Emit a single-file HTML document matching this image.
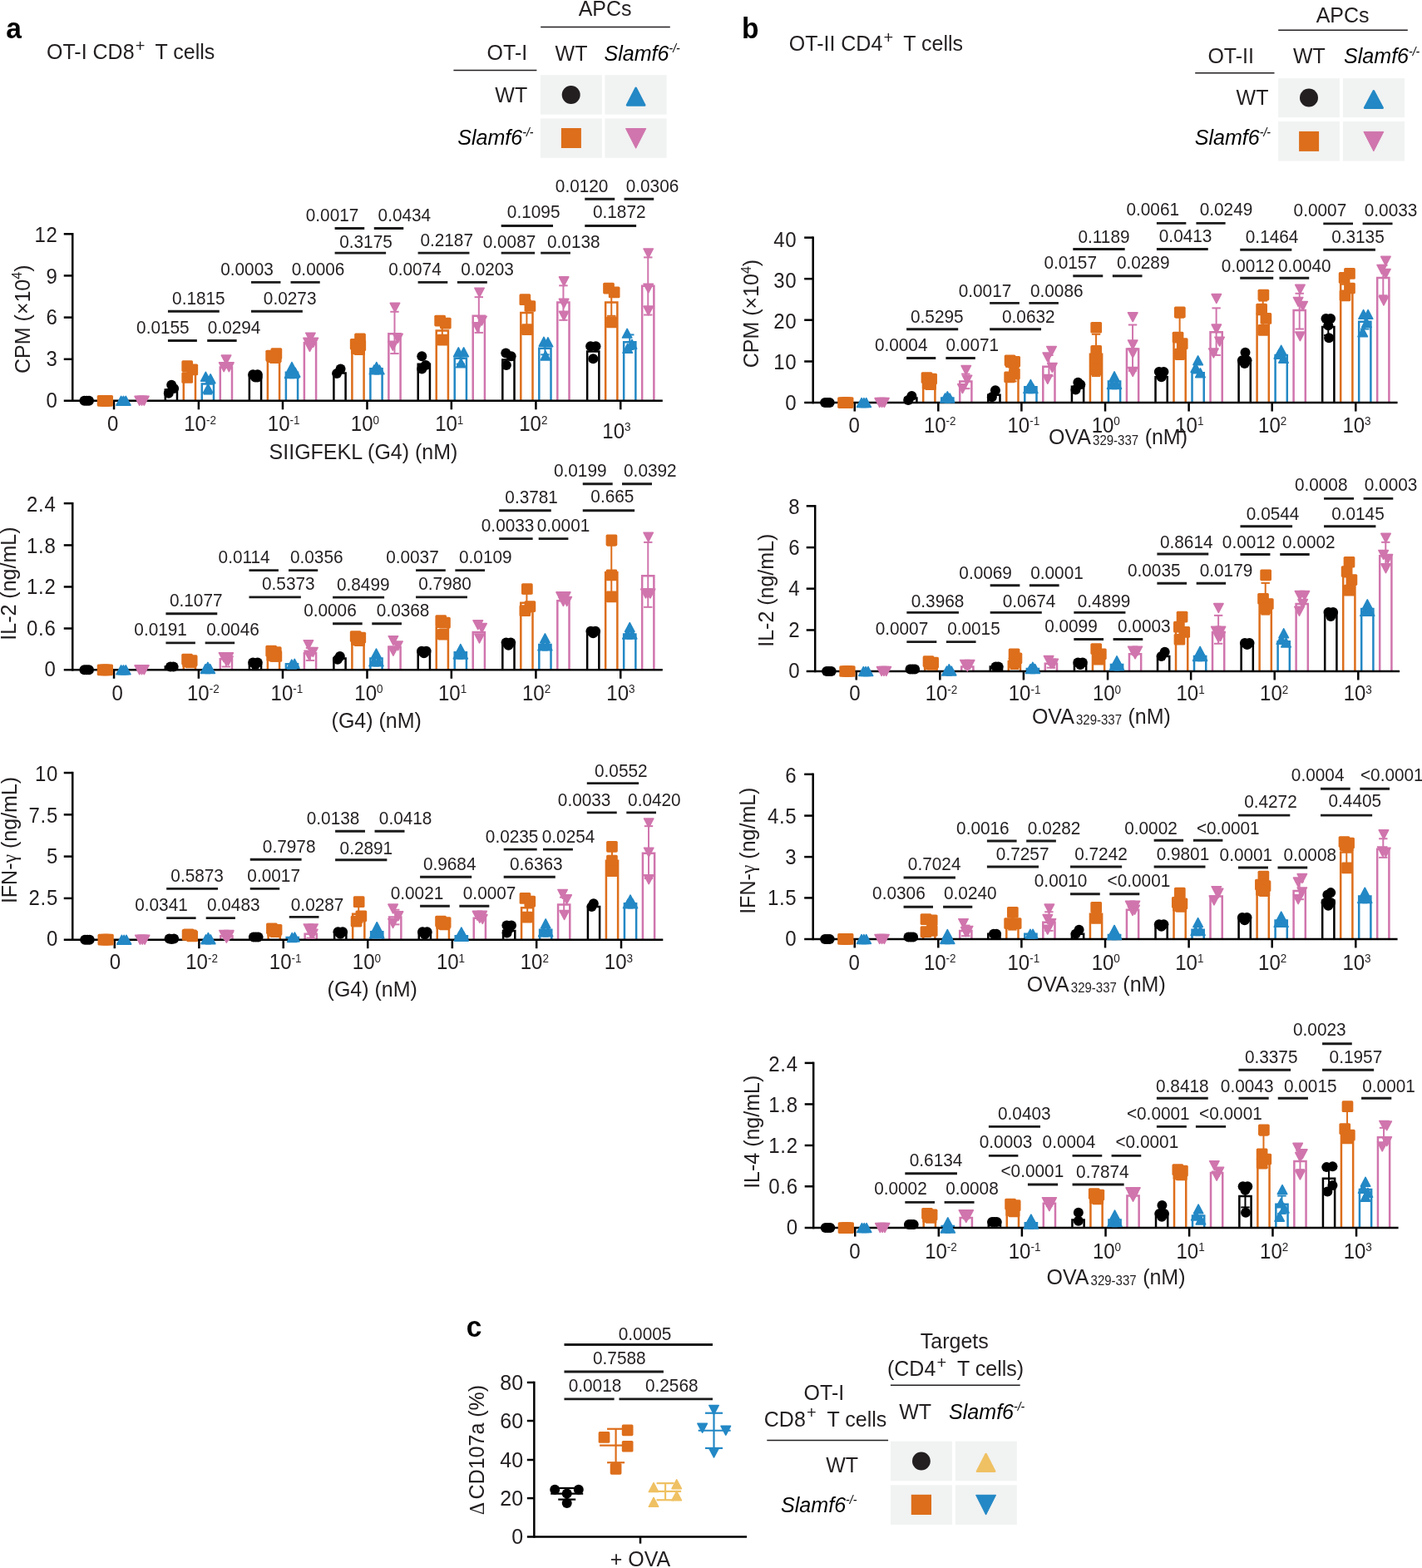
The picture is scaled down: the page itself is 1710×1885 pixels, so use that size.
<!DOCTYPE html>
<html lang="en"><head><meta charset="utf-8"><title>Figure</title>
<style>
html,body{margin:0;padding:0;background:#fff}
svg{display:block;filter:blur(0.5px)}
svg text{font-family:"Liberation Sans",sans-serif}
</style></head><body>
<svg width="1710" height="1885" viewBox="0 0 1710 1885">
<rect width="1710" height="1885" fill="#fff"/>
<g>
<text transform="translate(7.2,46.3) scale(1,1.05)" font-size="33.5" text-anchor="start" fill="#000" font-weight="bold">a</text>
<text transform="translate(892,46.3) scale(1,1.05)" font-size="33.5" text-anchor="start" fill="#000" font-weight="bold">b</text>
<text transform="translate(560.8,1607) scale(1,1.05)" font-size="33.5" text-anchor="start" fill="#000" font-weight="bold">c</text>
<text transform="translate(56,71) scale(1,1.05)" font-size="25" text-anchor="start" fill="#231f20">OT-I CD8<tspan font-size="20" dy="-8.7" dx="1.2">+</tspan><tspan dy="8.7" dx="5.6"> T cells</tspan></text>
<text transform="translate(948.8,61) scale(1,1.05)" font-size="25" text-anchor="start" fill="#231f20">OT-II CD4<tspan font-size="20" dy="-8.7" dx="1.2">+</tspan><tspan dy="8.7" dx="5.6"> T cells</tspan></text>
<text transform="translate(727.6,18.9) scale(1,1.05)" font-size="25" text-anchor="middle" fill="#231f20">APCs</text>
<line x1="650.2" y1="32.6" x2="805.8" y2="32.6" stroke="#231f20" stroke-width="1.5"/>
<text transform="translate(634.2,71.9) scale(1,1.05)" font-size="25" text-anchor="end" fill="#231f20">OT-I</text>
<line x1="545.4" y1="84.6" x2="645.4" y2="84.6" stroke="#231f20" stroke-width="1.5"/>
<text transform="translate(687,72.8) scale(1,1.05)" font-size="25" text-anchor="middle" fill="#231f20">WT</text>
<text transform="translate(726.4,72.8) scale(1,1.05)" font-size="25.1" text-anchor="start" fill="#000" font-style="italic">Slamf6<tspan font-size="14" dy="-9">-/-</tspan></text>
<rect x="649.8" y="90.2" width="74.1" height="47.5" fill="#f1f2f2"/>
<rect x="649.8" y="142.5" width="74.1" height="47.3" fill="#f1f2f2"/>
<rect x="727.4" y="90.2" width="74.2" height="47.5" fill="#f1f2f2"/>
<rect x="727.4" y="142.5" width="74.2" height="47.3" fill="#f1f2f2"/>
<circle cx="686.7" cy="114" r="11" fill="#231f20"/>
<polygon points="754.1,126.4 775.2,126.4 764.65,105.8" fill="#2388c5" stroke="#2388c5" stroke-width="2.6" stroke-linejoin="round"/>
<rect x="674.9" y="154" width="24" height="24" fill="#dd6e1b"/>
<polygon points="752.5,154.5 776.8,154.5 764.65,178.3" fill="#d075ad" stroke="#d075ad" stroke-width="1" stroke-linejoin="round"/>
<text transform="translate(634.2,122.8) scale(1,1.05)" font-size="25" text-anchor="end" fill="#231f20">WT</text>
<text transform="translate(641.5,173.7) scale(1,1.05)" font-size="25.1" text-anchor="end" fill="#000" font-style="italic">Slamf6<tspan font-size="14" dy="-9">-/-</tspan></text>
<text transform="translate(1614.6,27.2) scale(1,1.05)" font-size="25" text-anchor="middle" fill="#231f20">APCs</text>
<line x1="1537.2" y1="36.3" x2="1692.8" y2="36.3" stroke="#231f20" stroke-width="1.5"/>
<text transform="translate(1480.2,75.8) scale(1,1.05)" font-size="25" text-anchor="middle" fill="#231f20">OT-II</text>
<line x1="1437.2" y1="87.7" x2="1532.5" y2="87.7" stroke="#231f20" stroke-width="1.5"/>
<text transform="translate(1574.4,75.8) scale(1,1.05)" font-size="25" text-anchor="middle" fill="#231f20">WT</text>
<text transform="translate(1616,76.3) scale(1,1.05)" font-size="25.1" text-anchor="start" fill="#000" font-style="italic">Slamf6<tspan font-size="14" dy="-9">-/-</tspan></text>
<rect x="1537.2" y="94.2" width="73.7" height="47" fill="#f1f2f2"/>
<rect x="1537.2" y="146" width="73.7" height="47.5" fill="#f1f2f2"/>
<rect x="1614.9" y="94.2" width="74.1" height="47" fill="#f1f2f2"/>
<rect x="1614.9" y="146" width="74.1" height="47.5" fill="#f1f2f2"/>
<circle cx="1574" cy="117.5" r="11" fill="#231f20"/>
<polygon points="1641.1,129.7 1662.6,129.7 1651.85,109.3" fill="#2388c5" stroke="#2388c5" stroke-width="2.6" stroke-linejoin="round"/>
<rect x="1562.1" y="157.9" width="24" height="24" fill="#dd6e1b"/>
<polygon points="1639.9,158.4 1663.8,158.4 1651.85,181.8" fill="#d075ad" stroke="#d075ad" stroke-width="1" stroke-linejoin="round"/>
<text transform="translate(1525.4,126) scale(1,1.05)" font-size="25" text-anchor="end" fill="#231f20">WT</text>
<text transform="translate(1528,173.7) scale(1,1.05)" font-size="25.1" text-anchor="end" fill="#000" font-style="italic">Slamf6<tspan font-size="14" dy="-9">-/-</tspan></text>
<text transform="translate(1147.8,1620.8) scale(1,1.05)" font-size="25" text-anchor="middle" fill="#231f20">Targets</text>
<text transform="translate(1067,1654) scale(1,1.05)" font-size="25" text-anchor="start" fill="#231f20">(CD4<tspan font-size="20" dy="-8.7" dx="1.2">+</tspan><tspan dy="8.7" dx="6.3"> T cells)</tspan></text>
<line x1="1070.9" y1="1665.2" x2="1226.7" y2="1665.2" stroke="#231f20" stroke-width="1.5"/>
<text transform="translate(990.9,1683) scale(1,1.05)" font-size="25" text-anchor="middle" fill="#231f20">OT-I</text>
<text transform="translate(918.8,1714.5) scale(1,1.05)" font-size="25" text-anchor="start" fill="#231f20">CD8<tspan font-size="20" dy="-8.7" dx="1.2">+</tspan><tspan dy="8.7" dx="6.3"> T cells</tspan></text>
<line x1="922.3" y1="1731.6" x2="1068.1" y2="1731.6" stroke="#231f20" stroke-width="1.5"/>
<text transform="translate(1100.7,1705.9) scale(1,1.05)" font-size="25" text-anchor="middle" fill="#231f20">WT</text>
<text transform="translate(1141,1705.9) scale(1,1.05)" font-size="25.1" text-anchor="start" fill="#000" font-style="italic">Slamf6<tspan font-size="14" dy="-9">-/-</tspan></text>
<rect x="1070.9" y="1732.7" width="74" height="47.6" fill="#f1f2f2"/>
<rect x="1070.9" y="1785.3" width="74" height="47.6" fill="#f1f2f2"/>
<rect x="1148.8" y="1732.7" width="74" height="47.6" fill="#f1f2f2"/>
<rect x="1148.8" y="1785.3" width="74" height="47.6" fill="#f1f2f2"/>
<circle cx="1107.9" cy="1756.5" r="10.9" fill="#231f20"/>
<polygon points="1175,1768.8 1196.2,1768.8 1185.6,1748.2" fill="#efc163" stroke="#efc163" stroke-width="2.6" stroke-linejoin="round"/>
<rect x="1095.8" y="1796.8" width="24.2" height="24.2" fill="#dd6e1b"/>
<polygon points="1173.6,1797.3 1197.6,1797.3 1185.6,1821.1" fill="#2388c5" stroke="#2388c5" stroke-width="1" stroke-linejoin="round"/>
<text transform="translate(1032,1769.5) scale(1,1.05)" font-size="25" text-anchor="end" fill="#231f20">WT</text>
<text transform="translate(1030.3,1817.7) scale(1,1.05)" font-size="25.1" text-anchor="end" fill="#000" font-style="italic">Slamf6<tspan font-size="14" dy="-9">-/-</tspan></text>
</g>
<g>
<line x1="87.26" y1="280.05" x2="87.26" y2="483.06" stroke="#000" stroke-width="2.5"/>
<line x1="76.76" y1="281.3" x2="87.26" y2="281.3" stroke="#000" stroke-width="2.5"/>
<text transform="translate(69.5,291.2) scale(1,1.07)" font-size="24" text-anchor="end" fill="#231f20" letter-spacing="0.7">12</text>
<line x1="76.76" y1="331.39" x2="87.26" y2="331.39" stroke="#000" stroke-width="2.5"/>
<text transform="translate(69.5,340.74) scale(1,1.07)" font-size="24" text-anchor="end" fill="#231f20" letter-spacing="0.7">9</text>
<line x1="76.76" y1="381.61" x2="87.26" y2="381.61" stroke="#000" stroke-width="2.5"/>
<text transform="translate(69.5,390.41) scale(1,1.07)" font-size="24" text-anchor="end" fill="#231f20" letter-spacing="0.7">6</text>
<line x1="76.76" y1="431.8" x2="87.26" y2="431.8" stroke="#000" stroke-width="2.5"/>
<text transform="translate(69.5,440.05) scale(1,1.07)" font-size="24" text-anchor="end" fill="#231f20" letter-spacing="0.7">3</text>
<text transform="translate(69.5,489.51) scale(1,1.07)" font-size="24" text-anchor="end" fill="#231f20" letter-spacing="0.7">0</text>
<line x1="137.05" y1="481.81" x2="137.05" y2="492.31" stroke="#000" stroke-width="2.5"/>
<text transform="translate(135.79,518.25) scale(1,1.07)" font-size="24" text-anchor="middle" fill="#231f20">0</text>
<line x1="238.89" y1="481.81" x2="238.89" y2="492.31" stroke="#000" stroke-width="2.5"/>
<text transform="translate(221.24,518.25) scale(1,1.07)" font-size="24" text-anchor="start" fill="#231f20">10<tspan font-size="13.5" dy="-8.1">-2</tspan></text>
<line x1="339.98" y1="481.81" x2="339.98" y2="492.31" stroke="#000" stroke-width="2.5"/>
<text transform="translate(321.83,518.25) scale(1,1.07)" font-size="24" text-anchor="start" fill="#231f20">10<tspan font-size="13.5" dy="-8.1">-1</tspan></text>
<line x1="441.49" y1="481.81" x2="441.49" y2="492.31" stroke="#000" stroke-width="2.5"/>
<text transform="translate(421.83,518.25) scale(1,1.07)" font-size="24" text-anchor="start" fill="#231f20">10<tspan font-size="13.5" dy="-8.1">0</tspan></text>
<line x1="542.83" y1="481.81" x2="542.83" y2="492.31" stroke="#000" stroke-width="2.5"/>
<text transform="translate(523.17,518.25) scale(1,1.07)" font-size="24" text-anchor="start" fill="#231f20">10<tspan font-size="13.5" dy="-8.1">1</tspan></text>
<line x1="644.42" y1="481.81" x2="644.42" y2="492.31" stroke="#000" stroke-width="2.5"/>
<text transform="translate(624.26,518.25) scale(1,1.07)" font-size="24" text-anchor="start" fill="#231f20">10<tspan font-size="13.5" dy="-8.1">2</tspan></text>
<line x1="746.26" y1="481.81" x2="746.26" y2="492.31" stroke="#000" stroke-width="2.5"/>
<text transform="translate(724.34,527.05) scale(1,1.07)" font-size="24" text-anchor="start" fill="#231f20">10<tspan font-size="13.5" dy="-8.1">3</tspan></text>
<text transform="translate(35.9,383.7) rotate(-90) scale(1,1.05)" font-size="25" text-anchor="middle" fill="#231f20">CPM (×10<tspan font-size="16" dy="-9.3">4</tspan><tspan dy="9.3">)</tspan></text>
<text transform="translate(437,552) scale(1,1.05)" font-size="25" text-anchor="middle" fill="#231f20">SIIGFEKL (G4) (nM)</text>
<path d="M198.79 481.81 V468.56 H212.99 V481.81" fill="#fff" stroke="#000000" stroke-width="2.5"/>
<path d="M220.79 481.81 V448.95 H234.99 V481.81" fill="#fff" stroke="#dd6e1b" stroke-width="2.5"/>
<path d="M242.79 481.81 V461.52 H256.99 V481.81" fill="#fff" stroke="#2388c5" stroke-width="2.5"/>
<path d="M264.79 481.81 V441.5 H278.99 V481.81" fill="#fff" stroke="#d075ad" stroke-width="2.5"/>
<path d="M299.88 481.81 V451.84 H314.08 V481.81" fill="#fff" stroke="#000000" stroke-width="2.5"/>
<path d="M321.88 481.81 V428.83 H336.08 V481.81" fill="#fff" stroke="#dd6e1b" stroke-width="2.5"/>
<path d="M343.88 481.81 V447.69 H358.08 V481.81" fill="#fff" stroke="#2388c5" stroke-width="2.5"/>
<path d="M365.88 481.81 V412 H380.08 V481.81" fill="#fff" stroke="#d075ad" stroke-width="2.5"/>
<path d="M401.39 481.81 V448.44 H415.59 V481.81" fill="#fff" stroke="#000000" stroke-width="2.5"/>
<path d="M423.39 481.81 V416.26 H437.59 V481.81" fill="#fff" stroke="#dd6e1b" stroke-width="2.5"/>
<path d="M445.39 481.81 V443.25 H459.59 V481.81" fill="#fff" stroke="#2388c5" stroke-width="2.5"/>
<path d="M467.39 481.81 V401.17 H481.59 V481.81" fill="#fff" stroke="#d075ad" stroke-width="2.5"/>
<path d="M502.73 481.81 V437.63 H516.93 V481.81" fill="#fff" stroke="#000000" stroke-width="2.5"/>
<path d="M524.73 481.81 V397.4 H538.93 V481.81" fill="#fff" stroke="#dd6e1b" stroke-width="2.5"/>
<path d="M546.73 481.81 V430.84 H560.93 V481.81" fill="#fff" stroke="#2388c5" stroke-width="2.5"/>
<path d="M568.73 481.81 V379.8 H582.93 V481.81" fill="#fff" stroke="#d075ad" stroke-width="2.5"/>
<path d="M604.32 481.81 V432.6 H618.52 V481.81" fill="#fff" stroke="#000000" stroke-width="2.5"/>
<path d="M626.32 481.81 V376.02 H640.52 V481.81" fill="#fff" stroke="#dd6e1b" stroke-width="2.5"/>
<path d="M648.32 481.81 V418.77 H662.52 V481.81" fill="#fff" stroke="#2388c5" stroke-width="2.5"/>
<path d="M670.32 481.81 V363.45 H684.52 V481.81" fill="#fff" stroke="#d075ad" stroke-width="2.5"/>
<path d="M706.16 481.81 V422.54 H720.36 V481.81" fill="#fff" stroke="#000000" stroke-width="2.5"/>
<path d="M728.16 481.81 V363.45 H742.36 V481.81" fill="#fff" stroke="#dd6e1b" stroke-width="2.5"/>
<path d="M750.16 481.81 V411.23 H764.36 V481.81" fill="#fff" stroke="#2388c5" stroke-width="2.5"/>
<path d="M772.16 481.81 V343.84 H786.36 V481.81" fill="#fff" stroke="#d075ad" stroke-width="2.5"/>
<line x1="76.76" y1="481.81" x2="796.81" y2="481.81" stroke="#000" stroke-width="2.5"/>
<line x1="249.89" y1="456.49" x2="249.89" y2="473.59" stroke="#2388c5" stroke-width="2"/>
<line x1="244.69" y1="456.49" x2="255.09" y2="456.49" stroke="#2388c5" stroke-width="2"/>
<line x1="244.69" y1="473.59" x2="255.09" y2="473.59" stroke="#2388c5" stroke-width="2"/>
<line x1="474.49" y1="374.77" x2="474.49" y2="425.06" stroke="#d075ad" stroke-width="2"/>
<line x1="469.29" y1="374.77" x2="479.69" y2="374.77" stroke="#d075ad" stroke-width="2"/>
<line x1="469.29" y1="425.06" x2="479.69" y2="425.06" stroke="#d075ad" stroke-width="2"/>
<line x1="531.83" y1="389.85" x2="531.83" y2="406.2" stroke="#dd6e1b" stroke-width="2"/>
<line x1="526.63" y1="389.85" x2="537.03" y2="389.85" stroke="#dd6e1b" stroke-width="2"/>
<line x1="526.63" y1="406.2" x2="537.03" y2="406.2" stroke="#dd6e1b" stroke-width="2"/>
<line x1="553.83" y1="425.06" x2="553.83" y2="437.63" stroke="#2388c5" stroke-width="2"/>
<line x1="548.63" y1="425.06" x2="559.03" y2="425.06" stroke="#2388c5" stroke-width="2"/>
<line x1="548.63" y1="437.63" x2="559.03" y2="437.63" stroke="#2388c5" stroke-width="2"/>
<line x1="575.83" y1="357.16" x2="575.83" y2="399.91" stroke="#d075ad" stroke-width="2"/>
<line x1="570.63" y1="357.16" x2="581.03" y2="357.16" stroke="#d075ad" stroke-width="2"/>
<line x1="570.63" y1="399.91" x2="581.03" y2="399.91" stroke="#d075ad" stroke-width="2"/>
<line x1="633.42" y1="360.94" x2="633.42" y2="392.37" stroke="#dd6e1b" stroke-width="2"/>
<line x1="628.22" y1="360.94" x2="638.62" y2="360.94" stroke="#dd6e1b" stroke-width="2"/>
<line x1="628.22" y1="392.37" x2="638.62" y2="392.37" stroke="#dd6e1b" stroke-width="2"/>
<line x1="655.42" y1="412.49" x2="655.42" y2="426.32" stroke="#2388c5" stroke-width="2"/>
<line x1="650.22" y1="412.49" x2="660.62" y2="412.49" stroke="#2388c5" stroke-width="2"/>
<line x1="650.22" y1="426.32" x2="660.62" y2="426.32" stroke="#2388c5" stroke-width="2"/>
<line x1="677.42" y1="343.33" x2="677.42" y2="384.82" stroke="#d075ad" stroke-width="2"/>
<line x1="672.22" y1="343.33" x2="682.62" y2="343.33" stroke="#d075ad" stroke-width="2"/>
<line x1="672.22" y1="384.82" x2="682.62" y2="384.82" stroke="#d075ad" stroke-width="2"/>
<line x1="735.26" y1="348.36" x2="735.26" y2="379.8" stroke="#dd6e1b" stroke-width="2"/>
<line x1="730.06" y1="348.36" x2="740.46" y2="348.36" stroke="#dd6e1b" stroke-width="2"/>
<line x1="730.06" y1="379.8" x2="740.46" y2="379.8" stroke="#dd6e1b" stroke-width="2"/>
<line x1="757.26" y1="402.43" x2="757.26" y2="420.03" stroke="#2388c5" stroke-width="2"/>
<line x1="752.06" y1="402.43" x2="762.46" y2="402.43" stroke="#2388c5" stroke-width="2"/>
<line x1="752.06" y1="420.03" x2="762.46" y2="420.03" stroke="#2388c5" stroke-width="2"/>
<line x1="779.26" y1="309.39" x2="779.26" y2="378.54" stroke="#d075ad" stroke-width="2"/>
<line x1="774.06" y1="309.39" x2="784.46" y2="309.39" stroke="#d075ad" stroke-width="2"/>
<line x1="774.06" y1="378.54" x2="784.46" y2="378.54" stroke="#d075ad" stroke-width="2"/>
<circle cx="101.4" cy="481.81" r="6" fill="#000000"/>
<circle cx="107" cy="481.81" r="6" fill="#000000"/>
<circle cx="104.2" cy="481.81" r="6" fill="#000000"/>
<rect x="116.74" y="474.96" width="13.7" height="13.7" fill="#dd6e1b" rx="1.6"/>
<rect x="122.34" y="474.96" width="13.7" height="13.7" fill="#dd6e1b" rx="1.6"/>
<rect x="119.54" y="474.96" width="13.7" height="13.7" fill="#dd6e1b" rx="1.6"/>
<polygon points="139.96,487.21 151.36,487.21 145.66,476.41" fill="#2388c5" stroke="#2388c5" stroke-width="1.6" stroke-linejoin="round"/>
<polygon points="145.56,487.21 156.96,487.21 151.26,476.41" fill="#2388c5" stroke="#2388c5" stroke-width="1.6" stroke-linejoin="round"/>
<polygon points="142.76,487.21 154.16,487.21 148.46,476.41" fill="#2388c5" stroke="#2388c5" stroke-width="1.6" stroke-linejoin="round"/>
<polygon points="162.02,476.41 173.42,476.41 167.72,487.21" fill="#d075ad" stroke="#d075ad" stroke-width="1.6" stroke-linejoin="round"/>
<polygon points="167.62,476.41 179.02,476.41 173.32,487.21" fill="#d075ad" stroke="#d075ad" stroke-width="1.6" stroke-linejoin="round"/>
<polygon points="164.82,476.41 176.22,476.41 170.52,487.21" fill="#d075ad" stroke="#d075ad" stroke-width="1.6" stroke-linejoin="round"/>
<circle cx="206.2" cy="462.78" r="6" fill="#000000"/>
<circle cx="209.14" cy="467.05" r="6" fill="#000000"/>
<circle cx="202.78" cy="472.84" r="6" fill="#000000"/>
<rect x="218.36" y="433.3" width="13.7" height="13.7" fill="#dd6e1b" rx="1.6"/>
<rect x="224.44" y="437.57" width="13.7" height="13.7" fill="#dd6e1b" rx="1.6"/>
<rect x="218.36" y="447.13" width="13.7" height="13.7" fill="#dd6e1b" rx="1.6"/>
<polygon points="241.66,458.12 253.06,458.12 247.36,447.32" fill="#2388c5" stroke="#2388c5" stroke-width="1.6" stroke-linejoin="round"/>
<polygon points="247.44,460.63 258.84,460.63 253.14,449.83" fill="#2388c5" stroke="#2388c5" stroke-width="1.6" stroke-linejoin="round"/>
<polygon points="244.5,472.45 255.9,472.45 250.2,461.65" fill="#2388c5" stroke="#2388c5" stroke-width="1.6" stroke-linejoin="round"/>
<polygon points="266.3,427.1 277.7,427.1 272,437.9" fill="#d075ad" stroke="#d075ad" stroke-width="1.6" stroke-linejoin="round"/>
<polygon points="263.5,435.9 274.9,435.9 269.2,446.7" fill="#d075ad" stroke="#d075ad" stroke-width="1.6" stroke-linejoin="round"/>
<polygon points="269.7,435.9 281.1,435.9 275.4,446.7" fill="#d075ad" stroke="#d075ad" stroke-width="1.6" stroke-linejoin="round"/>
<circle cx="304.18" cy="450.2" r="6" fill="#000000"/>
<circle cx="306.98" cy="453.47" r="6" fill="#000000"/>
<circle cx="309.65" cy="453.47" r="6" fill="#000000"/>
<circle cx="309.78" cy="450.2" r="6" fill="#000000"/>
<rect x="325.52" y="418.21" width="13.7" height="13.7" fill="#dd6e1b" rx="1.6"/>
<rect x="323.81" y="423.24" width="13.7" height="13.7" fill="#dd6e1b" rx="1.6"/>
<rect x="319.33" y="420.72" width="13.7" height="13.7" fill="#dd6e1b" rx="1.6"/>
<rect x="324.93" y="422.22" width="13.7" height="13.7" fill="#dd6e1b" rx="1.6"/>
<rect x="320.45" y="422.24" width="13.7" height="13.7" fill="#dd6e1b" rx="1.6"/>
<polygon points="345.28,446.31 356.68,446.31 350.98,435.51" fill="#2388c5" stroke="#2388c5" stroke-width="1.6" stroke-linejoin="round"/>
<polygon points="342.48,454.39 353.88,454.39 348.18,443.59" fill="#2388c5" stroke="#2388c5" stroke-width="1.6" stroke-linejoin="round"/>
<polygon points="349.4,453.09 360.8,453.09 355.1,442.29" fill="#2388c5" stroke="#2388c5" stroke-width="1.6" stroke-linejoin="round"/>
<polygon points="348.08,454.39 359.48,454.39 353.78,443.59" fill="#2388c5" stroke="#2388c5" stroke-width="1.6" stroke-linejoin="round"/>
<polygon points="367.7,400.2 379.1,400.2 373.4,411" fill="#d075ad" stroke="#d075ad" stroke-width="1.6" stroke-linejoin="round"/>
<polygon points="364.9,406.4 376.3,406.4 370.6,417.2" fill="#d075ad" stroke="#d075ad" stroke-width="1.6" stroke-linejoin="round"/>
<polygon points="371.1,406.4 382.5,406.4 376.8,417.2" fill="#d075ad" stroke="#d075ad" stroke-width="1.6" stroke-linejoin="round"/>
<polygon points="366.8,411.6 378.2,411.6 372.5,422.4" fill="#d075ad" stroke="#d075ad" stroke-width="1.6" stroke-linejoin="round"/>
<circle cx="409.56" cy="443.42" r="6" fill="#000000"/>
<circle cx="405.09" cy="448.95" r="6" fill="#000000"/>
<rect x="426.17" y="400.61" width="13.7" height="13.7" fill="#dd6e1b" rx="1.6"/>
<rect x="420.84" y="406.89" width="13.7" height="13.7" fill="#dd6e1b" rx="1.6"/>
<rect x="425.32" y="413.18" width="13.7" height="13.7" fill="#dd6e1b" rx="1.6"/>
<rect x="426.44" y="408.39" width="13.7" height="13.7" fill="#dd6e1b" rx="1.6"/>
<rect x="421.96" y="412.18" width="13.7" height="13.7" fill="#dd6e1b" rx="1.6"/>
<polygon points="447.11,446.3 458.51,446.3 452.81,435.5" fill="#2388c5" stroke="#2388c5" stroke-width="1.6" stroke-linejoin="round"/>
<polygon points="444.26,449.82 455.66,449.82 449.96,439.02" fill="#2388c5" stroke="#2388c5" stroke-width="1.6" stroke-linejoin="round"/>
<polygon points="450.62,449.82 462.02,449.82 456.32,439.02" fill="#2388c5" stroke="#2388c5" stroke-width="1.6" stroke-linejoin="round"/>
<polygon points="469.24,364.34 480.64,364.34 474.94,375.14" fill="#d075ad" stroke="#d075ad" stroke-width="1.6" stroke-linejoin="round"/>
<polygon points="472.77,401.3 484.17,401.3 478.47,412.1" fill="#d075ad" stroke="#d075ad" stroke-width="1.6" stroke-linejoin="round"/>
<polygon points="466.72,410.35 478.12,410.35 472.42,421.15" fill="#d075ad" stroke="#d075ad" stroke-width="1.6" stroke-linejoin="round"/>
<circle cx="507.3" cy="428.33" r="6" fill="#000000"/>
<circle cx="511.9" cy="438.89" r="6" fill="#000000"/>
<circle cx="507.3" cy="443.42" r="6" fill="#000000"/>
<rect x="522.3" y="378.73" width="13.7" height="13.7" fill="#dd6e1b" rx="1.6"/>
<rect x="528.95" y="381.75" width="13.7" height="13.7" fill="#dd6e1b" rx="1.6"/>
<rect x="525.42" y="401.86" width="13.7" height="13.7" fill="#dd6e1b" rx="1.6"/>
<polygon points="545.6,428.7 557,428.7 551.3,417.9" fill="#2388c5" stroke="#2388c5" stroke-width="1.6" stroke-linejoin="round"/>
<polygon points="551.96,428.7 563.36,428.7 557.66,417.9" fill="#2388c5" stroke="#2388c5" stroke-width="1.6" stroke-linejoin="round"/>
<polygon points="548.7,441.77 560.1,441.77 554.4,430.97" fill="#2388c5" stroke="#2388c5" stroke-width="1.6" stroke-linejoin="round"/>
<polygon points="570.83,346.23 582.23,346.23 576.53,357.03" fill="#d075ad" stroke="#d075ad" stroke-width="1.6" stroke-linejoin="round"/>
<polygon points="573.82,380.18 585.22,380.18 579.52,390.98" fill="#d075ad" stroke="#d075ad" stroke-width="1.6" stroke-linejoin="round"/>
<polygon points="568.31,387.72 579.71,387.72 574.01,398.52" fill="#d075ad" stroke="#d075ad" stroke-width="1.6" stroke-linejoin="round"/>
<circle cx="608.31" cy="424.56" r="6" fill="#000000"/>
<circle cx="614.67" cy="428.33" r="6" fill="#000000"/>
<circle cx="608.89" cy="438.89" r="6" fill="#000000"/>
<rect x="624.5" y="353.33" width="13.7" height="13.7" fill="#dd6e1b" rx="1.6"/>
<rect x="630.55" y="361.13" width="13.7" height="13.7" fill="#dd6e1b" rx="1.6"/>
<rect x="627.01" y="389.29" width="13.7" height="13.7" fill="#dd6e1b" rx="1.6"/>
<polygon points="648.28,416.13 659.68,416.13 653.98,405.33" fill="#2388c5" stroke="#2388c5" stroke-width="1.6" stroke-linejoin="round"/>
<polygon points="653.27,416.63 664.67,416.63 658.97,405.83" fill="#2388c5" stroke="#2388c5" stroke-width="1.6" stroke-linejoin="round"/>
<polygon points="650.29,432.97 661.69,432.97 655.99,422.17" fill="#2388c5" stroke="#2388c5" stroke-width="1.6" stroke-linejoin="round"/>
<polygon points="672.42,332.9 683.82,332.9 678.12,343.7" fill="#d075ad" stroke="#d075ad" stroke-width="1.6" stroke-linejoin="round"/>
<polygon points="672.42,359.31 683.82,359.31 678.12,370.11" fill="#d075ad" stroke="#d075ad" stroke-width="1.6" stroke-linejoin="round"/>
<polygon points="672.42,374.4 683.82,374.4 678.12,385.2" fill="#d075ad" stroke="#d075ad" stroke-width="1.6" stroke-linejoin="round"/>
<circle cx="710.15" cy="416.26" r="6" fill="#000000"/>
<circle cx="716.51" cy="416.26" r="6" fill="#000000"/>
<circle cx="713.32" cy="431.35" r="6" fill="#000000"/>
<rect x="725.16" y="339.75" width="13.7" height="13.7" fill="#dd6e1b" rx="1.6"/>
<rect x="731.81" y="344.53" width="13.7" height="13.7" fill="#dd6e1b" rx="1.6"/>
<rect x="728.6" y="380.49" width="13.7" height="13.7" fill="#dd6e1b" rx="1.6"/>
<polygon points="748.46,406.07 759.86,406.07 754.16,395.27" fill="#2388c5" stroke="#2388c5" stroke-width="1.6" stroke-linejoin="round"/>
<polygon points="754.24,419.14 765.64,419.14 759.94,408.34" fill="#2388c5" stroke="#2388c5" stroke-width="1.6" stroke-linejoin="round"/>
<polygon points="749.03,424.17 760.43,424.17 754.73,413.37" fill="#2388c5" stroke="#2388c5" stroke-width="1.6" stroke-linejoin="round"/>
<polygon points="774.01,298.96 785.41,298.96 779.71,309.76" fill="#d075ad" stroke="#d075ad" stroke-width="1.6" stroke-linejoin="round"/>
<polygon points="774.01,341.2 785.41,341.2 779.71,352" fill="#d075ad" stroke="#d075ad" stroke-width="1.6" stroke-linejoin="round"/>
<polygon points="774.01,368.11 785.41,368.11 779.71,378.91" fill="#d075ad" stroke="#d075ad" stroke-width="1.6" stroke-linejoin="round"/>
<line x1="201.93" y1="409.52" x2="236.87" y2="409.52" stroke="#1a1a1a" stroke-width="2.9"/>
<text transform="translate(195.89,401.17) scale(1,1.05)" font-size="20.8" text-anchor="middle" fill="#231f20">0.0155</text>
<line x1="249.2" y1="409.52" x2="284.65" y2="409.52" stroke="#1a1a1a" stroke-width="2.9"/>
<text transform="translate(281.64,401.17) scale(1,1.05)" font-size="20.8" text-anchor="middle" fill="#231f20">0.0294</text>
<line x1="201.93" y1="374.31" x2="263.78" y2="374.31" stroke="#1a1a1a" stroke-width="2.9"/>
<text transform="translate(238.89,365.96) scale(1,1.05)" font-size="20.8" text-anchor="middle" fill="#231f20">0.1815</text>
<line x1="302.01" y1="339.36" x2="337.46" y2="339.36" stroke="#1a1a1a" stroke-width="2.9"/>
<text transform="translate(296.98,330.76) scale(1,1.05)" font-size="20.8" text-anchor="middle" fill="#231f20">0.0003</text>
<line x1="349.54" y1="339.36" x2="384.73" y2="339.36" stroke="#1a1a1a" stroke-width="2.9"/>
<text transform="translate(382.6,330.76) scale(1,1.05)" font-size="20.8" text-anchor="middle" fill="#231f20">0.0006</text>
<line x1="302.01" y1="374.31" x2="363.86" y2="374.31" stroke="#1a1a1a" stroke-width="2.9"/>
<text transform="translate(348.65,365.96) scale(1,1.05)" font-size="20.8" text-anchor="middle" fill="#231f20">0.0273</text>
<line x1="402.59" y1="274.48" x2="438.22" y2="274.48" stroke="#1a1a1a" stroke-width="2.9"/>
<text transform="translate(399.54,265.88) scale(1,1.05)" font-size="20.8" text-anchor="middle" fill="#231f20">0.0017</text>
<line x1="449.79" y1="274.48" x2="485.24" y2="274.48" stroke="#1a1a1a" stroke-width="2.9"/>
<text transform="translate(486.38,265.88) scale(1,1.05)" font-size="20.8" text-anchor="middle" fill="#231f20">0.0434</text>
<line x1="402.59" y1="304.15" x2="464.12" y2="304.15" stroke="#1a1a1a" stroke-width="2.9"/>
<text transform="translate(439.98,297.57) scale(1,1.05)" font-size="20.8" text-anchor="middle" fill="#231f20">0.3175</text>
<line x1="502.6" y1="304.15" x2="564.45" y2="304.15" stroke="#1a1a1a" stroke-width="2.9"/>
<text transform="translate(537.17,295.56) scale(1,1.05)" font-size="20.8" text-anchor="middle" fill="#231f20">0.2187</text>
<line x1="502.6" y1="339.36" x2="538.3" y2="339.36" stroke="#1a1a1a" stroke-width="2.9"/>
<text transform="translate(498.95,330.76) scale(1,1.05)" font-size="20.8" text-anchor="middle" fill="#231f20">0.0074</text>
<line x1="549.87" y1="339.36" x2="585.83" y2="339.36" stroke="#1a1a1a" stroke-width="2.9"/>
<text transform="translate(586.08,330.76) scale(1,1.05)" font-size="20.8" text-anchor="middle" fill="#231f20">0.0203</text>
<line x1="602.68" y1="271.46" x2="665.04" y2="271.46" stroke="#1a1a1a" stroke-width="2.9"/>
<text transform="translate(641.65,262.36) scale(1,1.05)" font-size="20.8" text-anchor="middle" fill="#231f20">0.1095</text>
<line x1="602.68" y1="304.15" x2="643.16" y2="304.15" stroke="#1a1a1a" stroke-width="2.9"/>
<text transform="translate(612.49,297.57) scale(1,1.05)" font-size="20.8" text-anchor="middle" fill="#231f20">0.0087</text>
<line x1="650.21" y1="304.15" x2="685.91" y2="304.15" stroke="#1a1a1a" stroke-width="2.9"/>
<text transform="translate(689.81,297.57) scale(1,1.05)" font-size="20.8" text-anchor="middle" fill="#231f20">0.0138</text>
<line x1="703.27" y1="239.28" x2="739.22" y2="239.28" stroke="#1a1a1a" stroke-width="2.9"/>
<text transform="translate(699.62,230.68) scale(1,1.05)" font-size="20.8" text-anchor="middle" fill="#231f20">0.0120</text>
<line x1="750.54" y1="239.28" x2="786.24" y2="239.28" stroke="#1a1a1a" stroke-width="2.9"/>
<text transform="translate(784.49,230.68) scale(1,1.05)" font-size="20.8" text-anchor="middle" fill="#231f20">0.0306</text>
<line x1="703.27" y1="271.46" x2="765.12" y2="271.46" stroke="#1a1a1a" stroke-width="2.9"/>
<text transform="translate(744.75,262.36) scale(1,1.05)" font-size="20.8" text-anchor="middle" fill="#231f20">0.1872</text>
</g>
<g>
<line x1="87.26" y1="603.88" x2="87.26" y2="806.54" stroke="#000" stroke-width="2.5"/>
<line x1="76.76" y1="605.13" x2="87.26" y2="605.13" stroke="#000" stroke-width="2.5"/>
<text transform="translate(67.5,615.03) scale(1,1.07)" font-size="24" text-anchor="end" fill="#231f20" letter-spacing="0.7">2.4</text>
<line x1="76.76" y1="655.42" x2="87.26" y2="655.42" stroke="#000" stroke-width="2.5"/>
<text transform="translate(67.5,664.77) scale(1,1.07)" font-size="24" text-anchor="end" fill="#231f20" letter-spacing="0.7">1.8</text>
<line x1="76.76" y1="705.46" x2="87.26" y2="705.46" stroke="#000" stroke-width="2.5"/>
<text transform="translate(67.5,714.26) scale(1,1.07)" font-size="24" text-anchor="end" fill="#231f20" letter-spacing="0.7">1.2</text>
<line x1="76.76" y1="755.5" x2="87.26" y2="755.5" stroke="#000" stroke-width="2.5"/>
<text transform="translate(67.5,763.75) scale(1,1.07)" font-size="24" text-anchor="end" fill="#231f20" letter-spacing="0.7">0.6</text>
<text transform="translate(67.5,812.99) scale(1,1.07)" font-size="24" text-anchor="end" fill="#231f20" letter-spacing="0.7">0</text>
<line x1="137.05" y1="805.29" x2="137.05" y2="815.79" stroke="#000" stroke-width="2.5"/>
<text transform="translate(141.07,841.65) scale(1,1.07)" font-size="24" text-anchor="middle" fill="#231f20">0</text>
<line x1="238.89" y1="805.29" x2="238.89" y2="815.79" stroke="#000" stroke-width="2.5"/>
<text transform="translate(225.02,841.65) scale(1,1.07)" font-size="24" text-anchor="start" fill="#231f20">10<tspan font-size="13.5" dy="-8.1">-2</tspan></text>
<line x1="339.98" y1="805.29" x2="339.98" y2="815.79" stroke="#000" stroke-width="2.5"/>
<text transform="translate(325.6,841.65) scale(1,1.07)" font-size="24" text-anchor="start" fill="#231f20">10<tspan font-size="13.5" dy="-8.1">-1</tspan></text>
<line x1="441.49" y1="805.29" x2="441.49" y2="815.79" stroke="#000" stroke-width="2.5"/>
<text transform="translate(426.36,841.65) scale(1,1.07)" font-size="24" text-anchor="start" fill="#231f20">10<tspan font-size="13.5" dy="-8.1">0</tspan></text>
<line x1="542.83" y1="805.29" x2="542.83" y2="815.79" stroke="#000" stroke-width="2.5"/>
<text transform="translate(526.95,841.65) scale(1,1.07)" font-size="24" text-anchor="start" fill="#231f20">10<tspan font-size="13.5" dy="-8.1">1</tspan></text>
<line x1="644.42" y1="805.29" x2="644.42" y2="815.79" stroke="#000" stroke-width="2.5"/>
<text transform="translate(628.03,841.65) scale(1,1.07)" font-size="24" text-anchor="start" fill="#231f20">10<tspan font-size="13.5" dy="-8.1">2</tspan></text>
<line x1="746.26" y1="805.29" x2="746.26" y2="815.79" stroke="#000" stroke-width="2.5"/>
<text transform="translate(729.37,841.65) scale(1,1.07)" font-size="24" text-anchor="start" fill="#231f20">10<tspan font-size="13.5" dy="-8.1">3</tspan></text>
<text transform="translate(19,701.6) rotate(-90) scale(1,1.05)" font-size="25" text-anchor="middle" fill="#231f20">IL-2 (ng/mL)</text>
<text transform="translate(452.7,874.6) scale(1,1.05)" font-size="25" text-anchor="middle" fill="#231f20">(G4) (nM)</text>
<path d="M198.79 805.29 V801.52 H212.99 V805.29" fill="#fff" stroke="#000000" stroke-width="2.5"/>
<path d="M220.79 805.29 V794.73 H234.99 V805.29" fill="#fff" stroke="#dd6e1b" stroke-width="2.5"/>
<path d="M264.79 805.29 V792.22 H278.99 V805.29" fill="#fff" stroke="#d075ad" stroke-width="2.5"/>
<path d="M299.88 805.29 V799.01 H314.08 V805.29" fill="#fff" stroke="#000000" stroke-width="2.5"/>
<path d="M321.88 805.29 V787.69 H336.08 V805.29" fill="#fff" stroke="#dd6e1b" stroke-width="2.5"/>
<path d="M343.88 805.29 V798.13 H358.08 V805.29" fill="#fff" stroke="#2388c5" stroke-width="2.5"/>
<path d="M365.88 805.29 V785.18 H380.08 V805.29" fill="#fff" stroke="#d075ad" stroke-width="2.5"/>
<path d="M401.39 805.29 V791.46 H415.59 V805.29" fill="#fff" stroke="#000000" stroke-width="2.5"/>
<path d="M423.39 805.29 V768.83 H437.59 V805.29" fill="#fff" stroke="#dd6e1b" stroke-width="2.5"/>
<path d="M445.39 805.29 V791.46 H459.59 V805.29" fill="#fff" stroke="#2388c5" stroke-width="2.5"/>
<path d="M467.39 805.29 V777.63 H481.59 V805.29" fill="#fff" stroke="#d075ad" stroke-width="2.5"/>
<path d="M502.73 805.29 V785.18 H516.93 V805.29" fill="#fff" stroke="#000000" stroke-width="2.5"/>
<path d="M524.73 805.29 V753.74 H538.93 V805.29" fill="#fff" stroke="#dd6e1b" stroke-width="2.5"/>
<path d="M546.73 805.29 V784.28 H560.93 V805.29" fill="#fff" stroke="#2388c5" stroke-width="2.5"/>
<path d="M568.73 805.29 V760.03 H582.93 V805.29" fill="#fff" stroke="#d075ad" stroke-width="2.5"/>
<path d="M604.32 805.29 V773.69 H618.52 V805.29" fill="#fff" stroke="#000000" stroke-width="2.5"/>
<path d="M626.32 805.29 V724.82 H640.52 V805.29" fill="#fff" stroke="#dd6e1b" stroke-width="2.5"/>
<path d="M648.32 805.29 V775.12 H662.52 V805.29" fill="#fff" stroke="#2388c5" stroke-width="2.5"/>
<path d="M670.32 805.29 V722.31 H684.52 V805.29" fill="#fff" stroke="#d075ad" stroke-width="2.5"/>
<path d="M706.16 805.29 V759.61 H720.36 V805.29" fill="#fff" stroke="#000000" stroke-width="2.5"/>
<path d="M728.16 805.29 V688.36 H742.36 V805.29" fill="#fff" stroke="#dd6e1b" stroke-width="2.5"/>
<path d="M750.16 805.29 V762.54 H764.36 V805.29" fill="#fff" stroke="#2388c5" stroke-width="2.5"/>
<path d="M772.16 805.29 V692.13 H786.36 V805.29" fill="#fff" stroke="#d075ad" stroke-width="2.5"/>
<line x1="76.76" y1="805.29" x2="796.81" y2="805.29" stroke="#000" stroke-width="2.5"/>
<line x1="271.89" y1="791.46" x2="271.89" y2="801.52" stroke="#d075ad" stroke-width="2"/>
<line x1="266.69" y1="791.46" x2="277.09" y2="791.46" stroke="#d075ad" stroke-width="2"/>
<line x1="266.69" y1="801.52" x2="277.09" y2="801.52" stroke="#d075ad" stroke-width="2"/>
<line x1="372.98" y1="778.89" x2="372.98" y2="793.98" stroke="#d075ad" stroke-width="2"/>
<line x1="367.78" y1="778.89" x2="378.18" y2="778.89" stroke="#d075ad" stroke-width="2"/>
<line x1="367.78" y1="793.98" x2="378.18" y2="793.98" stroke="#d075ad" stroke-width="2"/>
<line x1="633.42" y1="713.51" x2="633.42" y2="736.14" stroke="#dd6e1b" stroke-width="2"/>
<line x1="628.22" y1="713.51" x2="638.62" y2="713.51" stroke="#dd6e1b" stroke-width="2"/>
<line x1="628.22" y1="736.14" x2="638.62" y2="736.14" stroke="#dd6e1b" stroke-width="2"/>
<line x1="735.26" y1="655.67" x2="735.26" y2="721.05" stroke="#dd6e1b" stroke-width="2"/>
<line x1="730.06" y1="655.67" x2="740.46" y2="655.67" stroke="#dd6e1b" stroke-width="2"/>
<line x1="730.06" y1="721.05" x2="740.46" y2="721.05" stroke="#dd6e1b" stroke-width="2"/>
<line x1="779.26" y1="651.9" x2="779.26" y2="729.85" stroke="#d075ad" stroke-width="2"/>
<line x1="774.06" y1="651.9" x2="784.46" y2="651.9" stroke="#d075ad" stroke-width="2"/>
<line x1="774.06" y1="729.85" x2="784.46" y2="729.85" stroke="#d075ad" stroke-width="2"/>
<circle cx="101.4" cy="805.29" r="6" fill="#000000"/>
<circle cx="107" cy="805.29" r="6" fill="#000000"/>
<circle cx="104.2" cy="805.29" r="6" fill="#000000"/>
<rect x="116.74" y="798.44" width="13.7" height="13.7" fill="#dd6e1b" rx="1.6"/>
<rect x="122.34" y="798.44" width="13.7" height="13.7" fill="#dd6e1b" rx="1.6"/>
<rect x="119.54" y="798.44" width="13.7" height="13.7" fill="#dd6e1b" rx="1.6"/>
<polygon points="139.96,810.69 151.36,810.69 145.66,799.89" fill="#2388c5" stroke="#2388c5" stroke-width="1.6" stroke-linejoin="round"/>
<polygon points="145.56,810.69 156.96,810.69 151.26,799.89" fill="#2388c5" stroke="#2388c5" stroke-width="1.6" stroke-linejoin="round"/>
<polygon points="142.76,810.69 154.16,810.69 148.46,799.89" fill="#2388c5" stroke="#2388c5" stroke-width="1.6" stroke-linejoin="round"/>
<polygon points="162.02,799.89 173.42,799.89 167.72,810.69" fill="#d075ad" stroke="#d075ad" stroke-width="1.6" stroke-linejoin="round"/>
<polygon points="167.62,799.89 179.02,799.89 173.32,810.69" fill="#d075ad" stroke="#d075ad" stroke-width="1.6" stroke-linejoin="round"/>
<polygon points="164.82,799.89 176.22,799.89 170.52,810.69" fill="#d075ad" stroke="#d075ad" stroke-width="1.6" stroke-linejoin="round"/>
<circle cx="204.94" cy="801.52" r="6" fill="#000000"/>
<circle cx="208.56" cy="801.52" r="6" fill="#000000"/>
<rect x="218.24" y="785.87" width="13.7" height="13.7" fill="#dd6e1b" rx="1.6"/>
<rect x="222.72" y="789.64" width="13.7" height="13.7" fill="#dd6e1b" rx="1.6"/>
<rect x="223.84" y="787.37" width="13.7" height="13.7" fill="#dd6e1b" rx="1.6"/>
<rect x="219.36" y="788.64" width="13.7" height="13.7" fill="#dd6e1b" rx="1.6"/>
<polygon points="244.19,807.18 255.59,807.18 249.89,796.38" fill="#2388c5" stroke="#2388c5" stroke-width="1.6" stroke-linejoin="round"/>
<polygon points="241.39,809.48 252.79,809.48 247.09,798.68" fill="#2388c5" stroke="#2388c5" stroke-width="1.6" stroke-linejoin="round"/>
<polygon points="246.99,809.48 258.39,809.48 252.69,798.68" fill="#2388c5" stroke="#2388c5" stroke-width="1.6" stroke-linejoin="round"/>
<polygon points="263.39,784.8 274.79,784.8 269.09,795.6" fill="#d075ad" stroke="#d075ad" stroke-width="1.6" stroke-linejoin="round"/>
<polygon points="266.19,788.58 277.59,788.58 271.89,799.38" fill="#d075ad" stroke="#d075ad" stroke-width="1.6" stroke-linejoin="round"/>
<polygon points="268.72,789.08 280.12,789.08 274.42,799.88" fill="#d075ad" stroke="#d075ad" stroke-width="1.6" stroke-linejoin="round"/>
<polygon points="268.99,784.8 280.39,784.8 274.69,795.6" fill="#d075ad" stroke="#d075ad" stroke-width="1.6" stroke-linejoin="round"/>
<circle cx="304.18" cy="796.49" r="6" fill="#000000"/>
<circle cx="306.98" cy="799.01" r="6" fill="#000000"/>
<circle cx="309.78" cy="796.49" r="6" fill="#000000"/>
<rect x="319.33" y="775.81" width="13.7" height="13.7" fill="#dd6e1b" rx="1.6"/>
<rect x="323.81" y="782.1" width="13.7" height="13.7" fill="#dd6e1b" rx="1.6"/>
<rect x="325.52" y="782.1" width="13.7" height="13.7" fill="#dd6e1b" rx="1.6"/>
<rect x="324.93" y="777.31" width="13.7" height="13.7" fill="#dd6e1b" rx="1.6"/>
<rect x="320.45" y="781.1" width="13.7" height="13.7" fill="#dd6e1b" rx="1.6"/>
<polygon points="345.09,803.9 356.49,803.9 350.79,793.1" fill="#2388c5" stroke="#2388c5" stroke-width="1.6" stroke-linejoin="round"/>
<polygon points="348.53,803.15 359.93,803.15 354.23,792.35" fill="#2388c5" stroke="#2388c5" stroke-width="1.6" stroke-linejoin="round"/>
<polygon points="365.21,769.72 376.61,769.72 370.91,780.52" fill="#d075ad" stroke="#d075ad" stroke-width="1.6" stroke-linejoin="round"/>
<polygon points="370.68,778.52 382.08,778.52 376.38,789.32" fill="#d075ad" stroke="#d075ad" stroke-width="1.6" stroke-linejoin="round"/>
<polygon points="365.96,782.29 377.36,782.29 371.66,793.09" fill="#d075ad" stroke="#d075ad" stroke-width="1.6" stroke-linejoin="round"/>
<circle cx="408.8" cy="788.95" r="6" fill="#000000"/>
<circle cx="405.96" cy="792.72" r="6" fill="#000000"/>
<rect x="420.84" y="758.21" width="13.7" height="13.7" fill="#dd6e1b" rx="1.6"/>
<rect x="425.32" y="763.24" width="13.7" height="13.7" fill="#dd6e1b" rx="1.6"/>
<rect x="426.44" y="759.71" width="13.7" height="13.7" fill="#dd6e1b" rx="1.6"/>
<rect x="421.96" y="762.24" width="13.7" height="13.7" fill="#dd6e1b" rx="1.6"/>
<polygon points="446.79,790.83 458.19,790.83 452.49,780.03" fill="#2388c5" stroke="#2388c5" stroke-width="1.6" stroke-linejoin="round"/>
<polygon points="443.99,800.68 455.39,800.68 449.69,789.88" fill="#2388c5" stroke="#2388c5" stroke-width="1.6" stroke-linejoin="round"/>
<polygon points="449.59,800.68 460.99,800.68 455.29,789.88" fill="#2388c5" stroke="#2388c5" stroke-width="1.6" stroke-linejoin="round"/>
<polygon points="467.22,764.69 478.62,764.69 472.92,775.49" fill="#d075ad" stroke="#d075ad" stroke-width="1.6" stroke-linejoin="round"/>
<polygon points="472.77,770.97 484.17,770.97 478.47,781.77" fill="#d075ad" stroke="#d075ad" stroke-width="1.6" stroke-linejoin="round"/>
<polygon points="467.22,777.26 478.62,777.26 472.92,788.06" fill="#d075ad" stroke="#d075ad" stroke-width="1.6" stroke-linejoin="round"/>
<circle cx="507.03" cy="782.66" r="6" fill="#000000"/>
<circle cx="509.83" cy="785.18" r="6" fill="#000000"/>
<circle cx="512.63" cy="782.66" r="6" fill="#000000"/>
<rect x="523.41" y="739.35" width="13.7" height="13.7" fill="#dd6e1b" rx="1.6"/>
<rect x="528.09" y="741.86" width="13.7" height="13.7" fill="#dd6e1b" rx="1.6"/>
<rect x="525.92" y="755.69" width="13.7" height="13.7" fill="#dd6e1b" rx="1.6"/>
<polygon points="548.13,785.3 559.53,785.3 553.83,774.5" fill="#2388c5" stroke="#2388c5" stroke-width="1.6" stroke-linejoin="round"/>
<polygon points="545.33,791.88 556.73,791.88 551.03,781.08" fill="#2388c5" stroke="#2388c5" stroke-width="1.6" stroke-linejoin="round"/>
<polygon points="550.93,791.88 562.33,791.88 556.63,781.08" fill="#2388c5" stroke="#2388c5" stroke-width="1.6" stroke-linejoin="round"/>
<polygon points="569.07,745.83 580.47,745.83 574.77,756.63" fill="#d075ad" stroke="#d075ad" stroke-width="1.6" stroke-linejoin="round"/>
<polygon points="573.82,749.6 585.22,749.6 579.52,760.4" fill="#d075ad" stroke="#d075ad" stroke-width="1.6" stroke-linejoin="round"/>
<polygon points="570.83,762.17 582.23,762.17 576.53,772.97" fill="#d075ad" stroke="#d075ad" stroke-width="1.6" stroke-linejoin="round"/>
<circle cx="608.62" cy="772.6" r="6" fill="#000000"/>
<circle cx="611.42" cy="775.87" r="6" fill="#000000"/>
<circle cx="614.22" cy="772.6" r="6" fill="#000000"/>
<rect x="627.01" y="701.13" width="13.7" height="13.7" fill="#dd6e1b" rx="1.6"/>
<rect x="630.55" y="722.25" width="13.7" height="13.7" fill="#dd6e1b" rx="1.6"/>
<rect x="624.5" y="727.28" width="13.7" height="13.7" fill="#dd6e1b" rx="1.6"/>
<polygon points="649.72,772.73 661.12,772.73 655.42,761.93" fill="#2388c5" stroke="#2388c5" stroke-width="1.6" stroke-linejoin="round"/>
<polygon points="646.92,781.82 658.32,781.82 652.62,771.02" fill="#2388c5" stroke="#2388c5" stroke-width="1.6" stroke-linejoin="round"/>
<polygon points="652.52,781.82 663.92,781.82 658.22,771.02" fill="#2388c5" stroke="#2388c5" stroke-width="1.6" stroke-linejoin="round"/>
<polygon points="668.92,711.88 680.32,711.88 674.62,722.68" fill="#d075ad" stroke="#d075ad" stroke-width="1.6" stroke-linejoin="round"/>
<polygon points="671.72,717.66 683.12,717.66 677.42,728.46" fill="#d075ad" stroke="#d075ad" stroke-width="1.6" stroke-linejoin="round"/>
<polygon points="675.99,717.66 687.39,717.66 681.69,728.46" fill="#d075ad" stroke="#d075ad" stroke-width="1.6" stroke-linejoin="round"/>
<polygon points="674.52,711.88 685.92,711.88 680.22,722.68" fill="#d075ad" stroke="#d075ad" stroke-width="1.6" stroke-linejoin="round"/>
<circle cx="710.46" cy="758.77" r="6" fill="#000000"/>
<circle cx="713.26" cy="761.29" r="6" fill="#000000"/>
<circle cx="716.06" cy="758.77" r="6" fill="#000000"/>
<rect x="728.6" y="642.54" width="13.7" height="13.7" fill="#dd6e1b" rx="1.6"/>
<rect x="728.6" y="684.53" width="13.7" height="13.7" fill="#dd6e1b" rx="1.6"/>
<rect x="728.6" y="710.43" width="13.7" height="13.7" fill="#dd6e1b" rx="1.6"/>
<polygon points="751.56,759.4 762.96,759.4 757.26,748.6" fill="#2388c5" stroke="#2388c5" stroke-width="1.6" stroke-linejoin="round"/>
<polygon points="748.76,767.99 760.16,767.99 754.46,757.19" fill="#2388c5" stroke="#2388c5" stroke-width="1.6" stroke-linejoin="round"/>
<polygon points="754.36,767.99 765.76,767.99 760.06,757.19" fill="#2388c5" stroke="#2388c5" stroke-width="1.6" stroke-linejoin="round"/>
<polygon points="774.01,640.21 785.41,640.21 779.71,651.01" fill="#d075ad" stroke="#d075ad" stroke-width="1.6" stroke-linejoin="round"/>
<polygon points="770.76,708.11 782.16,708.11 776.46,718.91" fill="#d075ad" stroke="#d075ad" stroke-width="1.6" stroke-linejoin="round"/>
<polygon points="773.56,708.11 784.96,708.11 779.26,718.91" fill="#d075ad" stroke="#d075ad" stroke-width="1.6" stroke-linejoin="round"/>
<polygon points="776.36,708.11 787.76,708.11 782.06,718.91" fill="#d075ad" stroke="#d075ad" stroke-width="1.6" stroke-linejoin="round"/>
<line x1="199.41" y1="772.9" x2="234.86" y2="772.9" stroke="#1a1a1a" stroke-width="2.9"/>
<text transform="translate(193.12,764.3) scale(1,1.05)" font-size="20.8" text-anchor="middle" fill="#231f20">0.0191</text>
<line x1="246.69" y1="772.9" x2="282.14" y2="772.9" stroke="#1a1a1a" stroke-width="2.9"/>
<text transform="translate(280,764.3) scale(1,1.05)" font-size="20.8" text-anchor="middle" fill="#231f20">0.0046</text>
<line x1="199.41" y1="737.7" x2="261.27" y2="737.7" stroke="#1a1a1a" stroke-width="2.9"/>
<text transform="translate(235.75,729.1) scale(1,1.05)" font-size="20.8" text-anchor="middle" fill="#231f20">0.1077</text>
<line x1="299.49" y1="685.65" x2="334.94" y2="685.65" stroke="#1a1a1a" stroke-width="2.9"/>
<text transform="translate(293.58,677.05) scale(1,1.05)" font-size="20.8" text-anchor="middle" fill="#231f20">0.0114</text>
<line x1="347.02" y1="685.65" x2="382.22" y2="685.65" stroke="#1a1a1a" stroke-width="2.9"/>
<text transform="translate(380.71,677.05) scale(1,1.05)" font-size="20.8" text-anchor="middle" fill="#231f20">0.0356</text>
<line x1="299.49" y1="717.83" x2="361.85" y2="717.83" stroke="#1a1a1a" stroke-width="2.9"/>
<text transform="translate(346.77,708.98) scale(1,1.05)" font-size="20.8" text-anchor="middle" fill="#231f20">0.5373</text>
<line x1="400.08" y1="718.08" x2="462.11" y2="718.08" stroke="#1a1a1a" stroke-width="2.9"/>
<text transform="translate(436.71,709.74) scale(1,1.05)" font-size="20.8" text-anchor="middle" fill="#231f20">0.8499</text>
<line x1="400.08" y1="749.77" x2="435.7" y2="749.77" stroke="#1a1a1a" stroke-width="2.9"/>
<text transform="translate(396.93,741.17) scale(1,1.05)" font-size="20.8" text-anchor="middle" fill="#231f20">0.0006</text>
<line x1="447.28" y1="749.77" x2="482.98" y2="749.77" stroke="#1a1a1a" stroke-width="2.9"/>
<text transform="translate(484.62,741.17) scale(1,1.05)" font-size="20.8" text-anchor="middle" fill="#231f20">0.0368</text>
<line x1="500.08" y1="685.65" x2="535.79" y2="685.65" stroke="#1a1a1a" stroke-width="2.9"/>
<text transform="translate(495.93,677.05) scale(1,1.05)" font-size="20.8" text-anchor="middle" fill="#231f20">0.0037</text>
<line x1="547.36" y1="685.65" x2="583.06" y2="685.65" stroke="#1a1a1a" stroke-width="2.9"/>
<text transform="translate(583.82,677.05) scale(1,1.05)" font-size="20.8" text-anchor="middle" fill="#231f20">0.0109</text>
<line x1="500.08" y1="717.83" x2="561.94" y2="717.83" stroke="#1a1a1a" stroke-width="2.9"/>
<text transform="translate(535.04,708.98) scale(1,1.05)" font-size="20.8" text-anchor="middle" fill="#231f20">0.7980</text>
<line x1="600.17" y1="613.73" x2="662.77" y2="613.73" stroke="#1a1a1a" stroke-width="2.9"/>
<text transform="translate(639.14,605.38) scale(1,1.05)" font-size="20.8" text-anchor="middle" fill="#231f20">0.3781</text>
<line x1="600.17" y1="647.67" x2="640.65" y2="647.67" stroke="#1a1a1a" stroke-width="2.9"/>
<text transform="translate(610.6,639.33) scale(1,1.05)" font-size="20.8" text-anchor="middle" fill="#231f20">0.0033</text>
<line x1="647.69" y1="647.67" x2="683.39" y2="647.67" stroke="#1a1a1a" stroke-width="2.9"/>
<text transform="translate(677.49,639.33) scale(1,1.05)" font-size="20.8" text-anchor="middle" fill="#231f20">0.0001</text>
<line x1="700.75" y1="581.79" x2="736.7" y2="581.79" stroke="#1a1a1a" stroke-width="2.9"/>
<text transform="translate(697.73,573.19) scale(1,1.05)" font-size="20.8" text-anchor="middle" fill="#231f20">0.0199</text>
<line x1="748.03" y1="581.79" x2="783.98" y2="581.79" stroke="#1a1a1a" stroke-width="2.9"/>
<text transform="translate(781.85,573.19) scale(1,1.05)" font-size="20.8" text-anchor="middle" fill="#231f20">0.0392</text>
<line x1="700.75" y1="613.73" x2="763.11" y2="613.73" stroke="#1a1a1a" stroke-width="2.9"/>
<text transform="translate(736.33,604.12) scale(1,1.05)" font-size="20.8" text-anchor="middle" fill="#231f20">0.665</text>
</g>
<g>
<line x1="87.26" y1="927.79" x2="87.26" y2="1130.95" stroke="#000" stroke-width="2.5"/>
<line x1="76.76" y1="929.04" x2="87.26" y2="929.04" stroke="#000" stroke-width="2.5"/>
<text transform="translate(70,938.94) scale(1,1.07)" font-size="24" text-anchor="end" fill="#231f20" letter-spacing="0.7">10</text>
<line x1="76.76" y1="979.33" x2="87.26" y2="979.33" stroke="#000" stroke-width="2.5"/>
<text transform="translate(70,988.68) scale(1,1.07)" font-size="24" text-anchor="end" fill="#231f20" letter-spacing="0.7">7.5</text>
<line x1="76.76" y1="1029.62" x2="87.26" y2="1029.62" stroke="#000" stroke-width="2.5"/>
<text transform="translate(70,1038.42) scale(1,1.07)" font-size="24" text-anchor="end" fill="#231f20" letter-spacing="0.7">5</text>
<line x1="76.76" y1="1079.91" x2="87.26" y2="1079.91" stroke="#000" stroke-width="2.5"/>
<text transform="translate(70,1088.16) scale(1,1.07)" font-size="24" text-anchor="end" fill="#231f20" letter-spacing="0.7">2.5</text>
<text transform="translate(70,1137.4) scale(1,1.07)" font-size="24" text-anchor="end" fill="#231f20" letter-spacing="0.7">0</text>
<line x1="137.8" y1="1129.7" x2="137.8" y2="1140.2" stroke="#000" stroke-width="2.5"/>
<text transform="translate(138.3,1165.3) scale(1,1.07)" font-size="24" text-anchor="middle" fill="#231f20">0</text>
<line x1="239.39" y1="1129.7" x2="239.39" y2="1140.2" stroke="#000" stroke-width="2.5"/>
<text transform="translate(223.26,1165.3) scale(1,1.07)" font-size="24" text-anchor="start" fill="#231f20">10<tspan font-size="13.5" dy="-8.1">-2</tspan></text>
<line x1="340.73" y1="1129.7" x2="340.73" y2="1140.2" stroke="#000" stroke-width="2.5"/>
<text transform="translate(323.84,1165.3) scale(1,1.07)" font-size="24" text-anchor="start" fill="#231f20">10<tspan font-size="13.5" dy="-8.1">-1</tspan></text>
<line x1="442.25" y1="1129.7" x2="442.25" y2="1140.2" stroke="#000" stroke-width="2.5"/>
<text transform="translate(423.85,1165.3) scale(1,1.07)" font-size="24" text-anchor="start" fill="#231f20">10<tspan font-size="13.5" dy="-8.1">0</tspan></text>
<line x1="543.84" y1="1129.7" x2="543.84" y2="1140.2" stroke="#000" stroke-width="2.5"/>
<text transform="translate(524.93,1165.3) scale(1,1.07)" font-size="24" text-anchor="start" fill="#231f20">10<tspan font-size="13.5" dy="-8.1">1</tspan></text>
<line x1="645.18" y1="1129.7" x2="645.18" y2="1140.2" stroke="#000" stroke-width="2.5"/>
<text transform="translate(625.77,1165.3) scale(1,1.07)" font-size="24" text-anchor="start" fill="#231f20">10<tspan font-size="13.5" dy="-8.1">2</tspan></text>
<line x1="747.02" y1="1129.7" x2="747.02" y2="1140.2" stroke="#000" stroke-width="2.5"/>
<text transform="translate(726.86,1165.3) scale(1,1.07)" font-size="24" text-anchor="start" fill="#231f20">10<tspan font-size="13.5" dy="-8.1">3</tspan></text>
<text transform="translate(20.3,1010) rotate(-90) scale(1,1.05)" font-size="25" text-anchor="middle" fill="#231f20">IFN-<tspan font-family="Liberation Serif, serif" font-size="24">γ</tspan> (ng/mL)</text>
<text transform="translate(447.7,1197.8) scale(1,1.05)" font-size="25" text-anchor="middle" fill="#231f20">(G4) (nM)</text>
<path d="M221.29 1129.7 V1125.18 H235.49 V1129.7" fill="#fff" stroke="#dd6e1b" stroke-width="2.5"/>
<path d="M265.29 1129.7 V1125.18 H279.49 V1129.7" fill="#fff" stroke="#d075ad" stroke-width="2.5"/>
<path d="M300.63 1129.7 V1126.43 H314.83 V1129.7" fill="#fff" stroke="#000000" stroke-width="2.5"/>
<path d="M322.63 1129.7 V1118.39 H336.83 V1129.7" fill="#fff" stroke="#dd6e1b" stroke-width="2.5"/>
<path d="M344.63 1129.7 V1126.94 H358.83 V1129.7" fill="#fff" stroke="#2388c5" stroke-width="2.5"/>
<path d="M366.63 1129.7 V1122.66 H380.83 V1129.7" fill="#fff" stroke="#d075ad" stroke-width="2.5"/>
<path d="M402.15 1129.7 V1120.98 H416.35 V1129.7" fill="#fff" stroke="#000000" stroke-width="2.5"/>
<path d="M424.15 1129.7 V1098.77 H438.35 V1129.7" fill="#fff" stroke="#dd6e1b" stroke-width="2.5"/>
<path d="M446.15 1129.7 V1120.15 H460.35 V1129.7" fill="#fff" stroke="#2388c5" stroke-width="2.5"/>
<path d="M468.15 1129.7 V1102.54 H482.35 V1129.7" fill="#fff" stroke="#d075ad" stroke-width="2.5"/>
<path d="M503.74 1129.7 V1121.24 H517.94 V1129.7" fill="#fff" stroke="#000000" stroke-width="2.5"/>
<path d="M525.74 1129.7 V1111.35 H539.94 V1129.7" fill="#fff" stroke="#dd6e1b" stroke-width="2.5"/>
<path d="M547.74 1129.7 V1125.18 H561.94 V1129.7" fill="#fff" stroke="#2388c5" stroke-width="2.5"/>
<path d="M569.74 1129.7 V1103.8 H583.94 V1129.7" fill="#fff" stroke="#d075ad" stroke-width="2.5"/>
<path d="M605.08 1129.7 V1118.89 H619.28 V1129.7" fill="#fff" stroke="#000000" stroke-width="2.5"/>
<path d="M627.08 1129.7 V1091.23 H641.28 V1129.7" fill="#fff" stroke="#dd6e1b" stroke-width="2.5"/>
<path d="M649.08 1129.7 V1117.63 H663.28 V1129.7" fill="#fff" stroke="#2388c5" stroke-width="2.5"/>
<path d="M671.08 1129.7 V1087.46 H685.28 V1129.7" fill="#fff" stroke="#d075ad" stroke-width="2.5"/>
<path d="M706.92 1129.7 V1089.97 H721.12 V1129.7" fill="#fff" stroke="#000000" stroke-width="2.5"/>
<path d="M728.92 1129.7 V1034.65 H743.12 V1129.7" fill="#fff" stroke="#dd6e1b" stroke-width="2.5"/>
<path d="M750.92 1129.7 V1086.2 H765.12 V1129.7" fill="#fff" stroke="#2388c5" stroke-width="2.5"/>
<path d="M772.92 1129.7 V1025.85 H787.12 V1129.7" fill="#fff" stroke="#d075ad" stroke-width="2.5"/>
<line x1="76.76" y1="1129.7" x2="797.31" y2="1129.7" stroke="#000" stroke-width="2.5"/>
<line x1="373.73" y1="1117.63" x2="373.73" y2="1127.69" stroke="#d075ad" stroke-width="2"/>
<line x1="368.53" y1="1117.63" x2="378.93" y2="1117.63" stroke="#d075ad" stroke-width="2"/>
<line x1="368.53" y1="1127.69" x2="378.93" y2="1127.69" stroke="#d075ad" stroke-width="2"/>
<line x1="431.25" y1="1088.71" x2="431.25" y2="1108.83" stroke="#dd6e1b" stroke-width="2"/>
<line x1="426.05" y1="1088.71" x2="436.45" y2="1088.71" stroke="#dd6e1b" stroke-width="2"/>
<line x1="426.05" y1="1108.83" x2="436.45" y2="1108.83" stroke="#dd6e1b" stroke-width="2"/>
<line x1="475.25" y1="1093.74" x2="475.25" y2="1111.35" stroke="#d075ad" stroke-width="2"/>
<line x1="470.05" y1="1093.74" x2="480.45" y2="1093.74" stroke="#d075ad" stroke-width="2"/>
<line x1="470.05" y1="1111.35" x2="480.45" y2="1111.35" stroke="#d075ad" stroke-width="2"/>
<line x1="634.18" y1="1082.43" x2="634.18" y2="1097.51" stroke="#dd6e1b" stroke-width="2"/>
<line x1="628.98" y1="1082.43" x2="639.38" y2="1082.43" stroke="#dd6e1b" stroke-width="2"/>
<line x1="628.98" y1="1097.51" x2="639.38" y2="1097.51" stroke="#dd6e1b" stroke-width="2"/>
<line x1="678.18" y1="1078.65" x2="678.18" y2="1096.26" stroke="#d075ad" stroke-width="2"/>
<line x1="672.98" y1="1078.65" x2="683.38" y2="1078.65" stroke="#d075ad" stroke-width="2"/>
<line x1="672.98" y1="1096.26" x2="683.38" y2="1096.26" stroke="#d075ad" stroke-width="2"/>
<line x1="736.02" y1="1020.82" x2="736.02" y2="1048.48" stroke="#dd6e1b" stroke-width="2"/>
<line x1="730.82" y1="1020.82" x2="741.22" y2="1020.82" stroke="#dd6e1b" stroke-width="2"/>
<line x1="730.82" y1="1048.48" x2="741.22" y2="1048.48" stroke="#dd6e1b" stroke-width="2"/>
<line x1="780.02" y1="993.16" x2="780.02" y2="1056.02" stroke="#d075ad" stroke-width="2"/>
<line x1="774.82" y1="993.16" x2="785.22" y2="993.16" stroke="#d075ad" stroke-width="2"/>
<line x1="774.82" y1="1056.02" x2="785.22" y2="1056.02" stroke="#d075ad" stroke-width="2"/>
<circle cx="102.16" cy="1129.7" r="6" fill="#000000"/>
<circle cx="107.76" cy="1129.7" r="6" fill="#000000"/>
<circle cx="104.96" cy="1129.7" r="6" fill="#000000"/>
<rect x="117.5" y="1122.85" width="13.7" height="13.7" fill="#dd6e1b" rx="1.6"/>
<rect x="123.1" y="1122.85" width="13.7" height="13.7" fill="#dd6e1b" rx="1.6"/>
<rect x="120.3" y="1122.85" width="13.7" height="13.7" fill="#dd6e1b" rx="1.6"/>
<polygon points="140.71,1135.1 152.11,1135.1 146.41,1124.3" fill="#2388c5" stroke="#2388c5" stroke-width="1.6" stroke-linejoin="round"/>
<polygon points="146.31,1135.1 157.71,1135.1 152.01,1124.3" fill="#2388c5" stroke="#2388c5" stroke-width="1.6" stroke-linejoin="round"/>
<polygon points="143.51,1135.1 154.91,1135.1 149.21,1124.3" fill="#2388c5" stroke="#2388c5" stroke-width="1.6" stroke-linejoin="round"/>
<polygon points="162.77,1124.3 174.17,1124.3 168.47,1135.1" fill="#d075ad" stroke="#d075ad" stroke-width="1.6" stroke-linejoin="round"/>
<polygon points="168.37,1124.3 179.77,1124.3 174.07,1135.1" fill="#d075ad" stroke="#d075ad" stroke-width="1.6" stroke-linejoin="round"/>
<polygon points="165.57,1124.3 176.97,1124.3 171.27,1135.1" fill="#d075ad" stroke="#d075ad" stroke-width="1.6" stroke-linejoin="round"/>
<circle cx="206.39" cy="1128.95" r="6" fill="#000000"/>
<circle cx="203.59" cy="1128.44" r="6" fill="#000000"/>
<circle cx="209.19" cy="1128.44" r="6" fill="#000000"/>
<rect x="218.74" y="1117.07" width="13.7" height="13.7" fill="#dd6e1b" rx="1.6"/>
<rect x="223.22" y="1117.57" width="13.7" height="13.7" fill="#dd6e1b" rx="1.6"/>
<rect x="224.34" y="1118.57" width="13.7" height="13.7" fill="#dd6e1b" rx="1.6"/>
<rect x="219.86" y="1116.57" width="13.7" height="13.7" fill="#dd6e1b" rx="1.6"/>
<polygon points="244.69,1132.34 256.09,1132.34 250.39,1121.54" fill="#2388c5" stroke="#2388c5" stroke-width="1.6" stroke-linejoin="round"/>
<polygon points="241.89,1134.64 253.29,1134.64 247.59,1123.84" fill="#2388c5" stroke="#2388c5" stroke-width="1.6" stroke-linejoin="round"/>
<polygon points="247.49,1134.64 258.89,1134.64 253.19,1123.84" fill="#2388c5" stroke="#2388c5" stroke-width="1.6" stroke-linejoin="round"/>
<polygon points="263.89,1118.52 275.29,1118.52 269.59,1129.32" fill="#d075ad" stroke="#d075ad" stroke-width="1.6" stroke-linejoin="round"/>
<polygon points="266.69,1122.29 278.09,1122.29 272.39,1133.09" fill="#d075ad" stroke="#d075ad" stroke-width="1.6" stroke-linejoin="round"/>
<polygon points="269.23,1119.78 280.63,1119.78 274.93,1130.58" fill="#d075ad" stroke="#d075ad" stroke-width="1.6" stroke-linejoin="round"/>
<polygon points="269.49,1118.52 280.89,1118.52 275.19,1129.32" fill="#d075ad" stroke="#d075ad" stroke-width="1.6" stroke-linejoin="round"/>
<circle cx="304.93" cy="1126.43" r="6" fill="#000000"/>
<circle cx="307.73" cy="1126.43" r="6" fill="#000000"/>
<circle cx="310.53" cy="1126.43" r="6" fill="#000000"/>
<rect x="320.08" y="1109.52" width="13.7" height="13.7" fill="#dd6e1b" rx="1.6"/>
<rect x="324.56" y="1113.3" width="13.7" height="13.7" fill="#dd6e1b" rx="1.6"/>
<rect x="325.68" y="1111.02" width="13.7" height="13.7" fill="#dd6e1b" rx="1.6"/>
<rect x="321.2" y="1112.3" width="13.7" height="13.7" fill="#dd6e1b" rx="1.6"/>
<polygon points="345.59,1132.34 356.99,1132.34 351.29,1121.54" fill="#2388c5" stroke="#2388c5" stroke-width="1.6" stroke-linejoin="round"/>
<polygon points="348.71,1131.83 360.11,1131.83 354.41,1121.03" fill="#2388c5" stroke="#2388c5" stroke-width="1.6" stroke-linejoin="round"/>
<polygon points="365.23,1110.97 376.63,1110.97 370.93,1121.77" fill="#d075ad" stroke="#d075ad" stroke-width="1.6" stroke-linejoin="round"/>
<polygon points="368.03,1116 379.43,1116 373.73,1126.8" fill="#d075ad" stroke="#d075ad" stroke-width="1.6" stroke-linejoin="round"/>
<polygon points="370.57,1117.26 381.97,1117.26 376.27,1128.06" fill="#d075ad" stroke="#d075ad" stroke-width="1.6" stroke-linejoin="round"/>
<polygon points="370.83,1110.97 382.23,1110.97 376.53,1121.77" fill="#d075ad" stroke="#d075ad" stroke-width="1.6" stroke-linejoin="round"/>
<circle cx="406.45" cy="1120.15" r="6" fill="#000000"/>
<circle cx="409.25" cy="1122.66" r="6" fill="#000000"/>
<circle cx="412.05" cy="1120.15" r="6" fill="#000000"/>
<rect x="424.83" y="1077.34" width="13.7" height="13.7" fill="#dd6e1b" rx="1.6"/>
<rect x="427.5" y="1094.44" width="13.7" height="13.7" fill="#dd6e1b" rx="1.6"/>
<rect x="421.72" y="1100.72" width="13.7" height="13.7" fill="#dd6e1b" rx="1.6"/>
<polygon points="447.55,1119.52 458.95,1119.52 453.25,1108.72" fill="#2388c5" stroke="#2388c5" stroke-width="1.6" stroke-linejoin="round"/>
<polygon points="444.75,1127.6 456.15,1127.6 450.45,1116.8" fill="#2388c5" stroke="#2388c5" stroke-width="1.6" stroke-linejoin="round"/>
<polygon points="450.35,1127.6 461.75,1127.6 456.05,1116.8" fill="#2388c5" stroke="#2388c5" stroke-width="1.6" stroke-linejoin="round"/>
<polygon points="466.88,1087.09 478.28,1087.09 472.58,1097.89" fill="#d075ad" stroke="#d075ad" stroke-width="1.6" stroke-linejoin="round"/>
<polygon points="473.24,1095.89 484.64,1095.89 478.94,1106.69" fill="#d075ad" stroke="#d075ad" stroke-width="1.6" stroke-linejoin="round"/>
<polygon points="466.88,1104.69 478.28,1104.69 472.58,1115.49" fill="#d075ad" stroke="#d075ad" stroke-width="1.6" stroke-linejoin="round"/>
<circle cx="508.04" cy="1120.15" r="6" fill="#000000"/>
<circle cx="510.84" cy="1123.42" r="6" fill="#000000"/>
<circle cx="513.64" cy="1120.15" r="6" fill="#000000"/>
<rect x="523.19" y="1100.72" width="13.7" height="13.7" fill="#dd6e1b" rx="1.6"/>
<rect x="527.67" y="1104.5" width="13.7" height="13.7" fill="#dd6e1b" rx="1.6"/>
<rect x="528.79" y="1102.22" width="13.7" height="13.7" fill="#dd6e1b" rx="1.6"/>
<rect x="524.31" y="1103.5" width="13.7" height="13.7" fill="#dd6e1b" rx="1.6"/>
<polygon points="549.14,1125.8 560.54,1125.8 554.84,1115" fill="#2388c5" stroke="#2388c5" stroke-width="1.6" stroke-linejoin="round"/>
<polygon points="546.34,1131.12 557.74,1131.12 552.04,1120.32" fill="#2388c5" stroke="#2388c5" stroke-width="1.6" stroke-linejoin="round"/>
<polygon points="551.94,1131.12 563.34,1131.12 557.64,1120.32" fill="#2388c5" stroke="#2388c5" stroke-width="1.6" stroke-linejoin="round"/>
<polygon points="568.34,1095.38 579.74,1095.38 574.04,1106.18" fill="#d075ad" stroke="#d075ad" stroke-width="1.6" stroke-linejoin="round"/>
<polygon points="571.14,1098.4 582.54,1098.4 576.84,1109.2" fill="#d075ad" stroke="#d075ad" stroke-width="1.6" stroke-linejoin="round"/>
<polygon points="574.54,1099.66 585.94,1099.66 580.24,1110.46" fill="#d075ad" stroke="#d075ad" stroke-width="1.6" stroke-linejoin="round"/>
<polygon points="573.94,1095.38 585.34,1095.38 579.64,1106.18" fill="#d075ad" stroke="#d075ad" stroke-width="1.6" stroke-linejoin="round"/>
<circle cx="609.38" cy="1112.6" r="6" fill="#000000"/>
<circle cx="612.18" cy="1116.37" r="6" fill="#000000"/>
<circle cx="609.64" cy="1121.4" r="6" fill="#000000"/>
<circle cx="614.98" cy="1112.6" r="6" fill="#000000"/>
<rect x="624.65" y="1073.06" width="13.7" height="13.7" fill="#dd6e1b" rx="1.6"/>
<rect x="630.43" y="1076.83" width="13.7" height="13.7" fill="#dd6e1b" rx="1.6"/>
<rect x="627.01" y="1095.69" width="13.7" height="13.7" fill="#dd6e1b" rx="1.6"/>
<polygon points="650.48,1115.75 661.88,1115.75 656.18,1104.95" fill="#2388c5" stroke="#2388c5" stroke-width="1.6" stroke-linejoin="round"/>
<polygon points="647.95,1125.55 659.35,1125.55 653.65,1114.75" fill="#2388c5" stroke="#2388c5" stroke-width="1.6" stroke-linejoin="round"/>
<polygon points="647.68,1125.59 659.08,1125.59 653.38,1114.79" fill="#2388c5" stroke="#2388c5" stroke-width="1.6" stroke-linejoin="round"/>
<polygon points="653.28,1125.59 664.68,1125.59 658.98,1114.79" fill="#2388c5" stroke="#2388c5" stroke-width="1.6" stroke-linejoin="round"/>
<polygon points="670.91,1069.48 682.31,1069.48 676.61,1080.28" fill="#d075ad" stroke="#d075ad" stroke-width="1.6" stroke-linejoin="round"/>
<polygon points="675.88,1075.77 687.28,1075.77 681.58,1086.57" fill="#d075ad" stroke="#d075ad" stroke-width="1.6" stroke-linejoin="round"/>
<polygon points="672.92,1094.63 684.32,1094.63 678.62,1105.43" fill="#d075ad" stroke="#d075ad" stroke-width="1.6" stroke-linejoin="round"/>
<circle cx="713.82" cy="1086.2" r="6" fill="#000000"/>
<circle cx="711.48" cy="1089.97" r="6" fill="#000000"/>
<rect x="729.1" y="1010.95" width="13.7" height="13.7" fill="#dd6e1b" rx="1.6"/>
<rect x="729.1" y="1027.8" width="13.7" height="13.7" fill="#dd6e1b" rx="1.6"/>
<rect x="729.1" y="1040.37" width="13.7" height="13.7" fill="#dd6e1b" rx="1.6"/>
<polygon points="752.32,1086.83 763.72,1086.83 758.02,1076.03" fill="#2388c5" stroke="#2388c5" stroke-width="1.6" stroke-linejoin="round"/>
<polygon points="749.52,1091.64 760.92,1091.64 755.22,1080.84" fill="#2388c5" stroke="#2388c5" stroke-width="1.6" stroke-linejoin="round"/>
<polygon points="755.12,1091.64 766.52,1091.64 760.82,1080.84" fill="#2388c5" stroke="#2388c5" stroke-width="1.6" stroke-linejoin="round"/>
<polygon points="774.51,983.99 785.91,983.99 780.21,994.79" fill="#d075ad" stroke="#d075ad" stroke-width="1.6" stroke-linejoin="round"/>
<polygon points="774.51,1019.19 785.91,1019.19 780.21,1029.99" fill="#d075ad" stroke="#d075ad" stroke-width="1.6" stroke-linejoin="round"/>
<polygon points="774.51,1051.88 785.91,1051.88 780.21,1062.68" fill="#d075ad" stroke="#d075ad" stroke-width="1.6" stroke-linejoin="round"/>
<line x1="200.17" y1="1103.6" x2="235.62" y2="1103.6" stroke="#1a1a1a" stroke-width="2.9"/>
<text transform="translate(194,1095) scale(1,1.05)" font-size="20.8" text-anchor="middle" fill="#231f20">0.0341</text>
<line x1="247.69" y1="1103.6" x2="282.89" y2="1103.6" stroke="#1a1a1a" stroke-width="2.9"/>
<text transform="translate(280.76,1095) scale(1,1.05)" font-size="20.8" text-anchor="middle" fill="#231f20">0.0483</text>
<line x1="200.17" y1="1068.39" x2="262.02" y2="1068.39" stroke="#1a1a1a" stroke-width="2.9"/>
<text transform="translate(237.13,1059.8) scale(1,1.05)" font-size="20.8" text-anchor="middle" fill="#231f20">0.5873</text>
<line x1="300.75" y1="1068.39" x2="336.2" y2="1068.39" stroke="#1a1a1a" stroke-width="2.9"/>
<text transform="translate(329.16,1059.8) scale(1,1.05)" font-size="20.8" text-anchor="middle" fill="#231f20">0.0017</text>
<line x1="300.75" y1="1033.19" x2="362.61" y2="1033.19" stroke="#1a1a1a" stroke-width="2.9"/>
<text transform="translate(347.65,1024.59) scale(1,1.05)" font-size="20.8" text-anchor="middle" fill="#231f20">0.7978</text>
<line x1="347.77" y1="1102.34" x2="383.48" y2="1102.34" stroke="#1a1a1a" stroke-width="2.9"/>
<text transform="translate(381.59,1095) scale(1,1.05)" font-size="20.8" text-anchor="middle" fill="#231f20">0.0287</text>
<line x1="403.1" y1="999.24" x2="438.97" y2="999.24" stroke="#1a1a1a" stroke-width="2.9"/>
<text transform="translate(400.54,990.64) scale(1,1.05)" font-size="20.8" text-anchor="middle" fill="#231f20">0.0138</text>
<line x1="403.1" y1="1033.69" x2="465.38" y2="1033.69" stroke="#1a1a1a" stroke-width="2.9"/>
<text transform="translate(440.36,1026.6) scale(1,1.05)" font-size="20.8" text-anchor="middle" fill="#231f20">0.2891</text>
<line x1="450.55" y1="999.24" x2="486.5" y2="999.24" stroke="#1a1a1a" stroke-width="2.9"/>
<text transform="translate(487.63,990.64) scale(1,1.05)" font-size="20.8" text-anchor="middle" fill="#231f20">0.0418</text>
<line x1="505.11" y1="1054.31" x2="567.22" y2="1054.31" stroke="#1a1a1a" stroke-width="2.9"/>
<text transform="translate(540.69,1045.96) scale(1,1.05)" font-size="20.8" text-anchor="middle" fill="#231f20">0.9684</text>
<line x1="505.11" y1="1089.26" x2="540.82" y2="1089.26" stroke="#1a1a1a" stroke-width="2.9"/>
<text transform="translate(501.46,1080.67) scale(1,1.05)" font-size="20.8" text-anchor="middle" fill="#231f20">0.0021</text>
<line x1="552.39" y1="1089.26" x2="588.34" y2="1089.26" stroke="#1a1a1a" stroke-width="2.9"/>
<text transform="translate(588.6,1080.67) scale(1,1.05)" font-size="20.8" text-anchor="middle" fill="#231f20">0.0007</text>
<line x1="605.7" y1="1021.12" x2="645.68" y2="1021.12" stroke="#1a1a1a" stroke-width="2.9"/>
<text transform="translate(615.63,1013.27) scale(1,1.05)" font-size="20.8" text-anchor="middle" fill="#231f20">0.0235</text>
<line x1="652.97" y1="1021.12" x2="688.93" y2="1021.12" stroke="#1a1a1a" stroke-width="2.9"/>
<text transform="translate(683.52,1013.27) scale(1,1.05)" font-size="20.8" text-anchor="middle" fill="#231f20">0.0254</text>
<line x1="605.7" y1="1054.31" x2="667.8" y2="1054.31" stroke="#1a1a1a" stroke-width="2.9"/>
<text transform="translate(644.8,1045.96) scale(1,1.05)" font-size="20.8" text-anchor="middle" fill="#231f20">0.6363</text>
<line x1="705.78" y1="976.86" x2="741.73" y2="976.86" stroke="#1a1a1a" stroke-width="2.9"/>
<text transform="translate(702.63,968.51) scale(1,1.05)" font-size="20.8" text-anchor="middle" fill="#231f20">0.0033</text>
<line x1="753.31" y1="976.86" x2="789.01" y2="976.86" stroke="#1a1a1a" stroke-width="2.9"/>
<text transform="translate(786.87,968.51) scale(1,1.05)" font-size="20.8" text-anchor="middle" fill="#231f20">0.0420</text>
<line x1="705.78" y1="941.66" x2="768.14" y2="941.66" stroke="#1a1a1a" stroke-width="2.9"/>
<text transform="translate(746.77,933.56) scale(1,1.05)" font-size="20.8" text-anchor="middle" fill="#231f20">0.0552</text>
</g>
<g>
<line x1="977.68" y1="284.39" x2="977.68" y2="485.29" stroke="#000" stroke-width="2.5"/>
<line x1="967.18" y1="285.64" x2="977.68" y2="285.64" stroke="#000" stroke-width="2.5"/>
<text transform="translate(958.4,296.74) scale(1,1.07)" font-size="24" text-anchor="end" fill="#231f20" letter-spacing="0.7">40</text>
<line x1="967.18" y1="335.17" x2="977.68" y2="335.17" stroke="#000" stroke-width="2.5"/>
<text transform="translate(958.4,345.72) scale(1,1.07)" font-size="24" text-anchor="end" fill="#231f20" letter-spacing="0.7">30</text>
<line x1="967.18" y1="384.71" x2="977.68" y2="384.71" stroke="#000" stroke-width="2.5"/>
<text transform="translate(958.4,394.71) scale(1,1.07)" font-size="24" text-anchor="end" fill="#231f20" letter-spacing="0.7">20</text>
<line x1="967.18" y1="434.5" x2="977.68" y2="434.5" stroke="#000" stroke-width="2.5"/>
<text transform="translate(958.4,443.95) scale(1,1.07)" font-size="24" text-anchor="end" fill="#231f20" letter-spacing="0.7">10</text>
<text transform="translate(958.4,492.94) scale(1,1.07)" font-size="24" text-anchor="end" fill="#231f20" letter-spacing="0.7">0</text>
<line x1="1027.73" y1="484.04" x2="1027.73" y2="494.54" stroke="#000" stroke-width="2.5"/>
<text transform="translate(1027.22,519.89) scale(1,1.07)" font-size="24" text-anchor="middle" fill="#231f20">0</text>
<line x1="1128.31" y1="484.04" x2="1128.31" y2="494.54" stroke="#000" stroke-width="2.5"/>
<text transform="translate(1110.92,519.89) scale(1,1.07)" font-size="24" text-anchor="start" fill="#231f20">10<tspan font-size="13.5" dy="-8.1">-2</tspan></text>
<line x1="1228.39" y1="484.04" x2="1228.39" y2="494.54" stroke="#000" stroke-width="2.5"/>
<text transform="translate(1211.5,519.89) scale(1,1.07)" font-size="24" text-anchor="start" fill="#231f20">10<tspan font-size="13.5" dy="-8.1">-1</tspan></text>
<line x1="1329.04" y1="484.04" x2="1329.04" y2="494.54" stroke="#000" stroke-width="2.5"/>
<text transform="translate(1312.65,519.89) scale(1,1.07)" font-size="24" text-anchor="start" fill="#231f20">10<tspan font-size="13.5" dy="-8.1">0</tspan></text>
<line x1="1429.62" y1="484.04" x2="1429.62" y2="494.54" stroke="#000" stroke-width="2.5"/>
<text transform="translate(1413.23,519.89) scale(1,1.07)" font-size="24" text-anchor="start" fill="#231f20">10<tspan font-size="13.5" dy="-8.1">1</tspan></text>
<line x1="1529.7" y1="484.04" x2="1529.7" y2="494.54" stroke="#000" stroke-width="2.5"/>
<text transform="translate(1513.06,519.89) scale(1,1.07)" font-size="24" text-anchor="start" fill="#231f20">10<tspan font-size="13.5" dy="-8.1">2</tspan></text>
<line x1="1630.29" y1="484.04" x2="1630.29" y2="494.54" stroke="#000" stroke-width="2.5"/>
<text transform="translate(1614.4,519.89) scale(1,1.07)" font-size="24" text-anchor="start" fill="#231f20">10<tspan font-size="13.5" dy="-8.1">3</tspan></text>
<text transform="translate(912.3,377.1) rotate(-90) scale(1,1.05)" font-size="25" text-anchor="middle" fill="#231f20">CPM (×10<tspan font-size="16" dy="-9.3">4</tspan><tspan dy="9.3">)</tspan></text>
<text transform="translate(1261,533.9) scale(1,1.05)" font-size="25" text-anchor="start" fill="#231f20">OVA<tspan font-size="15" dy="1.4" dx="2.2">329-337</tspan><tspan dy="-1.4" dx="0.6"> (nM)</tspan></text>
<path d="M1088.21 484.04 V478.51 H1102.41 V484.04" fill="#fff" stroke="#000000" stroke-width="2.5"/>
<path d="M1110.21 484.04 V458.26 H1124.41 V484.04" fill="#fff" stroke="#dd6e1b" stroke-width="2.5"/>
<path d="M1132.21 484.04 V478.51 H1146.41 V484.04" fill="#fff" stroke="#2388c5" stroke-width="2.5"/>
<path d="M1154.21 484.04 V458.39 H1168.41 V484.04" fill="#fff" stroke="#d075ad" stroke-width="2.5"/>
<path d="M1188.29 484.04 V474.74 H1202.49 V484.04" fill="#fff" stroke="#000000" stroke-width="2.5"/>
<path d="M1210.29 484.04 V448.33 H1224.49 V484.04" fill="#fff" stroke="#dd6e1b" stroke-width="2.5"/>
<path d="M1232.29 484.04 V465.18 H1246.49 V484.04" fill="#fff" stroke="#2388c5" stroke-width="2.5"/>
<path d="M1254.29 484.04 V440.79 H1268.49 V484.04" fill="#fff" stroke="#d075ad" stroke-width="2.5"/>
<path d="M1288.94 484.04 V464.68 H1303.14 V484.04" fill="#fff" stroke="#000000" stroke-width="2.5"/>
<path d="M1310.94 484.04 V425.7 H1325.14 V484.04" fill="#fff" stroke="#dd6e1b" stroke-width="2.5"/>
<path d="M1332.94 484.04 V458.39 H1347.14 V484.04" fill="#fff" stroke="#2388c5" stroke-width="2.5"/>
<path d="M1354.94 484.04 V419.41 H1369.14 V484.04" fill="#fff" stroke="#d075ad" stroke-width="2.5"/>
<path d="M1389.52 484.04 V453.36 H1403.72 V484.04" fill="#fff" stroke="#000000" stroke-width="2.5"/>
<path d="M1411.52 484.04 V409.35 H1425.72 V484.04" fill="#fff" stroke="#dd6e1b" stroke-width="2.5"/>
<path d="M1433.52 484.04 V448.33 H1447.72 V484.04" fill="#fff" stroke="#2388c5" stroke-width="2.5"/>
<path d="M1455.52 484.04 V399.3 H1469.72 V484.04" fill="#fff" stroke="#d075ad" stroke-width="2.5"/>
<path d="M1489.6 484.04 V433.24 H1503.8 V484.04" fill="#fff" stroke="#000000" stroke-width="2.5"/>
<path d="M1511.6 484.04 V377.92 H1525.8 V484.04" fill="#fff" stroke="#dd6e1b" stroke-width="2.5"/>
<path d="M1533.6 484.04 V426.96 H1547.8 V484.04" fill="#fff" stroke="#2388c5" stroke-width="2.5"/>
<path d="M1555.6 484.04 V372.89 H1569.8 V484.04" fill="#fff" stroke="#d075ad" stroke-width="2.5"/>
<path d="M1590.19 484.04 V393.01 H1604.39 V484.04" fill="#fff" stroke="#000000" stroke-width="2.5"/>
<path d="M1612.19 484.04 V341.46 H1626.39 V484.04" fill="#fff" stroke="#dd6e1b" stroke-width="2.5"/>
<path d="M1634.19 484.04 V386.72 H1648.39 V484.04" fill="#fff" stroke="#2388c5" stroke-width="2.5"/>
<path d="M1656.19 484.04 V333.92 H1670.39 V484.04" fill="#fff" stroke="#d075ad" stroke-width="2.5"/>
<line x1="967.18" y1="484.04" x2="1680.58" y2="484.04" stroke="#000" stroke-width="2.5"/>
<line x1="1161.31" y1="449.59" x2="1161.31" y2="467.19" stroke="#d075ad" stroke-width="2"/>
<line x1="1156.11" y1="449.59" x2="1166.51" y2="449.59" stroke="#d075ad" stroke-width="2"/>
<line x1="1156.11" y1="467.19" x2="1166.51" y2="467.19" stroke="#d075ad" stroke-width="2"/>
<line x1="1217.39" y1="434.5" x2="1217.39" y2="458.39" stroke="#dd6e1b" stroke-width="2"/>
<line x1="1212.19" y1="434.5" x2="1222.59" y2="434.5" stroke="#dd6e1b" stroke-width="2"/>
<line x1="1212.19" y1="458.39" x2="1222.59" y2="458.39" stroke="#dd6e1b" stroke-width="2"/>
<line x1="1261.39" y1="426.96" x2="1261.39" y2="452.1" stroke="#d075ad" stroke-width="2"/>
<line x1="1256.19" y1="426.96" x2="1266.59" y2="426.96" stroke="#d075ad" stroke-width="2"/>
<line x1="1256.19" y1="452.1" x2="1266.59" y2="452.1" stroke="#d075ad" stroke-width="2"/>
<line x1="1318.04" y1="401.81" x2="1318.04" y2="452.1" stroke="#dd6e1b" stroke-width="2"/>
<line x1="1312.84" y1="401.81" x2="1323.24" y2="401.81" stroke="#dd6e1b" stroke-width="2"/>
<line x1="1312.84" y1="452.1" x2="1323.24" y2="452.1" stroke="#dd6e1b" stroke-width="2"/>
<line x1="1362.04" y1="390.5" x2="1362.04" y2="445.82" stroke="#d075ad" stroke-width="2"/>
<line x1="1356.84" y1="390.5" x2="1367.24" y2="390.5" stroke="#d075ad" stroke-width="2"/>
<line x1="1356.84" y1="445.82" x2="1367.24" y2="445.82" stroke="#d075ad" stroke-width="2"/>
<line x1="1418.62" y1="381.69" x2="1418.62" y2="431.99" stroke="#dd6e1b" stroke-width="2"/>
<line x1="1413.42" y1="381.69" x2="1423.82" y2="381.69" stroke="#dd6e1b" stroke-width="2"/>
<line x1="1413.42" y1="431.99" x2="1423.82" y2="431.99" stroke="#dd6e1b" stroke-width="2"/>
<line x1="1462.62" y1="370.38" x2="1462.62" y2="426.96" stroke="#d075ad" stroke-width="2"/>
<line x1="1457.42" y1="370.38" x2="1467.82" y2="370.38" stroke="#d075ad" stroke-width="2"/>
<line x1="1457.42" y1="426.96" x2="1467.82" y2="426.96" stroke="#d075ad" stroke-width="2"/>
<line x1="1518.7" y1="361.58" x2="1518.7" y2="396.78" stroke="#dd6e1b" stroke-width="2"/>
<line x1="1513.5" y1="361.58" x2="1523.9" y2="361.58" stroke="#dd6e1b" stroke-width="2"/>
<line x1="1513.5" y1="396.78" x2="1523.9" y2="396.78" stroke="#dd6e1b" stroke-width="2"/>
<line x1="1562.7" y1="352.78" x2="1562.7" y2="395.52" stroke="#d075ad" stroke-width="2"/>
<line x1="1557.5" y1="352.78" x2="1567.9" y2="352.78" stroke="#d075ad" stroke-width="2"/>
<line x1="1557.5" y1="395.52" x2="1567.9" y2="395.52" stroke="#d075ad" stroke-width="2"/>
<line x1="1597.29" y1="386.72" x2="1597.29" y2="403.07" stroke="#000000" stroke-width="2"/>
<line x1="1592.09" y1="386.72" x2="1602.49" y2="386.72" stroke="#000000" stroke-width="2"/>
<line x1="1592.09" y1="403.07" x2="1602.49" y2="403.07" stroke="#000000" stroke-width="2"/>
<line x1="1641.29" y1="379.18" x2="1641.29" y2="395.52" stroke="#2388c5" stroke-width="2"/>
<line x1="1636.09" y1="379.18" x2="1646.49" y2="379.18" stroke="#2388c5" stroke-width="2"/>
<line x1="1636.09" y1="395.52" x2="1646.49" y2="395.52" stroke="#2388c5" stroke-width="2"/>
<line x1="1663.29" y1="318.83" x2="1663.29" y2="355.29" stroke="#d075ad" stroke-width="2"/>
<line x1="1658.09" y1="318.83" x2="1668.49" y2="318.83" stroke="#d075ad" stroke-width="2"/>
<line x1="1658.09" y1="355.29" x2="1668.49" y2="355.29" stroke="#d075ad" stroke-width="2"/>
<circle cx="992.08" cy="484.04" r="6" fill="#000000"/>
<circle cx="997.68" cy="484.04" r="6" fill="#000000"/>
<circle cx="994.88" cy="484.04" r="6" fill="#000000"/>
<rect x="1007.17" y="477.19" width="13.7" height="13.7" fill="#dd6e1b" rx="1.6"/>
<rect x="1012.77" y="477.19" width="13.7" height="13.7" fill="#dd6e1b" rx="1.6"/>
<rect x="1009.97" y="477.19" width="13.7" height="13.7" fill="#dd6e1b" rx="1.6"/>
<polygon points="1030.38,489.44 1041.78,489.44 1036.08,478.64" fill="#2388c5" stroke="#2388c5" stroke-width="1.6" stroke-linejoin="round"/>
<polygon points="1035.98,489.44 1047.38,489.44 1041.68,478.64" fill="#2388c5" stroke="#2388c5" stroke-width="1.6" stroke-linejoin="round"/>
<polygon points="1033.18,489.44 1044.58,489.44 1038.88,478.64" fill="#2388c5" stroke="#2388c5" stroke-width="1.6" stroke-linejoin="round"/>
<polygon points="1052.07,478.64 1063.47,478.64 1057.77,489.44" fill="#d075ad" stroke="#d075ad" stroke-width="1.6" stroke-linejoin="round"/>
<polygon points="1057.67,478.64 1069.07,478.64 1063.37,489.44" fill="#d075ad" stroke="#d075ad" stroke-width="1.6" stroke-linejoin="round"/>
<polygon points="1054.87,478.64 1066.27,478.64 1060.57,489.44" fill="#d075ad" stroke="#d075ad" stroke-width="1.6" stroke-linejoin="round"/>
<circle cx="1096.37" cy="475.99" r="6" fill="#000000"/>
<circle cx="1092.2" cy="481.02" r="6" fill="#000000"/>
<rect x="1107.66" y="447.27" width="13.7" height="13.7" fill="#dd6e1b" rx="1.6"/>
<rect x="1112.14" y="455.31" width="13.7" height="13.7" fill="#dd6e1b" rx="1.6"/>
<rect x="1113.26" y="448.77" width="13.7" height="13.7" fill="#dd6e1b" rx="1.6"/>
<rect x="1108.78" y="454.31" width="13.7" height="13.7" fill="#dd6e1b" rx="1.6"/>
<polygon points="1133.61,481.65 1145.01,481.65 1139.31,470.85" fill="#2388c5" stroke="#2388c5" stroke-width="1.6" stroke-linejoin="round"/>
<polygon points="1130.81,483.95 1142.21,483.95 1136.51,473.15" fill="#2388c5" stroke="#2388c5" stroke-width="1.6" stroke-linejoin="round"/>
<polygon points="1136.41,483.95 1147.81,483.95 1142.11,473.15" fill="#2388c5" stroke="#2388c5" stroke-width="1.6" stroke-linejoin="round"/>
<polygon points="1156.05,439.66 1167.45,439.66 1161.75,450.46" fill="#d075ad" stroke="#d075ad" stroke-width="1.6" stroke-linejoin="round"/>
<polygon points="1157.31,451.23 1168.71,451.23 1163.01,462.03" fill="#d075ad" stroke="#d075ad" stroke-width="1.6" stroke-linejoin="round"/>
<polygon points="1151.78,461.79 1163.18,461.79 1157.48,472.59" fill="#d075ad" stroke="#d075ad" stroke-width="1.6" stroke-linejoin="round"/>
<circle cx="1196.96" cy="469.2" r="6" fill="#000000"/>
<circle cx="1192.86" cy="477.25" r="6" fill="#000000"/>
<rect x="1207.74" y="426.39" width="13.7" height="13.7" fill="#dd6e1b" rx="1.6"/>
<rect x="1212.22" y="429.41" width="13.7" height="13.7" fill="#dd6e1b" rx="1.6"/>
<rect x="1213.07" y="442.74" width="13.7" height="13.7" fill="#dd6e1b" rx="1.6"/>
<rect x="1207.29" y="446.51" width="13.7" height="13.7" fill="#dd6e1b" rx="1.6"/>
<rect x="1213.34" y="427.89" width="13.7" height="13.7" fill="#dd6e1b" rx="1.6"/>
<rect x="1208.86" y="428.41" width="13.7" height="13.7" fill="#dd6e1b" rx="1.6"/>
<polygon points="1233.69,467.32 1245.09,467.32 1239.39,456.52" fill="#2388c5" stroke="#2388c5" stroke-width="1.6" stroke-linejoin="round"/>
<polygon points="1230.89,472.38 1242.29,472.38 1236.59,461.58" fill="#2388c5" stroke="#2388c5" stroke-width="1.6" stroke-linejoin="round"/>
<polygon points="1236.49,472.38 1247.89,472.38 1242.19,461.58" fill="#2388c5" stroke="#2388c5" stroke-width="1.6" stroke-linejoin="round"/>
<polygon points="1258.81,416.53 1270.21,416.53 1264.51,427.33" fill="#d075ad" stroke="#d075ad" stroke-width="1.6" stroke-linejoin="round"/>
<polygon points="1254.12,424.07 1265.52,424.07 1259.82,434.87" fill="#d075ad" stroke="#d075ad" stroke-width="1.6" stroke-linejoin="round"/>
<polygon points="1259.67,436.65 1271.07,436.65 1265.37,447.45" fill="#d075ad" stroke="#d075ad" stroke-width="1.6" stroke-linejoin="round"/>
<polygon points="1254.12,450.48 1265.52,450.48 1259.82,461.28" fill="#d075ad" stroke="#d075ad" stroke-width="1.6" stroke-linejoin="round"/>
<circle cx="1296.35" cy="459.65" r="6" fill="#000000"/>
<circle cx="1299.28" cy="462.16" r="6" fill="#000000"/>
<circle cx="1293.5" cy="468.45" r="6" fill="#000000"/>
<rect x="1311.37" y="386.91" width="13.7" height="13.7" fill="#dd6e1b" rx="1.6"/>
<rect x="1311.37" y="415.08" width="13.7" height="13.7" fill="#dd6e1b" rx="1.6"/>
<rect x="1311.37" y="425.14" width="13.7" height="13.7" fill="#dd6e1b" rx="1.6"/>
<rect x="1311.37" y="437.71" width="13.7" height="13.7" fill="#dd6e1b" rx="1.6"/>
<polygon points="1334.34,457.76 1345.74,457.76 1340.04,446.96" fill="#2388c5" stroke="#2388c5" stroke-width="1.6" stroke-linejoin="round"/>
<polygon points="1331.54,467.35 1342.94,467.35 1337.24,456.55" fill="#2388c5" stroke="#2388c5" stroke-width="1.6" stroke-linejoin="round"/>
<polygon points="1337.14,467.35 1348.54,467.35 1342.84,456.55" fill="#2388c5" stroke="#2388c5" stroke-width="1.6" stroke-linejoin="round"/>
<polygon points="1356.53,375.79 1367.93,375.79 1362.23,386.59" fill="#d075ad" stroke="#d075ad" stroke-width="1.6" stroke-linejoin="round"/>
<polygon points="1356.53,408.98 1367.93,408.98 1362.23,419.78" fill="#d075ad" stroke="#d075ad" stroke-width="1.6" stroke-linejoin="round"/>
<polygon points="1356.53,419.04 1367.93,419.04 1362.23,429.84" fill="#d075ad" stroke="#d075ad" stroke-width="1.6" stroke-linejoin="round"/>
<polygon points="1356.53,441.67 1367.93,441.67 1362.23,452.47" fill="#d075ad" stroke="#d075ad" stroke-width="1.6" stroke-linejoin="round"/>
<circle cx="1393.82" cy="447.07" r="6" fill="#000000"/>
<circle cx="1396.62" cy="453.36" r="6" fill="#000000"/>
<circle cx="1399.42" cy="447.07" r="6" fill="#000000"/>
<rect x="1411.96" y="368.56" width="13.7" height="13.7" fill="#dd6e1b" rx="1.6"/>
<rect x="1409.69" y="398.73" width="13.7" height="13.7" fill="#dd6e1b" rx="1.6"/>
<rect x="1414.88" y="406.28" width="13.7" height="13.7" fill="#dd6e1b" rx="1.6"/>
<rect x="1411.96" y="418.85" width="13.7" height="13.7" fill="#dd6e1b" rx="1.6"/>
<polygon points="1434.92,438.64 1446.32,438.64 1440.62,427.84" fill="#2388c5" stroke="#2388c5" stroke-width="1.6" stroke-linejoin="round"/>
<polygon points="1432.12,447.45 1443.52,447.45 1437.82,436.65" fill="#2388c5" stroke="#2388c5" stroke-width="1.6" stroke-linejoin="round"/>
<polygon points="1437.72,453.73 1449.12,453.73 1443.42,442.93" fill="#2388c5" stroke="#2388c5" stroke-width="1.6" stroke-linejoin="round"/>
<polygon points="1457.11,353.66 1468.51,353.66 1462.81,364.46" fill="#d075ad" stroke="#d075ad" stroke-width="1.6" stroke-linejoin="round"/>
<polygon points="1457.11,390.12 1468.51,390.12 1462.81,400.92" fill="#d075ad" stroke="#d075ad" stroke-width="1.6" stroke-linejoin="round"/>
<polygon points="1460.9,405.21 1472.3,405.21 1466.6,416.01" fill="#d075ad" stroke="#d075ad" stroke-width="1.6" stroke-linejoin="round"/>
<polygon points="1453.67,419.04 1465.07,419.04 1459.37,429.84" fill="#d075ad" stroke="#d075ad" stroke-width="1.6" stroke-linejoin="round"/>
<circle cx="1497.51" cy="423.69" r="6" fill="#000000"/>
<circle cx="1493.9" cy="433.24" r="6" fill="#000000"/>
<circle cx="1496.7" cy="437.02" r="6" fill="#000000"/>
<circle cx="1499.5" cy="433.24" r="6" fill="#000000"/>
<rect x="1512.54" y="347.69" width="13.7" height="13.7" fill="#dd6e1b" rx="1.6"/>
<rect x="1510.28" y="364.79" width="13.7" height="13.7" fill="#dd6e1b" rx="1.6"/>
<rect x="1515.54" y="376.1" width="13.7" height="13.7" fill="#dd6e1b" rx="1.6"/>
<rect x="1512.54" y="389.93" width="13.7" height="13.7" fill="#dd6e1b" rx="1.6"/>
<polygon points="1535,426.07 1546.4,426.07 1540.7,415.27" fill="#2388c5" stroke="#2388c5" stroke-width="1.6" stroke-linejoin="round"/>
<polygon points="1532.2,431.1 1543.6,431.1 1537.9,420.3" fill="#2388c5" stroke="#2388c5" stroke-width="1.6" stroke-linejoin="round"/>
<polygon points="1537.8,436.13 1549.2,436.13 1543.5,425.33" fill="#2388c5" stroke="#2388c5" stroke-width="1.6" stroke-linejoin="round"/>
<polygon points="1557.7,342.35 1569.1,342.35 1563.4,353.15" fill="#d075ad" stroke="#d075ad" stroke-width="1.6" stroke-linejoin="round"/>
<polygon points="1555.43,357.43 1566.83,357.43 1561.13,368.23" fill="#d075ad" stroke="#d075ad" stroke-width="1.6" stroke-linejoin="round"/>
<polygon points="1560.98,362.46 1572.38,362.46 1566.68,373.26" fill="#d075ad" stroke="#d075ad" stroke-width="1.6" stroke-linejoin="round"/>
<polygon points="1557.7,398.93 1569.1,398.93 1563.4,409.73" fill="#d075ad" stroke="#d075ad" stroke-width="1.6" stroke-linejoin="round"/>
<circle cx="1594.49" cy="382.95" r="6" fill="#000000"/>
<circle cx="1597.29" cy="391.25" r="6" fill="#000000"/>
<circle cx="1598.1" cy="406.34" r="6" fill="#000000"/>
<circle cx="1600.09" cy="382.95" r="6" fill="#000000"/>
<rect x="1616.12" y="322.04" width="13.7" height="13.7" fill="#dd6e1b" rx="1.6"/>
<rect x="1609.76" y="327.07" width="13.7" height="13.7" fill="#dd6e1b" rx="1.6"/>
<rect x="1616.12" y="339.64" width="13.7" height="13.7" fill="#dd6e1b" rx="1.6"/>
<rect x="1610.61" y="348.44" width="13.7" height="13.7" fill="#dd6e1b" rx="1.6"/>
<polygon points="1633.89,383.32 1645.29,383.32 1639.59,372.52" fill="#2388c5" stroke="#2388c5" stroke-width="1.6" stroke-linejoin="round"/>
<polygon points="1639.42,383.32 1650.82,383.32 1645.12,372.52" fill="#2388c5" stroke="#2388c5" stroke-width="1.6" stroke-linejoin="round"/>
<polygon points="1637.66,393.38 1649.06,393.38 1643.36,382.58" fill="#2388c5" stroke="#2388c5" stroke-width="1.6" stroke-linejoin="round"/>
<polygon points="1633.06,404.7 1644.46,404.7 1638.76,393.9" fill="#2388c5" stroke="#2388c5" stroke-width="1.6" stroke-linejoin="round"/>
<polygon points="1660.7,308.4 1672.1,308.4 1666.4,319.2" fill="#d075ad" stroke="#d075ad" stroke-width="1.6" stroke-linejoin="round"/>
<polygon points="1656.02,318.46 1667.42,318.46 1661.72,329.26" fill="#d075ad" stroke="#d075ad" stroke-width="1.6" stroke-linejoin="round"/>
<polygon points="1660.7,323.49 1672.1,323.49 1666.4,334.29" fill="#d075ad" stroke="#d075ad" stroke-width="1.6" stroke-linejoin="round"/>
<polygon points="1658.28,356.18 1669.68,356.18 1663.98,366.98" fill="#d075ad" stroke="#d075ad" stroke-width="1.6" stroke-linejoin="round"/>
<line x1="1090.09" y1="430.53" x2="1125.29" y2="430.53" stroke="#1a1a1a" stroke-width="2.9"/>
<text transform="translate(1083.68,421.93) scale(1,1.05)" font-size="20.8" text-anchor="middle" fill="#231f20">0.0004</text>
<line x1="1137.37" y1="430.53" x2="1172.82" y2="430.53" stroke="#1a1a1a" stroke-width="2.9"/>
<text transform="translate(1169.3,421.93) scale(1,1.05)" font-size="20.8" text-anchor="middle" fill="#231f20">0.0071</text>
<line x1="1090.09" y1="395.82" x2="1152.2" y2="395.82" stroke="#1a1a1a" stroke-width="2.9"/>
<text transform="translate(1126.8,387.98) scale(1,1.05)" font-size="20.8" text-anchor="middle" fill="#231f20">0.5295</text>
<line x1="1190.17" y1="364.39" x2="1225.87" y2="364.39" stroke="#1a1a1a" stroke-width="2.9"/>
<text transform="translate(1184.51,356.55) scale(1,1.05)" font-size="20.8" text-anchor="middle" fill="#231f20">0.0017</text>
<line x1="1237.45" y1="364.39" x2="1272.9" y2="364.39" stroke="#1a1a1a" stroke-width="2.9"/>
<text transform="translate(1270.76,356.55) scale(1,1.05)" font-size="20.8" text-anchor="middle" fill="#231f20">0.0086</text>
<line x1="1190.17" y1="395.82" x2="1252.03" y2="395.82" stroke="#1a1a1a" stroke-width="2.9"/>
<text transform="translate(1236.82,387.98) scale(1,1.05)" font-size="20.8" text-anchor="middle" fill="#231f20">0.0632</text>
<line x1="1290.31" y1="331.7" x2="1326.27" y2="331.7" stroke="#1a1a1a" stroke-width="2.9"/>
<text transform="translate(1287.17,322.6) scale(1,1.05)" font-size="20.8" text-anchor="middle" fill="#231f20">0.0157</text>
<line x1="1337.84" y1="331.7" x2="1373.54" y2="331.7" stroke="#1a1a1a" stroke-width="2.9"/>
<text transform="translate(1374.68,322.6) scale(1,1.05)" font-size="20.8" text-anchor="middle" fill="#231f20">0.0289</text>
<line x1="1290.31" y1="299.51" x2="1352.67" y2="299.51" stroke="#1a1a1a" stroke-width="2.9"/>
<text transform="translate(1327.53,291.67) scale(1,1.05)" font-size="20.8" text-anchor="middle" fill="#231f20">0.1189</text>
<line x1="1390.9" y1="268.33" x2="1426.35" y2="268.33" stroke="#1a1a1a" stroke-width="2.9"/>
<text transform="translate(1386.24,258.98) scale(1,1.05)" font-size="20.8" text-anchor="middle" fill="#231f20">0.0061</text>
<line x1="1438.42" y1="268.33" x2="1473.62" y2="268.33" stroke="#1a1a1a" stroke-width="2.9"/>
<text transform="translate(1474.51,258.98) scale(1,1.05)" font-size="20.8" text-anchor="middle" fill="#231f20">0.0249</text>
<line x1="1390.9" y1="299.51" x2="1452.75" y2="299.51" stroke="#1a1a1a" stroke-width="2.9"/>
<text transform="translate(1425.6,291.17) scale(1,1.05)" font-size="20.8" text-anchor="middle" fill="#231f20">0.0413</text>
<line x1="1491.23" y1="300.27" x2="1553.34" y2="300.27" stroke="#1a1a1a" stroke-width="2.9"/>
<text transform="translate(1529.58,291.67) scale(1,1.05)" font-size="20.8" text-anchor="middle" fill="#231f20">0.1464</text>
<line x1="1491.23" y1="334.22" x2="1531.21" y2="334.22" stroke="#1a1a1a" stroke-width="2.9"/>
<text transform="translate(1500.66,326.88) scale(1,1.05)" font-size="20.8" text-anchor="middle" fill="#231f20">0.0012</text>
<line x1="1538.51" y1="334.22" x2="1574.21" y2="334.22" stroke="#1a1a1a" stroke-width="2.9"/>
<text transform="translate(1568.8,326.88) scale(1,1.05)" font-size="20.8" text-anchor="middle" fill="#231f20">0.0040</text>
<line x1="1591.31" y1="268.84" x2="1627.01" y2="268.84" stroke="#1a1a1a" stroke-width="2.9"/>
<text transform="translate(1587.41,259.74) scale(1,1.05)" font-size="20.8" text-anchor="middle" fill="#231f20">0.0007</text>
<line x1="1638.59" y1="268.84" x2="1674.54" y2="268.84" stroke="#1a1a1a" stroke-width="2.9"/>
<text transform="translate(1672.53,259.74) scale(1,1.05)" font-size="20.8" text-anchor="middle" fill="#231f20">0.0033</text>
<line x1="1591.31" y1="300.27" x2="1653.92" y2="300.27" stroke="#1a1a1a" stroke-width="2.9"/>
<text transform="translate(1632.93,291.67) scale(1,1.05)" font-size="20.8" text-anchor="middle" fill="#231f20">0.3135</text>
</g>
<g>
<line x1="980.2" y1="607.09" x2="980.2" y2="808.24" stroke="#000" stroke-width="2.5"/>
<line x1="969.7" y1="608.34" x2="980.2" y2="608.34" stroke="#000" stroke-width="2.5"/>
<text transform="translate(962.2,618.24) scale(1,1.07)" font-size="24" text-anchor="end" fill="#231f20" letter-spacing="0.7">8</text>
<line x1="969.7" y1="658.13" x2="980.2" y2="658.13" stroke="#000" stroke-width="2.5"/>
<text transform="translate(962.2,667.48) scale(1,1.07)" font-size="24" text-anchor="end" fill="#231f20" letter-spacing="0.7">6</text>
<line x1="969.7" y1="707.67" x2="980.2" y2="707.67" stroke="#000" stroke-width="2.5"/>
<text transform="translate(962.2,716.47) scale(1,1.07)" font-size="24" text-anchor="end" fill="#231f20" letter-spacing="0.7">4</text>
<line x1="969.7" y1="757.46" x2="980.2" y2="757.46" stroke="#000" stroke-width="2.5"/>
<text transform="translate(962.2,765.7) scale(1,1.07)" font-size="24" text-anchor="end" fill="#231f20" letter-spacing="0.7">2</text>
<text transform="translate(962.2,814.69) scale(1,1.07)" font-size="24" text-anchor="end" fill="#231f20" letter-spacing="0.7">0</text>
<line x1="1029.74" y1="806.99" x2="1029.74" y2="817.49" stroke="#000" stroke-width="2.5"/>
<text transform="translate(1027.98,842.34) scale(1,1.07)" font-size="24" text-anchor="middle" fill="#231f20">0</text>
<line x1="1130.32" y1="806.99" x2="1130.32" y2="817.49" stroke="#000" stroke-width="2.5"/>
<text transform="translate(1112.68,842.34) scale(1,1.07)" font-size="24" text-anchor="start" fill="#231f20">10<tspan font-size="13.5" dy="-8.1">-2</tspan></text>
<line x1="1230.91" y1="806.99" x2="1230.91" y2="817.49" stroke="#000" stroke-width="2.5"/>
<text transform="translate(1212.76,842.34) scale(1,1.07)" font-size="24" text-anchor="start" fill="#231f20">10<tspan font-size="13.5" dy="-8.1">-1</tspan></text>
<line x1="1332.05" y1="806.99" x2="1332.05" y2="817.49" stroke="#000" stroke-width="2.5"/>
<text transform="translate(1313.9,842.34) scale(1,1.07)" font-size="24" text-anchor="start" fill="#231f20">10<tspan font-size="13.5" dy="-8.1">0</tspan></text>
<line x1="1432.13" y1="806.99" x2="1432.13" y2="817.49" stroke="#000" stroke-width="2.5"/>
<text transform="translate(1414.49,842.34) scale(1,1.07)" font-size="24" text-anchor="start" fill="#231f20">10<tspan font-size="13.5" dy="-8.1">1</tspan></text>
<line x1="1532.72" y1="806.99" x2="1532.72" y2="817.49" stroke="#000" stroke-width="2.5"/>
<text transform="translate(1515.07,842.34) scale(1,1.07)" font-size="24" text-anchor="start" fill="#231f20">10<tspan font-size="13.5" dy="-8.1">2</tspan></text>
<line x1="1633.3" y1="806.99" x2="1633.3" y2="817.49" stroke="#000" stroke-width="2.5"/>
<text transform="translate(1615.66,842.34) scale(1,1.07)" font-size="24" text-anchor="start" fill="#231f20">10<tspan font-size="13.5" dy="-8.1">3</tspan></text>
<text transform="translate(930,709.7) rotate(-90) scale(1,1.05)" font-size="25" text-anchor="middle" fill="#231f20">IL-2 (ng/mL)</text>
<text transform="translate(1240.9,870) scale(1,1.05)" font-size="25" text-anchor="start" fill="#231f20">OVA<tspan font-size="15" dy="1.4" dx="2.2">329-337</tspan><tspan dy="-1.4" dx="0.6"> (nM)</tspan></text>
<path d="M1090.22 806.99 V804.48 H1104.42 V806.99" fill="#fff" stroke="#000000" stroke-width="2.5"/>
<path d="M1112.22 806.99 V798.95 H1126.42 V806.99" fill="#fff" stroke="#dd6e1b" stroke-width="2.5"/>
<path d="M1156.22 806.99 V801.46 H1170.42 V806.99" fill="#fff" stroke="#d075ad" stroke-width="2.5"/>
<path d="M1190.81 806.99 V801.46 H1205.01 V806.99" fill="#fff" stroke="#000000" stroke-width="2.5"/>
<path d="M1212.81 806.99 V795.18 H1227.01 V806.99" fill="#fff" stroke="#dd6e1b" stroke-width="2.5"/>
<path d="M1234.81 806.99 V803.98 H1249.01 V806.99" fill="#fff" stroke="#2388c5" stroke-width="2.5"/>
<path d="M1256.81 806.99 V797.69 H1271.01 V806.99" fill="#fff" stroke="#d075ad" stroke-width="2.5"/>
<path d="M1291.95 806.99 V798.95 H1306.15 V806.99" fill="#fff" stroke="#000000" stroke-width="2.5"/>
<path d="M1313.95 806.99 V787.63 H1328.15 V806.99" fill="#fff" stroke="#dd6e1b" stroke-width="2.5"/>
<path d="M1335.95 806.99 V798.95 H1350.15 V806.99" fill="#fff" stroke="#2388c5" stroke-width="2.5"/>
<path d="M1357.95 806.99 V786.37 H1372.15 V806.99" fill="#fff" stroke="#d075ad" stroke-width="2.5"/>
<path d="M1392.03 806.99 V788.89 H1406.23 V806.99" fill="#fff" stroke="#000000" stroke-width="2.5"/>
<path d="M1414.03 806.99 V758.71 H1428.23 V806.99" fill="#fff" stroke="#dd6e1b" stroke-width="2.5"/>
<path d="M1436.03 806.99 V788.89 H1450.23 V806.99" fill="#fff" stroke="#2388c5" stroke-width="2.5"/>
<path d="M1458.03 806.99 V759.97 H1472.23 V806.99" fill="#fff" stroke="#d075ad" stroke-width="2.5"/>
<path d="M1492.62 806.99 V773.72 H1506.82 V806.99" fill="#fff" stroke="#000000" stroke-width="2.5"/>
<path d="M1514.62 806.99 V720.99 H1528.82 V806.99" fill="#fff" stroke="#dd6e1b" stroke-width="2.5"/>
<path d="M1536.62 806.99 V771.29 H1550.82 V806.99" fill="#fff" stroke="#2388c5" stroke-width="2.5"/>
<path d="M1558.62 806.99 V726.02 H1572.82 V806.99" fill="#fff" stroke="#d075ad" stroke-width="2.5"/>
<path d="M1593.2 806.99 V737.76 H1607.4 V806.99" fill="#fff" stroke="#000000" stroke-width="2.5"/>
<path d="M1615.2 806.99 V693.33 H1629.4 V806.99" fill="#fff" stroke="#dd6e1b" stroke-width="2.5"/>
<path d="M1637.2 806.99 V732.01 H1651.4 V806.99" fill="#fff" stroke="#2388c5" stroke-width="2.5"/>
<path d="M1659.2 806.99 V668.19 H1673.4 V806.99" fill="#fff" stroke="#d075ad" stroke-width="2.5"/>
<line x1="969.7" y1="806.99" x2="1683.09" y2="806.99" stroke="#000" stroke-width="2.5"/>
<line x1="1219.91" y1="787.63" x2="1219.91" y2="803.98" stroke="#dd6e1b" stroke-width="2"/>
<line x1="1214.71" y1="787.63" x2="1225.11" y2="787.63" stroke="#dd6e1b" stroke-width="2"/>
<line x1="1214.71" y1="803.98" x2="1225.11" y2="803.98" stroke="#dd6e1b" stroke-width="2"/>
<line x1="1263.91" y1="793.92" x2="1263.91" y2="802.72" stroke="#d075ad" stroke-width="2"/>
<line x1="1258.71" y1="793.92" x2="1269.11" y2="793.92" stroke="#d075ad" stroke-width="2"/>
<line x1="1258.71" y1="802.72" x2="1269.11" y2="802.72" stroke="#d075ad" stroke-width="2"/>
<line x1="1465.13" y1="739.85" x2="1465.13" y2="773.8" stroke="#d075ad" stroke-width="2"/>
<line x1="1459.93" y1="739.85" x2="1470.33" y2="739.85" stroke="#d075ad" stroke-width="2"/>
<line x1="1459.93" y1="773.8" x2="1470.33" y2="773.8" stroke="#d075ad" stroke-width="2"/>
<line x1="1521.72" y1="700.88" x2="1521.72" y2="738.6" stroke="#dd6e1b" stroke-width="2"/>
<line x1="1516.52" y1="700.88" x2="1526.92" y2="700.88" stroke="#dd6e1b" stroke-width="2"/>
<line x1="1516.52" y1="738.6" x2="1526.92" y2="738.6" stroke="#dd6e1b" stroke-width="2"/>
<line x1="1622.3" y1="680.76" x2="1622.3" y2="705.91" stroke="#dd6e1b" stroke-width="2"/>
<line x1="1617.1" y1="680.76" x2="1627.5" y2="680.76" stroke="#dd6e1b" stroke-width="2"/>
<line x1="1617.1" y1="705.91" x2="1627.5" y2="705.91" stroke="#dd6e1b" stroke-width="2"/>
<line x1="1666.3" y1="651.84" x2="1666.3" y2="678.25" stroke="#d075ad" stroke-width="2"/>
<line x1="1661.1" y1="651.84" x2="1671.5" y2="651.84" stroke="#d075ad" stroke-width="2"/>
<line x1="1661.1" y1="678.25" x2="1671.5" y2="678.25" stroke="#d075ad" stroke-width="2"/>
<circle cx="994.09" cy="806.99" r="6" fill="#000000"/>
<circle cx="999.69" cy="806.99" r="6" fill="#000000"/>
<circle cx="996.89" cy="806.99" r="6" fill="#000000"/>
<rect x="1009.31" y="800.14" width="13.7" height="13.7" fill="#dd6e1b" rx="1.6"/>
<rect x="1014.91" y="800.14" width="13.7" height="13.7" fill="#dd6e1b" rx="1.6"/>
<rect x="1012.11" y="800.14" width="13.7" height="13.7" fill="#dd6e1b" rx="1.6"/>
<polygon points="1032.65,812.39 1044.05,812.39 1038.35,801.59" fill="#2388c5" stroke="#2388c5" stroke-width="1.6" stroke-linejoin="round"/>
<polygon points="1038.25,812.39 1049.65,812.39 1043.95,801.59" fill="#2388c5" stroke="#2388c5" stroke-width="1.6" stroke-linejoin="round"/>
<polygon points="1035.45,812.39 1046.85,812.39 1041.15,801.59" fill="#2388c5" stroke="#2388c5" stroke-width="1.6" stroke-linejoin="round"/>
<polygon points="1054.46,801.59 1065.86,801.59 1060.16,812.39" fill="#d075ad" stroke="#d075ad" stroke-width="1.6" stroke-linejoin="round"/>
<polygon points="1060.06,801.59 1071.46,801.59 1065.76,812.39" fill="#d075ad" stroke="#d075ad" stroke-width="1.6" stroke-linejoin="round"/>
<polygon points="1057.26,801.59 1068.66,801.59 1062.96,812.39" fill="#d075ad" stroke="#d075ad" stroke-width="1.6" stroke-linejoin="round"/>
<circle cx="1094.52" cy="804.48" r="6" fill="#000000"/>
<circle cx="1097.32" cy="804.48" r="6" fill="#000000"/>
<circle cx="1100.12" cy="804.48" r="6" fill="#000000"/>
<rect x="1109.67" y="788.33" width="13.7" height="13.7" fill="#dd6e1b" rx="1.6"/>
<rect x="1114.15" y="792.1" width="13.7" height="13.7" fill="#dd6e1b" rx="1.6"/>
<rect x="1115.27" y="789.83" width="13.7" height="13.7" fill="#dd6e1b" rx="1.6"/>
<rect x="1110.79" y="791.1" width="13.7" height="13.7" fill="#dd6e1b" rx="1.6"/>
<polygon points="1135.62,809.63 1147.02,809.63 1141.32,798.83" fill="#2388c5" stroke="#2388c5" stroke-width="1.6" stroke-linejoin="round"/>
<polygon points="1132.82,811.93 1144.22,811.93 1138.52,801.13" fill="#2388c5" stroke="#2388c5" stroke-width="1.6" stroke-linejoin="round"/>
<polygon points="1138.42,811.93 1149.82,811.93 1144.12,801.13" fill="#2388c5" stroke="#2388c5" stroke-width="1.6" stroke-linejoin="round"/>
<polygon points="1154.82,793.55 1166.22,793.55 1160.52,804.35" fill="#d075ad" stroke="#d075ad" stroke-width="1.6" stroke-linejoin="round"/>
<polygon points="1157.62,796.06 1169.02,796.06 1163.32,806.86" fill="#d075ad" stroke="#d075ad" stroke-width="1.6" stroke-linejoin="round"/>
<polygon points="1160.42,793.55 1171.82,793.55 1166.12,804.35" fill="#d075ad" stroke="#d075ad" stroke-width="1.6" stroke-linejoin="round"/>
<circle cx="1197.46" cy="801.46" r="6" fill="#000000"/>
<circle cx="1200.58" cy="801.46" r="6" fill="#000000"/>
<rect x="1212.74" y="779.52" width="13.7" height="13.7" fill="#dd6e1b" rx="1.6"/>
<rect x="1215.59" y="784.55" width="13.7" height="13.7" fill="#dd6e1b" rx="1.6"/>
<rect x="1212.74" y="789.58" width="13.7" height="13.7" fill="#dd6e1b" rx="1.6"/>
<polygon points="1236.21,807.12 1247.61,807.12 1241.91,796.32" fill="#2388c5" stroke="#2388c5" stroke-width="1.6" stroke-linejoin="round"/>
<polygon points="1233.41,809.42 1244.81,809.42 1239.11,798.62" fill="#2388c5" stroke="#2388c5" stroke-width="1.6" stroke-linejoin="round"/>
<polygon points="1239.01,809.42 1250.41,809.42 1244.71,798.62" fill="#2388c5" stroke="#2388c5" stroke-width="1.6" stroke-linejoin="round"/>
<polygon points="1255.41,788.52 1266.81,788.52 1261.11,799.32" fill="#d075ad" stroke="#d075ad" stroke-width="1.6" stroke-linejoin="round"/>
<polygon points="1261.01,792.29 1272.41,792.29 1266.71,803.09" fill="#d075ad" stroke="#d075ad" stroke-width="1.6" stroke-linejoin="round"/>
<polygon points="1258.21,792.29 1269.61,792.29 1263.91,803.09" fill="#d075ad" stroke="#d075ad" stroke-width="1.6" stroke-linejoin="round"/>
<circle cx="1296.25" cy="796.43" r="6" fill="#000000"/>
<circle cx="1299.05" cy="798.95" r="6" fill="#000000"/>
<circle cx="1301.85" cy="796.43" r="6" fill="#000000"/>
<rect x="1311.4" y="773.24" width="13.7" height="13.7" fill="#dd6e1b" rx="1.6"/>
<rect x="1317" y="779.52" width="13.7" height="13.7" fill="#dd6e1b" rx="1.6"/>
<rect x="1314.2" y="785.81" width="13.7" height="13.7" fill="#dd6e1b" rx="1.6"/>
<polygon points="1337.35,799.58 1348.75,799.58 1343.05,788.78" fill="#2388c5" stroke="#2388c5" stroke-width="1.6" stroke-linejoin="round"/>
<polygon points="1334.55,805.65 1345.95,805.65 1340.25,794.85" fill="#2388c5" stroke="#2388c5" stroke-width="1.6" stroke-linejoin="round"/>
<polygon points="1340.15,805.65 1351.55,805.65 1345.85,794.85" fill="#2388c5" stroke="#2388c5" stroke-width="1.6" stroke-linejoin="round"/>
<polygon points="1356.55,777.2 1367.95,777.2 1362.25,788" fill="#d075ad" stroke="#d075ad" stroke-width="1.6" stroke-linejoin="round"/>
<polygon points="1359.35,780.97 1370.75,780.97 1365.05,791.77" fill="#d075ad" stroke="#d075ad" stroke-width="1.6" stroke-linejoin="round"/>
<polygon points="1362.15,777.2 1373.55,777.2 1367.85,788" fill="#d075ad" stroke="#d075ad" stroke-width="1.6" stroke-linejoin="round"/>
<circle cx="1400.7" cy="783.86" r="6" fill="#000000"/>
<circle cx="1396.6" cy="788.89" r="6" fill="#000000"/>
<rect x="1414.72" y="734.76" width="13.7" height="13.7" fill="#dd6e1b" rx="1.6"/>
<rect x="1411.03" y="746.83" width="13.7" height="13.7" fill="#dd6e1b" rx="1.6"/>
<rect x="1417.39" y="753.12" width="13.7" height="13.7" fill="#dd6e1b" rx="1.6"/>
<rect x="1411.61" y="761.92" width="13.7" height="13.7" fill="#dd6e1b" rx="1.6"/>
<polygon points="1437.43,788.26 1448.83,788.26 1443.13,777.46" fill="#2388c5" stroke="#2388c5" stroke-width="1.6" stroke-linejoin="round"/>
<polygon points="1434.63,794.33 1446.03,794.33 1440.33,783.53" fill="#2388c5" stroke="#2388c5" stroke-width="1.6" stroke-linejoin="round"/>
<polygon points="1440.23,794.33 1451.63,794.33 1445.93,783.53" fill="#2388c5" stroke="#2388c5" stroke-width="1.6" stroke-linejoin="round"/>
<polygon points="1459.63,725.65 1471.03,725.65 1465.33,736.45" fill="#d075ad" stroke="#d075ad" stroke-width="1.6" stroke-linejoin="round"/>
<polygon points="1456.63,753.31 1468.03,753.31 1462.33,764.11" fill="#d075ad" stroke="#d075ad" stroke-width="1.6" stroke-linejoin="round"/>
<polygon points="1459.43,760.86 1470.83,760.86 1465.13,771.66" fill="#d075ad" stroke="#d075ad" stroke-width="1.6" stroke-linejoin="round"/>
<polygon points="1461.97,759.6 1473.37,759.6 1467.67,770.4" fill="#d075ad" stroke="#d075ad" stroke-width="1.6" stroke-linejoin="round"/>
<polygon points="1462.23,753.31 1473.63,753.31 1467.93,764.11" fill="#d075ad" stroke="#d075ad" stroke-width="1.6" stroke-linejoin="round"/>
<circle cx="1496.92" cy="773.05" r="6" fill="#000000"/>
<circle cx="1499.72" cy="775.06" r="6" fill="#000000"/>
<circle cx="1502.52" cy="773.05" r="6" fill="#000000"/>
<rect x="1515.31" y="684.47" width="13.7" height="13.7" fill="#dd6e1b" rx="1.6"/>
<rect x="1512.19" y="712.89" width="13.7" height="13.7" fill="#dd6e1b" rx="1.6"/>
<rect x="1517.98" y="719.17" width="13.7" height="13.7" fill="#dd6e1b" rx="1.6"/>
<rect x="1514.55" y="724.71" width="13.7" height="13.7" fill="#dd6e1b" rx="1.6"/>
<polygon points="1538.02,766.63 1549.42,766.63 1543.72,755.83" fill="#2388c5" stroke="#2388c5" stroke-width="1.6" stroke-linejoin="round"/>
<polygon points="1535.22,774.17 1546.62,774.17 1540.92,763.37" fill="#2388c5" stroke="#2388c5" stroke-width="1.6" stroke-linejoin="round"/>
<polygon points="1540.82,777.94 1552.22,777.94 1546.52,767.14" fill="#2388c5" stroke="#2388c5" stroke-width="1.6" stroke-linejoin="round"/>
<polygon points="1557.35,710.56 1568.75,710.56 1563.05,721.36" fill="#d075ad" stroke="#d075ad" stroke-width="1.6" stroke-linejoin="round"/>
<polygon points="1563.13,710.56 1574.53,710.56 1568.83,721.36" fill="#d075ad" stroke="#d075ad" stroke-width="1.6" stroke-linejoin="round"/>
<polygon points="1560.97,720.62 1572.37,720.62 1566.67,731.42" fill="#d075ad" stroke="#d075ad" stroke-width="1.6" stroke-linejoin="round"/>
<polygon points="1556.77,729.42 1568.17,729.42 1562.47,740.22" fill="#d075ad" stroke="#d075ad" stroke-width="1.6" stroke-linejoin="round"/>
<circle cx="1597.5" cy="736.08" r="6" fill="#000000"/>
<circle cx="1600.3" cy="741.11" r="6" fill="#000000"/>
<circle cx="1603.1" cy="736.08" r="6" fill="#000000"/>
<rect x="1615.64" y="668.88" width="13.7" height="13.7" fill="#dd6e1b" rx="1.6"/>
<rect x="1612.78" y="680.2" width="13.7" height="13.7" fill="#dd6e1b" rx="1.6"/>
<rect x="1618.56" y="690.26" width="13.7" height="13.7" fill="#dd6e1b" rx="1.6"/>
<rect x="1615.64" y="702.83" width="13.7" height="13.7" fill="#dd6e1b" rx="1.6"/>
<polygon points="1638.6,731.68 1650,731.68 1644.3,720.88" fill="#2388c5" stroke="#2388c5" stroke-width="1.6" stroke-linejoin="round"/>
<polygon points="1635.8,740.27 1647.2,740.27 1641.5,729.47" fill="#2388c5" stroke="#2388c5" stroke-width="1.6" stroke-linejoin="round"/>
<polygon points="1641.4,740.27 1652.8,740.27 1647.1,729.47" fill="#2388c5" stroke="#2388c5" stroke-width="1.6" stroke-linejoin="round"/>
<polygon points="1660.8,641.41 1672.2,641.41 1666.5,652.21" fill="#d075ad" stroke="#d075ad" stroke-width="1.6" stroke-linejoin="round"/>
<polygon points="1657.93,661.53 1669.33,661.53 1663.63,672.33" fill="#d075ad" stroke="#d075ad" stroke-width="1.6" stroke-linejoin="round"/>
<polygon points="1663.14,666.56 1674.54,666.56 1668.84,677.36" fill="#d075ad" stroke="#d075ad" stroke-width="1.6" stroke-linejoin="round"/>
<polygon points="1660.8,677.87 1672.2,677.87 1666.5,688.67" fill="#d075ad" stroke="#d075ad" stroke-width="1.6" stroke-linejoin="round"/>
<line x1="1090.34" y1="771.59" x2="1126.3" y2="771.59" stroke="#1a1a1a" stroke-width="2.9"/>
<text transform="translate(1084.43,763.24) scale(1,1.05)" font-size="20.8" text-anchor="middle" fill="#231f20">0.0007</text>
<line x1="1137.87" y1="771.59" x2="1173.57" y2="771.59" stroke="#1a1a1a" stroke-width="2.9"/>
<text transform="translate(1170.93,763.24) scale(1,1.05)" font-size="20.8" text-anchor="middle" fill="#231f20">0.0015</text>
<line x1="1090.34" y1="736.38" x2="1152.95" y2="736.38" stroke="#1a1a1a" stroke-width="2.9"/>
<text transform="translate(1127.56,729.8) scale(1,1.05)" font-size="20.8" text-anchor="middle" fill="#231f20">0.3968</text>
<line x1="1190.68" y1="703.69" x2="1226.38" y2="703.69" stroke="#1a1a1a" stroke-width="2.9"/>
<text transform="translate(1185.14,695.85) scale(1,1.05)" font-size="20.8" text-anchor="middle" fill="#231f20">0.0069</text>
<line x1="1237.95" y1="703.69" x2="1273.65" y2="703.69" stroke="#1a1a1a" stroke-width="2.9"/>
<text transform="translate(1271.01,695.85) scale(1,1.05)" font-size="20.8" text-anchor="middle" fill="#231f20">0.0001</text>
<line x1="1190.68" y1="736.38" x2="1252.78" y2="736.38" stroke="#1a1a1a" stroke-width="2.9"/>
<text transform="translate(1237.57,729.8) scale(1,1.05)" font-size="20.8" text-anchor="middle" fill="#231f20">0.0674</text>
<line x1="1291.32" y1="768.57" x2="1327.02" y2="768.57" stroke="#1a1a1a" stroke-width="2.9"/>
<text transform="translate(1287.92,759.97) scale(1,1.05)" font-size="20.8" text-anchor="middle" fill="#231f20">0.0099</text>
<line x1="1338.59" y1="768.57" x2="1374.3" y2="768.57" stroke="#1a1a1a" stroke-width="2.9"/>
<text transform="translate(1375.81,759.97) scale(1,1.05)" font-size="20.8" text-anchor="middle" fill="#231f20">0.0003</text>
<line x1="1291.32" y1="736.38" x2="1353.42" y2="736.38" stroke="#1a1a1a" stroke-width="2.9"/>
<text transform="translate(1327.53,729.8) scale(1,1.05)" font-size="20.8" text-anchor="middle" fill="#231f20">0.4899</text>
<line x1="1391.4" y1="701.18" x2="1427.1" y2="701.18" stroke="#1a1a1a" stroke-width="2.9"/>
<text transform="translate(1387.75,692.83) scale(1,1.05)" font-size="20.8" text-anchor="middle" fill="#231f20">0.0035</text>
<line x1="1438.68" y1="701.18" x2="1474.13" y2="701.18" stroke="#1a1a1a" stroke-width="2.9"/>
<text transform="translate(1474.51,692.83) scale(1,1.05)" font-size="20.8" text-anchor="middle" fill="#231f20">0.0179</text>
<line x1="1391.4" y1="665.97" x2="1453.25" y2="665.97" stroke="#1a1a1a" stroke-width="2.9"/>
<text transform="translate(1426.73,658.63) scale(1,1.05)" font-size="20.8" text-anchor="middle" fill="#231f20">0.8614</text>
<line x1="1491.48" y1="666.48" x2="1527.44" y2="666.48" stroke="#1a1a1a" stroke-width="2.9"/>
<text transform="translate(1501.66,658.63) scale(1,1.05)" font-size="20.8" text-anchor="middle" fill="#231f20">0.0012</text>
<line x1="1539.26" y1="666.48" x2="1574.71" y2="666.48" stroke="#1a1a1a" stroke-width="2.9"/>
<text transform="translate(1573.83,658.63) scale(1,1.05)" font-size="20.8" text-anchor="middle" fill="#231f20">0.0002</text>
<line x1="1491.48" y1="632.78" x2="1554.09" y2="632.78" stroke="#1a1a1a" stroke-width="2.9"/>
<text transform="translate(1530.58,624.94) scale(1,1.05)" font-size="20.8" text-anchor="middle" fill="#231f20">0.0544</text>
<line x1="1592.07" y1="599.34" x2="1628.02" y2="599.34" stroke="#1a1a1a" stroke-width="2.9"/>
<text transform="translate(1588.67,590.23) scale(1,1.05)" font-size="20.8" text-anchor="middle" fill="#231f20">0.0008</text>
<line x1="1639.59" y1="599.34" x2="1675.3" y2="599.34" stroke="#1a1a1a" stroke-width="2.9"/>
<text transform="translate(1672.53,590.23) scale(1,1.05)" font-size="20.8" text-anchor="middle" fill="#231f20">0.0003</text>
<line x1="1592.07" y1="632.78" x2="1654.42" y2="632.78" stroke="#1a1a1a" stroke-width="2.9"/>
<text transform="translate(1632.93,624.94) scale(1,1.05)" font-size="20.8" text-anchor="middle" fill="#231f20">0.0145</text>
</g>
<g>
<line x1="977.68" y1="929.55" x2="977.68" y2="1130.2" stroke="#000" stroke-width="2.5"/>
<line x1="967.18" y1="930.8" x2="977.68" y2="930.8" stroke="#000" stroke-width="2.5"/>
<text transform="translate(958.4,940.7) scale(1,1.07)" font-size="24" text-anchor="end" fill="#231f20" letter-spacing="0.7">6</text>
<line x1="967.18" y1="980.58" x2="977.68" y2="980.58" stroke="#000" stroke-width="2.5"/>
<text transform="translate(958.4,989.93) scale(1,1.07)" font-size="24" text-anchor="end" fill="#231f20" letter-spacing="0.7">4.5</text>
<line x1="967.18" y1="1030.12" x2="977.68" y2="1030.12" stroke="#000" stroke-width="2.5"/>
<text transform="translate(958.4,1038.92) scale(1,1.07)" font-size="24" text-anchor="end" fill="#231f20" letter-spacing="0.7">3</text>
<line x1="967.18" y1="1079.41" x2="977.68" y2="1079.41" stroke="#000" stroke-width="2.5"/>
<text transform="translate(958.4,1087.66) scale(1,1.07)" font-size="24" text-anchor="end" fill="#231f20" letter-spacing="0.7">1.5</text>
<text transform="translate(958.4,1136.65) scale(1,1.07)" font-size="24" text-anchor="end" fill="#231f20" letter-spacing="0.7">0</text>
<line x1="1027.73" y1="1128.95" x2="1027.73" y2="1139.45" stroke="#000" stroke-width="2.5"/>
<text transform="translate(1027.22,1165.81) scale(1,1.07)" font-size="24" text-anchor="middle" fill="#231f20">0</text>
<line x1="1128.31" y1="1128.95" x2="1128.31" y2="1139.45" stroke="#000" stroke-width="2.5"/>
<text transform="translate(1110.92,1165.81) scale(1,1.07)" font-size="24" text-anchor="start" fill="#231f20">10<tspan font-size="13.5" dy="-8.1">-2</tspan></text>
<line x1="1228.39" y1="1128.95" x2="1228.39" y2="1139.45" stroke="#000" stroke-width="2.5"/>
<text transform="translate(1211.5,1165.81) scale(1,1.07)" font-size="24" text-anchor="start" fill="#231f20">10<tspan font-size="13.5" dy="-8.1">-1</tspan></text>
<line x1="1329.04" y1="1128.95" x2="1329.04" y2="1139.45" stroke="#000" stroke-width="2.5"/>
<text transform="translate(1312.65,1165.81) scale(1,1.07)" font-size="24" text-anchor="start" fill="#231f20">10<tspan font-size="13.5" dy="-8.1">0</tspan></text>
<line x1="1429.62" y1="1128.95" x2="1429.62" y2="1139.45" stroke="#000" stroke-width="2.5"/>
<text transform="translate(1413.23,1165.81) scale(1,1.07)" font-size="24" text-anchor="start" fill="#231f20">10<tspan font-size="13.5" dy="-8.1">1</tspan></text>
<line x1="1529.7" y1="1128.95" x2="1529.7" y2="1139.45" stroke="#000" stroke-width="2.5"/>
<text transform="translate(1513.06,1165.81) scale(1,1.07)" font-size="24" text-anchor="start" fill="#231f20">10<tspan font-size="13.5" dy="-8.1">2</tspan></text>
<line x1="1630.29" y1="1128.95" x2="1630.29" y2="1139.45" stroke="#000" stroke-width="2.5"/>
<text transform="translate(1614.4,1165.81) scale(1,1.07)" font-size="24" text-anchor="start" fill="#231f20">10<tspan font-size="13.5" dy="-8.1">3</tspan></text>
<text transform="translate(907.5,1022.7) rotate(-90) scale(1,1.05)" font-size="25" text-anchor="middle" fill="#231f20">IFN-<tspan font-family="Liberation Serif, serif" font-size="24">γ</tspan> (ng/mL)</text>
<text transform="translate(1234.7,1192) scale(1,1.05)" font-size="25" text-anchor="start" fill="#231f20">OVA<tspan font-size="15" dy="1.4" dx="2.2">329-337</tspan><tspan dy="-1.4" dx="0.6"> (nM)</tspan></text>
<path d="M1110.21 1128.95 V1117.63 H1124.41 V1128.95" fill="#fff" stroke="#dd6e1b" stroke-width="2.5"/>
<path d="M1154.21 1128.95 V1118.89 H1168.41 V1128.95" fill="#fff" stroke="#d075ad" stroke-width="2.5"/>
<path d="M1188.29 1128.95 V1122.66 H1202.49 V1128.95" fill="#fff" stroke="#000000" stroke-width="2.5"/>
<path d="M1210.29 1128.95 V1108.83 H1224.49 V1128.95" fill="#fff" stroke="#dd6e1b" stroke-width="2.5"/>
<path d="M1232.29 1128.95 V1122.66 H1246.49 V1128.95" fill="#fff" stroke="#2388c5" stroke-width="2.5"/>
<path d="M1254.29 1128.95 V1108.83 H1268.49 V1128.95" fill="#fff" stroke="#d075ad" stroke-width="2.5"/>
<path d="M1288.94 1128.95 V1122.66 H1303.14 V1128.95" fill="#fff" stroke="#000000" stroke-width="2.5"/>
<path d="M1310.94 1128.95 V1098.77 H1325.14 V1128.95" fill="#fff" stroke="#dd6e1b" stroke-width="2.5"/>
<path d="M1332.94 1128.95 V1123.92 H1347.14 V1128.95" fill="#fff" stroke="#2388c5" stroke-width="2.5"/>
<path d="M1354.94 1128.95 V1093.74 H1369.14 V1128.95" fill="#fff" stroke="#d075ad" stroke-width="2.5"/>
<path d="M1389.52 1128.95 V1112.18 H1403.72 V1128.95" fill="#fff" stroke="#000000" stroke-width="2.5"/>
<path d="M1411.52 1128.95 V1084.94 H1425.72 V1128.95" fill="#fff" stroke="#dd6e1b" stroke-width="2.5"/>
<path d="M1433.52 1128.95 V1117.63 H1447.72 V1128.95" fill="#fff" stroke="#2388c5" stroke-width="2.5"/>
<path d="M1455.52 1128.95 V1077.4 H1469.72 V1128.95" fill="#fff" stroke="#d075ad" stroke-width="2.5"/>
<path d="M1489.6 1128.95 V1104.14 H1503.8 V1128.95" fill="#fff" stroke="#000000" stroke-width="2.5"/>
<path d="M1511.6 1128.95 V1067.34 H1525.8 V1128.95" fill="#fff" stroke="#dd6e1b" stroke-width="2.5"/>
<path d="M1533.6 1128.95 V1106.43 H1547.8 V1128.95" fill="#fff" stroke="#2388c5" stroke-width="2.5"/>
<path d="M1555.6 1128.95 V1071.11 H1569.8 V1128.95" fill="#fff" stroke="#d075ad" stroke-width="2.5"/>
<path d="M1590.19 1128.95 V1082.43 H1604.39 V1128.95" fill="#fff" stroke="#000000" stroke-width="2.5"/>
<path d="M1612.19 1128.95 V1024.59 H1626.39 V1128.95" fill="#fff" stroke="#dd6e1b" stroke-width="2.5"/>
<path d="M1634.19 1128.95 V1077.51 H1648.39 V1128.95" fill="#fff" stroke="#2388c5" stroke-width="2.5"/>
<path d="M1656.19 1128.95 V1020.82 H1670.39 V1128.95" fill="#fff" stroke="#d075ad" stroke-width="2.5"/>
<line x1="967.18" y1="1128.95" x2="1680.58" y2="1128.95" stroke="#000" stroke-width="2.5"/>
<line x1="1161.31" y1="1112.6" x2="1161.31" y2="1125.18" stroke="#d075ad" stroke-width="2"/>
<line x1="1156.11" y1="1112.6" x2="1166.51" y2="1112.6" stroke="#d075ad" stroke-width="2"/>
<line x1="1156.11" y1="1125.18" x2="1166.51" y2="1125.18" stroke="#d075ad" stroke-width="2"/>
<line x1="1217.39" y1="1101.29" x2="1217.39" y2="1117.63" stroke="#dd6e1b" stroke-width="2"/>
<line x1="1212.19" y1="1101.29" x2="1222.59" y2="1101.29" stroke="#dd6e1b" stroke-width="2"/>
<line x1="1212.19" y1="1117.63" x2="1222.59" y2="1117.63" stroke="#dd6e1b" stroke-width="2"/>
<line x1="1261.39" y1="1096.26" x2="1261.39" y2="1118.89" stroke="#d075ad" stroke-width="2"/>
<line x1="1256.19" y1="1096.26" x2="1266.59" y2="1096.26" stroke="#d075ad" stroke-width="2"/>
<line x1="1256.19" y1="1118.89" x2="1266.59" y2="1118.89" stroke="#d075ad" stroke-width="2"/>
<line x1="1562.7" y1="1059.8" x2="1562.7" y2="1081.17" stroke="#d075ad" stroke-width="2"/>
<line x1="1557.5" y1="1059.8" x2="1567.9" y2="1059.8" stroke="#d075ad" stroke-width="2"/>
<line x1="1557.5" y1="1081.17" x2="1567.9" y2="1081.17" stroke="#d075ad" stroke-width="2"/>
<line x1="1597.29" y1="1074.88" x2="1597.29" y2="1088.71" stroke="#000000" stroke-width="2"/>
<line x1="1592.09" y1="1074.88" x2="1602.49" y2="1074.88" stroke="#000000" stroke-width="2"/>
<line x1="1592.09" y1="1088.71" x2="1602.49" y2="1088.71" stroke="#000000" stroke-width="2"/>
<line x1="1619.29" y1="1013.27" x2="1619.29" y2="1040.94" stroke="#dd6e1b" stroke-width="2"/>
<line x1="1614.09" y1="1013.27" x2="1624.49" y2="1013.27" stroke="#dd6e1b" stroke-width="2"/>
<line x1="1614.09" y1="1040.94" x2="1624.49" y2="1040.94" stroke="#dd6e1b" stroke-width="2"/>
<line x1="1663.29" y1="1008.25" x2="1663.29" y2="1030.88" stroke="#d075ad" stroke-width="2"/>
<line x1="1658.09" y1="1008.25" x2="1668.49" y2="1008.25" stroke="#d075ad" stroke-width="2"/>
<line x1="1658.09" y1="1030.88" x2="1668.49" y2="1030.88" stroke="#d075ad" stroke-width="2"/>
<circle cx="992.08" cy="1128.95" r="6" fill="#000000"/>
<circle cx="997.68" cy="1128.95" r="6" fill="#000000"/>
<circle cx="994.88" cy="1128.95" r="6" fill="#000000"/>
<rect x="1007.17" y="1122.1" width="13.7" height="13.7" fill="#dd6e1b" rx="1.6"/>
<rect x="1012.77" y="1122.1" width="13.7" height="13.7" fill="#dd6e1b" rx="1.6"/>
<rect x="1009.97" y="1122.1" width="13.7" height="13.7" fill="#dd6e1b" rx="1.6"/>
<polygon points="1030.38,1134.35 1041.78,1134.35 1036.08,1123.55" fill="#2388c5" stroke="#2388c5" stroke-width="1.6" stroke-linejoin="round"/>
<polygon points="1035.98,1134.35 1047.38,1134.35 1041.68,1123.55" fill="#2388c5" stroke="#2388c5" stroke-width="1.6" stroke-linejoin="round"/>
<polygon points="1033.18,1134.35 1044.58,1134.35 1038.88,1123.55" fill="#2388c5" stroke="#2388c5" stroke-width="1.6" stroke-linejoin="round"/>
<polygon points="1052.07,1123.55 1063.47,1123.55 1057.77,1134.35" fill="#d075ad" stroke="#d075ad" stroke-width="1.6" stroke-linejoin="round"/>
<polygon points="1057.67,1123.55 1069.07,1123.55 1063.37,1134.35" fill="#d075ad" stroke="#d075ad" stroke-width="1.6" stroke-linejoin="round"/>
<polygon points="1054.87,1123.55 1066.27,1123.55 1060.57,1134.35" fill="#d075ad" stroke="#d075ad" stroke-width="1.6" stroke-linejoin="round"/>
<circle cx="1092.51" cy="1126.43" r="6" fill="#000000"/>
<circle cx="1095.31" cy="1126.43" r="6" fill="#000000"/>
<circle cx="1098.11" cy="1126.43" r="6" fill="#000000"/>
<rect x="1106.63" y="1098.21" width="13.7" height="13.7" fill="#dd6e1b" rx="1.6"/>
<rect x="1113.86" y="1099.47" width="13.7" height="13.7" fill="#dd6e1b" rx="1.6"/>
<rect x="1106.63" y="1113.3" width="13.7" height="13.7" fill="#dd6e1b" rx="1.6"/>
<rect x="1113.86" y="1112.04" width="13.7" height="13.7" fill="#dd6e1b" rx="1.6"/>
<polygon points="1133.61,1128.32 1145.01,1128.32 1139.31,1117.52" fill="#2388c5" stroke="#2388c5" stroke-width="1.6" stroke-linejoin="round"/>
<polygon points="1130.81,1134.39 1142.21,1134.39 1136.51,1123.59" fill="#2388c5" stroke="#2388c5" stroke-width="1.6" stroke-linejoin="round"/>
<polygon points="1136.41,1134.39 1147.81,1134.39 1142.11,1123.59" fill="#2388c5" stroke="#2388c5" stroke-width="1.6" stroke-linejoin="round"/>
<polygon points="1152.81,1104.69 1164.21,1104.69 1158.51,1115.49" fill="#d075ad" stroke="#d075ad" stroke-width="1.6" stroke-linejoin="round"/>
<polygon points="1158.41,1113.49 1169.81,1113.49 1164.11,1124.29" fill="#d075ad" stroke="#d075ad" stroke-width="1.6" stroke-linejoin="round"/>
<polygon points="1155.61,1114.75 1167.01,1114.75 1161.31,1125.55" fill="#d075ad" stroke="#d075ad" stroke-width="1.6" stroke-linejoin="round"/>
<circle cx="1194.95" cy="1122.66" r="6" fill="#000000"/>
<circle cx="1198.06" cy="1122.66" r="6" fill="#000000"/>
<rect x="1210.98" y="1089.91" width="13.7" height="13.7" fill="#dd6e1b" rx="1.6"/>
<rect x="1207.29" y="1103.24" width="13.7" height="13.7" fill="#dd6e1b" rx="1.6"/>
<rect x="1214.81" y="1103.24" width="13.7" height="13.7" fill="#dd6e1b" rx="1.6"/>
<polygon points="1233.25,1128.06 1244.65,1128.06 1238.95,1117.26" fill="#2388c5" stroke="#2388c5" stroke-width="1.6" stroke-linejoin="round"/>
<polygon points="1236.37,1128.06 1247.77,1128.06 1242.07,1117.26" fill="#2388c5" stroke="#2388c5" stroke-width="1.6" stroke-linejoin="round"/>
<polygon points="1256.14,1087.09 1267.54,1087.09 1261.84,1097.89" fill="#d075ad" stroke="#d075ad" stroke-width="1.6" stroke-linejoin="round"/>
<polygon points="1254.12,1099.66 1265.52,1099.66 1259.82,1110.46" fill="#d075ad" stroke="#d075ad" stroke-width="1.6" stroke-linejoin="round"/>
<polygon points="1258.23,1104.69 1269.63,1104.69 1263.93,1115.49" fill="#d075ad" stroke="#d075ad" stroke-width="1.6" stroke-linejoin="round"/>
<polygon points="1254.12,1112.23 1265.52,1112.23 1259.82,1123.03" fill="#d075ad" stroke="#d075ad" stroke-width="1.6" stroke-linejoin="round"/>
<circle cx="1297.6" cy="1117.63" r="6" fill="#000000"/>
<circle cx="1293.5" cy="1122.66" r="6" fill="#000000"/>
<rect x="1311.37" y="1083.88" width="13.7" height="13.7" fill="#dd6e1b" rx="1.6"/>
<rect x="1311.37" y="1096.95" width="13.7" height="13.7" fill="#dd6e1b" rx="1.6"/>
<polygon points="1334.34,1123.29 1345.74,1123.29 1340.04,1112.49" fill="#2388c5" stroke="#2388c5" stroke-width="1.6" stroke-linejoin="round"/>
<polygon points="1331.54,1129.36 1342.94,1129.36 1337.24,1118.56" fill="#2388c5" stroke="#2388c5" stroke-width="1.6" stroke-linejoin="round"/>
<polygon points="1337.14,1129.36 1348.54,1129.36 1342.84,1118.56" fill="#2388c5" stroke="#2388c5" stroke-width="1.6" stroke-linejoin="round"/>
<polygon points="1353.54,1083.31 1364.94,1083.31 1359.24,1094.11" fill="#d075ad" stroke="#d075ad" stroke-width="1.6" stroke-linejoin="round"/>
<polygon points="1356.34,1089.6 1367.74,1089.6 1362.04,1100.4" fill="#d075ad" stroke="#d075ad" stroke-width="1.6" stroke-linejoin="round"/>
<polygon points="1358.87,1088.34 1370.27,1088.34 1364.57,1099.14" fill="#d075ad" stroke="#d075ad" stroke-width="1.6" stroke-linejoin="round"/>
<polygon points="1359.14,1083.31 1370.54,1083.31 1364.84,1094.11" fill="#d075ad" stroke="#d075ad" stroke-width="1.6" stroke-linejoin="round"/>
<circle cx="1393.82" cy="1111.35" r="6" fill="#000000"/>
<circle cx="1396.62" cy="1113.86" r="6" fill="#000000"/>
<circle cx="1399.42" cy="1111.35" r="6" fill="#000000"/>
<rect x="1411.96" y="1066.78" width="13.7" height="13.7" fill="#dd6e1b" rx="1.6"/>
<rect x="1408.97" y="1078.09" width="13.7" height="13.7" fill="#dd6e1b" rx="1.6"/>
<rect x="1413.45" y="1083.12" width="13.7" height="13.7" fill="#dd6e1b" rx="1.6"/>
<rect x="1414.57" y="1079.59" width="13.7" height="13.7" fill="#dd6e1b" rx="1.6"/>
<rect x="1410.09" y="1082.12" width="13.7" height="13.7" fill="#dd6e1b" rx="1.6"/>
<polygon points="1434.92,1114.49 1446.32,1114.49 1440.62,1103.69" fill="#2388c5" stroke="#2388c5" stroke-width="1.6" stroke-linejoin="round"/>
<polygon points="1432.12,1124.33 1443.52,1124.33 1437.82,1113.53" fill="#2388c5" stroke="#2388c5" stroke-width="1.6" stroke-linejoin="round"/>
<polygon points="1437.72,1124.33 1449.12,1124.33 1443.42,1113.53" fill="#2388c5" stroke="#2388c5" stroke-width="1.6" stroke-linejoin="round"/>
<polygon points="1457.11,1065.71 1468.51,1065.71 1462.81,1076.51" fill="#d075ad" stroke="#d075ad" stroke-width="1.6" stroke-linejoin="round"/>
<polygon points="1459.46,1068.23 1470.86,1068.23 1465.16,1079.03" fill="#d075ad" stroke="#d075ad" stroke-width="1.6" stroke-linejoin="round"/>
<polygon points="1454.25,1077.03 1465.65,1077.03 1459.95,1087.83" fill="#d075ad" stroke="#d075ad" stroke-width="1.6" stroke-linejoin="round"/>
<circle cx="1493.9" cy="1103.05" r="6" fill="#000000"/>
<circle cx="1496.7" cy="1106.32" r="6" fill="#000000"/>
<circle cx="1499.5" cy="1103.05" r="6" fill="#000000"/>
<rect x="1512.54" y="1046.66" width="13.7" height="13.7" fill="#dd6e1b" rx="1.6"/>
<rect x="1509.05" y="1056.72" width="13.7" height="13.7" fill="#dd6e1b" rx="1.6"/>
<rect x="1513.53" y="1064.26" width="13.7" height="13.7" fill="#dd6e1b" rx="1.6"/>
<rect x="1514.65" y="1058.22" width="13.7" height="13.7" fill="#dd6e1b" rx="1.6"/>
<rect x="1510.17" y="1063.26" width="13.7" height="13.7" fill="#dd6e1b" rx="1.6"/>
<polygon points="1535,1106.94 1546.4,1106.94 1540.7,1096.14" fill="#2388c5" stroke="#2388c5" stroke-width="1.6" stroke-linejoin="round"/>
<polygon points="1532.2,1114.27 1543.6,1114.27 1537.9,1103.47" fill="#2388c5" stroke="#2388c5" stroke-width="1.6" stroke-linejoin="round"/>
<polygon points="1537.8,1114.27 1549.2,1114.27 1543.5,1103.47" fill="#2388c5" stroke="#2388c5" stroke-width="1.6" stroke-linejoin="round"/>
<polygon points="1560.12,1050.62 1571.52,1050.62 1565.82,1061.42" fill="#d075ad" stroke="#d075ad" stroke-width="1.6" stroke-linejoin="round"/>
<polygon points="1555.43,1055.15 1566.83,1055.15 1561.13,1065.95" fill="#d075ad" stroke="#d075ad" stroke-width="1.6" stroke-linejoin="round"/>
<polygon points="1560.12,1066.97 1571.52,1066.97 1565.82,1077.77" fill="#d075ad" stroke="#d075ad" stroke-width="1.6" stroke-linejoin="round"/>
<polygon points="1555.43,1075.77 1566.83,1075.77 1561.13,1086.57" fill="#d075ad" stroke="#d075ad" stroke-width="1.6" stroke-linejoin="round"/>
<circle cx="1600.25" cy="1073.12" r="6" fill="#000000"/>
<circle cx="1596.34" cy="1075.64" r="6" fill="#000000"/>
<circle cx="1594.49" cy="1084.94" r="6" fill="#000000"/>
<circle cx="1597.29" cy="1088.71" r="6" fill="#000000"/>
<circle cx="1600.09" cy="1084.94" r="6" fill="#000000"/>
<rect x="1609.64" y="1005.17" width="13.7" height="13.7" fill="#dd6e1b" rx="1.6"/>
<rect x="1614.12" y="1010.2" width="13.7" height="13.7" fill="#dd6e1b" rx="1.6"/>
<rect x="1613.13" y="1036.6" width="13.7" height="13.7" fill="#dd6e1b" rx="1.6"/>
<rect x="1615.24" y="1006.67" width="13.7" height="13.7" fill="#dd6e1b" rx="1.6"/>
<rect x="1610.76" y="1009.2" width="13.7" height="13.7" fill="#dd6e1b" rx="1.6"/>
<polygon points="1635.59,1078.03 1646.99,1078.03 1641.29,1067.23" fill="#2388c5" stroke="#2388c5" stroke-width="1.6" stroke-linejoin="round"/>
<polygon points="1632.79,1085.35 1644.19,1085.35 1638.49,1074.55" fill="#2388c5" stroke="#2388c5" stroke-width="1.6" stroke-linejoin="round"/>
<polygon points="1638.39,1085.35 1649.79,1085.35 1644.09,1074.55" fill="#2388c5" stroke="#2388c5" stroke-width="1.6" stroke-linejoin="round"/>
<polygon points="1658.28,997.82 1669.68,997.82 1663.98,1008.62" fill="#d075ad" stroke="#d075ad" stroke-width="1.6" stroke-linejoin="round"/>
<polygon points="1656.52,1017.93 1667.92,1017.93 1662.22,1028.73" fill="#d075ad" stroke="#d075ad" stroke-width="1.6" stroke-linejoin="round"/>
<polygon points="1660.7,1019.19 1672.1,1019.19 1666.4,1029.99" fill="#d075ad" stroke="#d075ad" stroke-width="1.6" stroke-linejoin="round"/>
<line x1="1086.57" y1="1090.27" x2="1122.02" y2="1090.27" stroke="#1a1a1a" stroke-width="2.9"/>
<text transform="translate(1080.91,1081.17) scale(1,1.05)" font-size="20.8" text-anchor="middle" fill="#231f20">0.0306</text>
<line x1="1134.1" y1="1090.27" x2="1169.3" y2="1090.27" stroke="#1a1a1a" stroke-width="2.9"/>
<text transform="translate(1166.78,1081.17) scale(1,1.05)" font-size="20.8" text-anchor="middle" fill="#231f20">0.0240</text>
<line x1="1086.57" y1="1055.07" x2="1148.93" y2="1055.07" stroke="#1a1a1a" stroke-width="2.9"/>
<text transform="translate(1123.66,1046.47) scale(1,1.05)" font-size="20.8" text-anchor="middle" fill="#231f20">0.7024</text>
<line x1="1186.9" y1="1011.06" x2="1222.61" y2="1011.06" stroke="#1a1a1a" stroke-width="2.9"/>
<text transform="translate(1181.87,1002.71) scale(1,1.05)" font-size="20.8" text-anchor="middle" fill="#231f20">0.0016</text>
<line x1="1234.18" y1="1011.06" x2="1269.88" y2="1011.06" stroke="#1a1a1a" stroke-width="2.9"/>
<text transform="translate(1267.62,1002.71) scale(1,1.05)" font-size="20.8" text-anchor="middle" fill="#231f20">0.0282</text>
<line x1="1186.9" y1="1041.99" x2="1249.01" y2="1041.99" stroke="#1a1a1a" stroke-width="2.9"/>
<text transform="translate(1229.65,1033.89) scale(1,1.05)" font-size="20.8" text-anchor="middle" fill="#231f20">0.7257</text>
<line x1="1287.04" y1="1074.68" x2="1322.75" y2="1074.68" stroke="#1a1a1a" stroke-width="2.9"/>
<text transform="translate(1275.6,1066.08) scale(1,1.05)" font-size="20.8" text-anchor="middle" fill="#231f20">0.0010</text>
<line x1="1287.04" y1="1041.99" x2="1349.15" y2="1041.99" stroke="#1a1a1a" stroke-width="2.9"/>
<text transform="translate(1324.01,1033.89) scale(1,1.05)" font-size="20.8" text-anchor="middle" fill="#231f20">0.7242</text>
<line x1="1334.32" y1="1074.68" x2="1370.27" y2="1074.68" stroke="#1a1a1a" stroke-width="2.9"/>
<text transform="translate(1369.39,1066.08) scale(1,1.05)" font-size="20.8" text-anchor="middle" fill="#231f20">&lt;0.0001</text>
<line x1="1387.63" y1="1010.31" x2="1423.08" y2="1010.31" stroke="#1a1a1a" stroke-width="2.9"/>
<text transform="translate(1383.98,1002.71) scale(1,1.05)" font-size="20.8" text-anchor="middle" fill="#231f20">0.0002</text>
<line x1="1434.9" y1="1010.31" x2="1470.35" y2="1010.31" stroke="#1a1a1a" stroke-width="2.9"/>
<text transform="translate(1476.77,1002.71) scale(1,1.05)" font-size="20.8" text-anchor="middle" fill="#231f20">&lt;0.0001</text>
<line x1="1387.63" y1="1041.99" x2="1449.48" y2="1041.99" stroke="#1a1a1a" stroke-width="2.9"/>
<text transform="translate(1422.45,1033.89) scale(1,1.05)" font-size="20.8" text-anchor="middle" fill="#231f20">0.9801</text>
<line x1="1488.97" y1="1043" x2="1524.92" y2="1043" stroke="#1a1a1a" stroke-width="2.9"/>
<text transform="translate(1498.39,1034.65) scale(1,1.05)" font-size="20.8" text-anchor="middle" fill="#231f20">0.0001</text>
<line x1="1536.49" y1="1043" x2="1572.2" y2="1043" stroke="#1a1a1a" stroke-width="2.9"/>
<text transform="translate(1575.22,1034.65) scale(1,1.05)" font-size="20.8" text-anchor="middle" fill="#231f20">0.0008</text>
<line x1="1488.97" y1="980.13" x2="1551.32" y2="980.13" stroke="#1a1a1a" stroke-width="2.9"/>
<text transform="translate(1527.94,971.03) scale(1,1.05)" font-size="20.8" text-anchor="middle" fill="#231f20">0.4272</text>
<line x1="1588.04" y1="948.19" x2="1623.75" y2="948.19" stroke="#1a1a1a" stroke-width="2.9"/>
<text transform="translate(1584.65,939.09) scale(1,1.05)" font-size="20.8" text-anchor="middle" fill="#231f20">0.0004</text>
<line x1="1635.32" y1="948.19" x2="1671.02" y2="948.19" stroke="#1a1a1a" stroke-width="2.9"/>
<text transform="translate(1673.79,939.09) scale(1,1.05)" font-size="20.8" text-anchor="middle" fill="#231f20">&lt;0.0001</text>
<line x1="1588.04" y1="980.13" x2="1650.15" y2="980.13" stroke="#1a1a1a" stroke-width="2.9"/>
<text transform="translate(1629.28,970.02) scale(1,1.05)" font-size="20.8" text-anchor="middle" fill="#231f20">0.4405</text>
</g>
<g>
<line x1="978.19" y1="1276.64" x2="978.19" y2="1477.3" stroke="#000" stroke-width="2.5"/>
<line x1="967.69" y1="1277.89" x2="978.19" y2="1277.89" stroke="#000" stroke-width="2.5"/>
<text transform="translate(959.7,1287.79) scale(1,1.07)" font-size="24" text-anchor="end" fill="#231f20" letter-spacing="0.7">2.4</text>
<line x1="967.69" y1="1327.43" x2="978.19" y2="1327.43" stroke="#000" stroke-width="2.5"/>
<text transform="translate(959.7,1336.78) scale(1,1.07)" font-size="24" text-anchor="end" fill="#231f20" letter-spacing="0.7">1.8</text>
<line x1="967.69" y1="1376.97" x2="978.19" y2="1376.97" stroke="#000" stroke-width="2.5"/>
<text transform="translate(959.7,1385.77) scale(1,1.07)" font-size="24" text-anchor="end" fill="#231f20" letter-spacing="0.7">1.2</text>
<line x1="967.69" y1="1426.26" x2="978.19" y2="1426.26" stroke="#000" stroke-width="2.5"/>
<text transform="translate(959.7,1434.51) scale(1,1.07)" font-size="24" text-anchor="end" fill="#231f20" letter-spacing="0.7">0.6</text>
<text transform="translate(959.7,1483.75) scale(1,1.07)" font-size="24" text-anchor="end" fill="#231f20" letter-spacing="0.7">0</text>
<line x1="1028.23" y1="1476.05" x2="1028.23" y2="1486.55" stroke="#000" stroke-width="2.5"/>
<text transform="translate(1027.98,1512.91) scale(1,1.07)" font-size="24" text-anchor="middle" fill="#231f20">0</text>
<line x1="1128.81" y1="1476.05" x2="1128.81" y2="1486.55" stroke="#000" stroke-width="2.5"/>
<text transform="translate(1112.17,1512.91) scale(1,1.07)" font-size="24" text-anchor="start" fill="#231f20">10<tspan font-size="13.5" dy="-8.1">-2</tspan></text>
<line x1="1228.89" y1="1476.05" x2="1228.89" y2="1486.55" stroke="#000" stroke-width="2.5"/>
<text transform="translate(1212.76,1512.91) scale(1,1.07)" font-size="24" text-anchor="start" fill="#231f20">10<tspan font-size="13.5" dy="-8.1">-1</tspan></text>
<line x1="1329.54" y1="1476.05" x2="1329.54" y2="1486.55" stroke="#000" stroke-width="2.5"/>
<text transform="translate(1313.9,1512.91) scale(1,1.07)" font-size="24" text-anchor="start" fill="#231f20">10<tspan font-size="13.5" dy="-8.1">0</tspan></text>
<line x1="1430.12" y1="1476.05" x2="1430.12" y2="1486.55" stroke="#000" stroke-width="2.5"/>
<text transform="translate(1414.49,1512.91) scale(1,1.07)" font-size="24" text-anchor="start" fill="#231f20">10<tspan font-size="13.5" dy="-8.1">1</tspan></text>
<line x1="1530.46" y1="1476.05" x2="1530.46" y2="1486.55" stroke="#000" stroke-width="2.5"/>
<text transform="translate(1515.07,1512.91) scale(1,1.07)" font-size="24" text-anchor="start" fill="#231f20">10<tspan font-size="13.5" dy="-8.1">2</tspan></text>
<line x1="1631.04" y1="1476.05" x2="1631.04" y2="1486.55" stroke="#000" stroke-width="2.5"/>
<text transform="translate(1615.66,1512.91) scale(1,1.07)" font-size="24" text-anchor="start" fill="#231f20">10<tspan font-size="13.5" dy="-8.1">3</tspan></text>
<text transform="translate(912.6,1360.8) rotate(-90) scale(1,1.05)" font-size="25" text-anchor="middle" fill="#231f20">IL-4 (ng/mL)</text>
<text transform="translate(1258.5,1544) scale(1,1.05)" font-size="25" text-anchor="start" fill="#231f20">OVA<tspan font-size="15" dy="1.4" dx="2.2">329-337</tspan><tspan dy="-1.4" dx="0.6"> (nM)</tspan></text>
<path d="M1088.71 1476.05 V1472.02 H1102.91 V1476.05" fill="#fff" stroke="#000000" stroke-width="2.5"/>
<path d="M1110.71 1476.05 V1463.98 H1124.91 V1476.05" fill="#fff" stroke="#dd6e1b" stroke-width="2.5"/>
<path d="M1132.71 1476.05 V1474.04 H1146.91 V1476.05" fill="#fff" stroke="#2388c5" stroke-width="2.5"/>
<path d="M1154.71 1476.05 V1463.98 H1168.91 V1476.05" fill="#fff" stroke="#d075ad" stroke-width="2.5"/>
<path d="M1188.79 1476.05 V1469.01 H1202.99 V1476.05" fill="#fff" stroke="#000000" stroke-width="2.5"/>
<path d="M1210.79 1476.05 V1455.18 H1224.99 V1476.05" fill="#fff" stroke="#dd6e1b" stroke-width="2.5"/>
<path d="M1232.79 1476.05 V1470.26 H1246.99 V1476.05" fill="#fff" stroke="#2388c5" stroke-width="2.5"/>
<path d="M1254.79 1476.05 V1446.79 H1268.99 V1476.05" fill="#fff" stroke="#d075ad" stroke-width="2.5"/>
<path d="M1289.44 1476.05 V1466.49 H1303.64 V1476.05" fill="#fff" stroke="#000000" stroke-width="2.5"/>
<path d="M1311.44 1476.05 V1440.09 H1325.64 V1476.05" fill="#fff" stroke="#dd6e1b" stroke-width="2.5"/>
<path d="M1333.44 1476.05 V1466.49 H1347.64 V1476.05" fill="#fff" stroke="#2388c5" stroke-width="2.5"/>
<path d="M1355.44 1476.05 V1437.57 H1369.64 V1476.05" fill="#fff" stroke="#d075ad" stroke-width="2.5"/>
<path d="M1390.02 1476.05 V1458.95 H1404.22 V1476.05" fill="#fff" stroke="#000000" stroke-width="2.5"/>
<path d="M1412.02 1476.05 V1411.17 H1426.22 V1476.05" fill="#fff" stroke="#dd6e1b" stroke-width="2.5"/>
<path d="M1434.02 1476.05 V1461.46 H1448.22 V1476.05" fill="#fff" stroke="#2388c5" stroke-width="2.5"/>
<path d="M1456.02 1476.05 V1409.91 H1470.22 V1476.05" fill="#fff" stroke="#d075ad" stroke-width="2.5"/>
<path d="M1490.36 1476.05 V1438.08 H1504.56 V1476.05" fill="#fff" stroke="#000000" stroke-width="2.5"/>
<path d="M1512.36 1476.05 V1388.54 H1526.56 V1476.05" fill="#fff" stroke="#dd6e1b" stroke-width="2.5"/>
<path d="M1534.36 1476.05 V1447.63 H1548.56 V1476.05" fill="#fff" stroke="#2388c5" stroke-width="2.5"/>
<path d="M1556.36 1476.05 V1396.08 H1570.56 V1476.05" fill="#fff" stroke="#d075ad" stroke-width="2.5"/>
<path d="M1590.94 1476.05 V1416.7 H1605.14 V1476.05" fill="#fff" stroke="#000000" stroke-width="2.5"/>
<path d="M1612.94 1476.05 V1360.88 H1627.14 V1476.05" fill="#fff" stroke="#dd6e1b" stroke-width="2.5"/>
<path d="M1634.94 1476.05 V1430.03 H1649.14 V1476.05" fill="#fff" stroke="#2388c5" stroke-width="2.5"/>
<path d="M1656.94 1476.05 V1367.16 H1671.14 V1476.05" fill="#fff" stroke="#d075ad" stroke-width="2.5"/>
<line x1="967.69" y1="1476.05" x2="1681.58" y2="1476.05" stroke="#000" stroke-width="2.5"/>
<line x1="1497.46" y1="1423.74" x2="1497.46" y2="1451.4" stroke="#000000" stroke-width="2"/>
<line x1="1492.26" y1="1423.74" x2="1502.66" y2="1423.74" stroke="#000000" stroke-width="2"/>
<line x1="1492.26" y1="1451.4" x2="1502.66" y2="1451.4" stroke="#000000" stroke-width="2"/>
<line x1="1519.46" y1="1364.65" x2="1519.46" y2="1403.63" stroke="#dd6e1b" stroke-width="2"/>
<line x1="1514.26" y1="1364.65" x2="1524.66" y2="1364.65" stroke="#dd6e1b" stroke-width="2"/>
<line x1="1514.26" y1="1403.63" x2="1524.66" y2="1403.63" stroke="#dd6e1b" stroke-width="2"/>
<line x1="1541.46" y1="1437.57" x2="1541.46" y2="1458.95" stroke="#2388c5" stroke-width="2"/>
<line x1="1536.26" y1="1437.57" x2="1546.66" y2="1437.57" stroke="#2388c5" stroke-width="2"/>
<line x1="1536.26" y1="1458.95" x2="1546.66" y2="1458.95" stroke="#2388c5" stroke-width="2"/>
<line x1="1563.46" y1="1383.51" x2="1563.46" y2="1406.14" stroke="#d075ad" stroke-width="2"/>
<line x1="1558.26" y1="1383.51" x2="1568.66" y2="1383.51" stroke="#d075ad" stroke-width="2"/>
<line x1="1558.26" y1="1406.14" x2="1568.66" y2="1406.14" stroke="#d075ad" stroke-width="2"/>
<line x1="1598.04" y1="1404.88" x2="1598.04" y2="1428.77" stroke="#000000" stroke-width="2"/>
<line x1="1592.84" y1="1404.88" x2="1603.24" y2="1404.88" stroke="#000000" stroke-width="2"/>
<line x1="1592.84" y1="1428.77" x2="1603.24" y2="1428.77" stroke="#000000" stroke-width="2"/>
<line x1="1620.04" y1="1335.73" x2="1620.04" y2="1373.45" stroke="#dd6e1b" stroke-width="2"/>
<line x1="1614.84" y1="1335.73" x2="1625.24" y2="1335.73" stroke="#dd6e1b" stroke-width="2"/>
<line x1="1614.84" y1="1373.45" x2="1625.24" y2="1373.45" stroke="#dd6e1b" stroke-width="2"/>
<line x1="1664.04" y1="1355.85" x2="1664.04" y2="1375.96" stroke="#d075ad" stroke-width="2"/>
<line x1="1658.84" y1="1355.85" x2="1669.24" y2="1355.85" stroke="#d075ad" stroke-width="2"/>
<line x1="1658.84" y1="1375.96" x2="1669.24" y2="1375.96" stroke="#d075ad" stroke-width="2"/>
<circle cx="992.71" cy="1476.05" r="6" fill="#000000"/>
<circle cx="998.31" cy="1476.05" r="6" fill="#000000"/>
<circle cx="995.51" cy="1476.05" r="6" fill="#000000"/>
<rect x="1007.67" y="1469.2" width="13.7" height="13.7" fill="#dd6e1b" rx="1.6"/>
<rect x="1013.27" y="1469.2" width="13.7" height="13.7" fill="#dd6e1b" rx="1.6"/>
<rect x="1010.47" y="1469.2" width="13.7" height="13.7" fill="#dd6e1b" rx="1.6"/>
<polygon points="1030.76,1481.45 1042.16,1481.45 1036.46,1470.65" fill="#2388c5" stroke="#2388c5" stroke-width="1.6" stroke-linejoin="round"/>
<polygon points="1036.36,1481.45 1047.76,1481.45 1042.06,1470.65" fill="#2388c5" stroke="#2388c5" stroke-width="1.6" stroke-linejoin="round"/>
<polygon points="1033.56,1481.45 1044.96,1481.45 1039.26,1470.65" fill="#2388c5" stroke="#2388c5" stroke-width="1.6" stroke-linejoin="round"/>
<polygon points="1052.7,1470.65 1064.1,1470.65 1058.4,1481.45" fill="#d075ad" stroke="#d075ad" stroke-width="1.6" stroke-linejoin="round"/>
<polygon points="1058.3,1470.65 1069.7,1470.65 1064,1481.45" fill="#d075ad" stroke="#d075ad" stroke-width="1.6" stroke-linejoin="round"/>
<polygon points="1055.5,1470.65 1066.9,1470.65 1061.2,1481.45" fill="#d075ad" stroke="#d075ad" stroke-width="1.6" stroke-linejoin="round"/>
<circle cx="1093.01" cy="1472.02" r="6" fill="#000000"/>
<circle cx="1095.81" cy="1472.02" r="6" fill="#000000"/>
<circle cx="1098.61" cy="1472.02" r="6" fill="#000000"/>
<rect x="1108.16" y="1452.1" width="13.7" height="13.7" fill="#dd6e1b" rx="1.6"/>
<rect x="1112.64" y="1457.13" width="13.7" height="13.7" fill="#dd6e1b" rx="1.6"/>
<rect x="1113.76" y="1453.6" width="13.7" height="13.7" fill="#dd6e1b" rx="1.6"/>
<rect x="1109.28" y="1456.13" width="13.7" height="13.7" fill="#dd6e1b" rx="1.6"/>
<polygon points="1134.11,1474.66 1145.51,1474.66 1139.81,1463.86" fill="#2388c5" stroke="#2388c5" stroke-width="1.6" stroke-linejoin="round"/>
<polygon points="1131.31,1481.99 1142.71,1481.99 1137.01,1471.19" fill="#2388c5" stroke="#2388c5" stroke-width="1.6" stroke-linejoin="round"/>
<polygon points="1136.91,1481.99 1148.31,1481.99 1142.61,1471.19" fill="#2388c5" stroke="#2388c5" stroke-width="1.6" stroke-linejoin="round"/>
<polygon points="1153.31,1454.8 1164.71,1454.8 1159.01,1465.6" fill="#d075ad" stroke="#d075ad" stroke-width="1.6" stroke-linejoin="round"/>
<polygon points="1156.11,1458.58 1167.51,1458.58 1161.81,1469.38" fill="#d075ad" stroke="#d075ad" stroke-width="1.6" stroke-linejoin="round"/>
<polygon points="1158.91,1454.8 1170.31,1454.8 1164.61,1465.6" fill="#d075ad" stroke="#d075ad" stroke-width="1.6" stroke-linejoin="round"/>
<circle cx="1193.09" cy="1469.01" r="6" fill="#000000"/>
<circle cx="1195.89" cy="1469.01" r="6" fill="#000000"/>
<circle cx="1198.69" cy="1469.01" r="6" fill="#000000"/>
<rect x="1208.24" y="1440.78" width="13.7" height="13.7" fill="#dd6e1b" rx="1.6"/>
<rect x="1212.72" y="1449.58" width="13.7" height="13.7" fill="#dd6e1b" rx="1.6"/>
<rect x="1213.84" y="1442.28" width="13.7" height="13.7" fill="#dd6e1b" rx="1.6"/>
<rect x="1209.36" y="1448.58" width="13.7" height="13.7" fill="#dd6e1b" rx="1.6"/>
<polygon points="1234.19,1470.89 1245.59,1470.89 1239.89,1460.09" fill="#2388c5" stroke="#2388c5" stroke-width="1.6" stroke-linejoin="round"/>
<polygon points="1231.39,1476.96 1242.79,1476.96 1237.09,1466.16" fill="#2388c5" stroke="#2388c5" stroke-width="1.6" stroke-linejoin="round"/>
<polygon points="1236.99,1476.96 1248.39,1476.96 1242.69,1466.16" fill="#2388c5" stroke="#2388c5" stroke-width="1.6" stroke-linejoin="round"/>
<polygon points="1253.39,1439.72 1264.79,1439.72 1259.09,1450.52" fill="#d075ad" stroke="#d075ad" stroke-width="1.6" stroke-linejoin="round"/>
<polygon points="1256.19,1444.75 1267.59,1444.75 1261.89,1455.55" fill="#d075ad" stroke="#d075ad" stroke-width="1.6" stroke-linejoin="round"/>
<polygon points="1258.99,1439.72 1270.39,1439.72 1264.69,1450.52" fill="#d075ad" stroke="#d075ad" stroke-width="1.6" stroke-linejoin="round"/>
<circle cx="1296.85" cy="1457.69" r="6" fill="#000000"/>
<circle cx="1296.85" cy="1467.75" r="6" fill="#000000"/>
<rect x="1308.89" y="1428.21" width="13.7" height="13.7" fill="#dd6e1b" rx="1.6"/>
<rect x="1313.37" y="1434.5" width="13.7" height="13.7" fill="#dd6e1b" rx="1.6"/>
<rect x="1314.49" y="1429.71" width="13.7" height="13.7" fill="#dd6e1b" rx="1.6"/>
<rect x="1310.01" y="1433.5" width="13.7" height="13.7" fill="#dd6e1b" rx="1.6"/>
<polygon points="1334.84,1465.86 1346.24,1465.86 1340.54,1455.06" fill="#2388c5" stroke="#2388c5" stroke-width="1.6" stroke-linejoin="round"/>
<polygon points="1332.04,1474.45 1343.44,1474.45 1337.74,1463.65" fill="#2388c5" stroke="#2388c5" stroke-width="1.6" stroke-linejoin="round"/>
<polygon points="1337.64,1474.45 1349.04,1474.45 1343.34,1463.65" fill="#2388c5" stroke="#2388c5" stroke-width="1.6" stroke-linejoin="round"/>
<polygon points="1354.04,1427.9 1365.44,1427.9 1359.74,1438.7" fill="#d075ad" stroke="#d075ad" stroke-width="1.6" stroke-linejoin="round"/>
<polygon points="1356.84,1433.43 1368.24,1433.43 1362.54,1444.23" fill="#d075ad" stroke="#d075ad" stroke-width="1.6" stroke-linejoin="round"/>
<polygon points="1359.64,1427.9 1371.04,1427.9 1365.34,1438.7" fill="#d075ad" stroke="#d075ad" stroke-width="1.6" stroke-linejoin="round"/>
<circle cx="1397.43" cy="1448.89" r="6" fill="#000000"/>
<circle cx="1394.32" cy="1458.95" r="6" fill="#000000"/>
<circle cx="1397.12" cy="1462.72" r="6" fill="#000000"/>
<circle cx="1399.92" cy="1458.95" r="6" fill="#000000"/>
<rect x="1409.47" y="1399.29" width="13.7" height="13.7" fill="#dd6e1b" rx="1.6"/>
<rect x="1413.95" y="1405.58" width="13.7" height="13.7" fill="#dd6e1b" rx="1.6"/>
<rect x="1415.07" y="1400.79" width="13.7" height="13.7" fill="#dd6e1b" rx="1.6"/>
<rect x="1410.59" y="1404.58" width="13.7" height="13.7" fill="#dd6e1b" rx="1.6"/>
<polygon points="1435.42,1458.82 1446.82,1458.82 1441.12,1448.02" fill="#2388c5" stroke="#2388c5" stroke-width="1.6" stroke-linejoin="round"/>
<polygon points="1432.62,1466.86 1444.02,1466.86 1438.32,1456.06" fill="#2388c5" stroke="#2388c5" stroke-width="1.6" stroke-linejoin="round"/>
<polygon points="1438.22,1471.89 1449.62,1471.89 1443.92,1461.09" fill="#2388c5" stroke="#2388c5" stroke-width="1.6" stroke-linejoin="round"/>
<polygon points="1454.62,1395.71 1466.02,1395.71 1460.32,1406.51" fill="#d075ad" stroke="#d075ad" stroke-width="1.6" stroke-linejoin="round"/>
<polygon points="1460.22,1403.25 1471.62,1403.25 1465.92,1414.05" fill="#d075ad" stroke="#d075ad" stroke-width="1.6" stroke-linejoin="round"/>
<polygon points="1457.42,1408.28 1468.82,1408.28 1463.12,1419.08" fill="#d075ad" stroke="#d075ad" stroke-width="1.6" stroke-linejoin="round"/>
<circle cx="1494.66" cy="1426.26" r="6" fill="#000000"/>
<circle cx="1497.46" cy="1430.78" r="6" fill="#000000"/>
<circle cx="1498.02" cy="1457.69" r="6" fill="#000000"/>
<circle cx="1500.26" cy="1426.26" r="6" fill="#000000"/>
<rect x="1513.04" y="1351.51" width="13.7" height="13.7" fill="#dd6e1b" rx="1.6"/>
<rect x="1510.78" y="1380.43" width="13.7" height="13.7" fill="#dd6e1b" rx="1.6"/>
<rect x="1515.42" y="1386.72" width="13.7" height="13.7" fill="#dd6e1b" rx="1.6"/>
<rect x="1510.78" y="1391.75" width="13.7" height="13.7" fill="#dd6e1b" rx="1.6"/>
<polygon points="1536.32,1435.43 1547.72,1435.43 1542.02,1424.63" fill="#2388c5" stroke="#2388c5" stroke-width="1.6" stroke-linejoin="round"/>
<polygon points="1534.56,1451.77 1545.96,1451.77 1540.26,1440.97" fill="#2388c5" stroke="#2388c5" stroke-width="1.6" stroke-linejoin="round"/>
<polygon points="1538.72,1458.06 1550.12,1458.06 1544.42,1447.26" fill="#2388c5" stroke="#2388c5" stroke-width="1.6" stroke-linejoin="round"/>
<polygon points="1532.94,1468.12 1544.34,1468.12 1538.64,1457.32" fill="#2388c5" stroke="#2388c5" stroke-width="1.6" stroke-linejoin="round"/>
<polygon points="1554.96,1374.34 1566.36,1374.34 1560.66,1385.14" fill="#d075ad" stroke="#d075ad" stroke-width="1.6" stroke-linejoin="round"/>
<polygon points="1560.56,1381.88 1571.96,1381.88 1566.26,1392.68" fill="#d075ad" stroke="#d075ad" stroke-width="1.6" stroke-linejoin="round"/>
<polygon points="1557.76,1385.65 1569.16,1385.65 1563.46,1396.45" fill="#d075ad" stroke="#d075ad" stroke-width="1.6" stroke-linejoin="round"/>
<polygon points="1557.7,1407.03 1569.1,1407.03 1563.4,1417.83" fill="#d075ad" stroke="#d075ad" stroke-width="1.6" stroke-linejoin="round"/>
<circle cx="1595.22" cy="1403.12" r="6" fill="#000000"/>
<circle cx="1602.45" cy="1402.37" r="6" fill="#000000"/>
<circle cx="1602.45" cy="1425" r="6" fill="#000000"/>
<circle cx="1596.34" cy="1432.54" r="6" fill="#000000"/>
<rect x="1613.63" y="1323.35" width="13.7" height="13.7" fill="#dd6e1b" rx="1.6"/>
<rect x="1610.39" y="1350.26" width="13.7" height="13.7" fill="#dd6e1b" rx="1.6"/>
<rect x="1615.99" y="1357.8" width="13.7" height="13.7" fill="#dd6e1b" rx="1.6"/>
<rect x="1613.19" y="1361.57" width="13.7" height="13.7" fill="#dd6e1b" rx="1.6"/>
<polygon points="1636.34,1426.13 1647.74,1426.13 1642.04,1415.33" fill="#2388c5" stroke="#2388c5" stroke-width="1.6" stroke-linejoin="round"/>
<polygon points="1633.54,1434.17 1644.94,1434.17 1639.24,1423.37" fill="#2388c5" stroke="#2388c5" stroke-width="1.6" stroke-linejoin="round"/>
<polygon points="1639.14,1439.2 1650.54,1439.2 1644.84,1428.4" fill="#2388c5" stroke="#2388c5" stroke-width="1.6" stroke-linejoin="round"/>
<polygon points="1636.34,1444.23 1647.74,1444.23 1642.04,1433.43" fill="#2388c5" stroke="#2388c5" stroke-width="1.6" stroke-linejoin="round"/>
<polygon points="1658.79,1347.43 1670.19,1347.43 1664.49,1358.23" fill="#d075ad" stroke="#d075ad" stroke-width="1.6" stroke-linejoin="round"/>
<polygon points="1662.03,1347.93 1673.43,1347.93 1667.73,1358.73" fill="#d075ad" stroke="#d075ad" stroke-width="1.6" stroke-linejoin="round"/>
<polygon points="1662.03,1366.79 1673.43,1366.79 1667.73,1377.59" fill="#d075ad" stroke="#d075ad" stroke-width="1.6" stroke-linejoin="round"/>
<polygon points="1656.52,1373.08 1667.92,1373.08 1662.22,1383.88" fill="#d075ad" stroke="#d075ad" stroke-width="1.6" stroke-linejoin="round"/>
<line x1="1088.33" y1="1445.42" x2="1124.03" y2="1445.42" stroke="#1a1a1a" stroke-width="2.9"/>
<text transform="translate(1082.92,1436.32) scale(1,1.05)" font-size="20.8" text-anchor="middle" fill="#231f20">0.0002</text>
<line x1="1135.61" y1="1445.42" x2="1171.56" y2="1445.42" stroke="#1a1a1a" stroke-width="2.9"/>
<text transform="translate(1168.92,1436.32) scale(1,1.05)" font-size="20.8" text-anchor="middle" fill="#231f20">0.0008</text>
<line x1="1088.33" y1="1410.72" x2="1150.94" y2="1410.72" stroke="#1a1a1a" stroke-width="2.9"/>
<text transform="translate(1125.54,1401.61) scale(1,1.05)" font-size="20.8" text-anchor="middle" fill="#231f20">0.6134</text>
<line x1="1188.92" y1="1354.39" x2="1251.02" y2="1354.39" stroke="#1a1a1a" stroke-width="2.9"/>
<text transform="translate(1231.79,1345.79) scale(1,1.05)" font-size="20.8" text-anchor="middle" fill="#231f20">0.0403</text>
<line x1="1188.92" y1="1389.34" x2="1224.37" y2="1389.34" stroke="#1a1a1a" stroke-width="2.9"/>
<text transform="translate(1209.53,1380.49) scale(1,1.05)" font-size="20.8" text-anchor="middle" fill="#231f20">0.0003</text>
<line x1="1235.94" y1="1424.04" x2="1272.14" y2="1424.04" stroke="#1a1a1a" stroke-width="2.9"/>
<text transform="translate(1241.34,1415.44) scale(1,1.05)" font-size="20.8" text-anchor="middle" fill="#231f20">&lt;0.0001</text>
<line x1="1289.56" y1="1389.34" x2="1325.26" y2="1389.34" stroke="#1a1a1a" stroke-width="2.9"/>
<text transform="translate(1285.41,1380.49) scale(1,1.05)" font-size="20.8" text-anchor="middle" fill="#231f20">0.0004</text>
<line x1="1336.58" y1="1389.34" x2="1372.28" y2="1389.34" stroke="#1a1a1a" stroke-width="2.9"/>
<text transform="translate(1379.33,1380.49) scale(1,1.05)" font-size="20.8" text-anchor="middle" fill="#231f20">&lt;0.0001</text>
<line x1="1289.56" y1="1424.04" x2="1351.66" y2="1424.04" stroke="#1a1a1a" stroke-width="2.9"/>
<text transform="translate(1325.89,1416.2) scale(1,1.05)" font-size="20.8" text-anchor="middle" fill="#231f20">0.7874</text>
<line x1="1390.9" y1="1354.39" x2="1426.85" y2="1354.39" stroke="#1a1a1a" stroke-width="2.9"/>
<text transform="translate(1392.78,1345.79) scale(1,1.05)" font-size="20.8" text-anchor="middle" fill="#231f20">&lt;0.0001</text>
<line x1="1437.92" y1="1354.39" x2="1474.13" y2="1354.39" stroke="#1a1a1a" stroke-width="2.9"/>
<text transform="translate(1479.91,1345.79) scale(1,1.05)" font-size="20.8" text-anchor="middle" fill="#231f20">&lt;0.0001</text>
<line x1="1390.9" y1="1320.19" x2="1452.75" y2="1320.19" stroke="#1a1a1a" stroke-width="2.9"/>
<text transform="translate(1421.82,1312.6) scale(1,1.05)" font-size="20.8" text-anchor="middle" fill="#231f20">0.8418</text>
<line x1="1489.47" y1="1320.19" x2="1525.68" y2="1320.19" stroke="#1a1a1a" stroke-width="2.9"/>
<text transform="translate(1499.65,1312.6) scale(1,1.05)" font-size="20.8" text-anchor="middle" fill="#231f20">0.0043</text>
<line x1="1536.75" y1="1320.19" x2="1572.95" y2="1320.19" stroke="#1a1a1a" stroke-width="2.9"/>
<text transform="translate(1575.72,1312.6) scale(1,1.05)" font-size="20.8" text-anchor="middle" fill="#231f20">0.0015</text>
<line x1="1489.47" y1="1286.24" x2="1552.08" y2="1286.24" stroke="#1a1a1a" stroke-width="2.9"/>
<text transform="translate(1528.7,1277.89) scale(1,1.05)" font-size="20.8" text-anchor="middle" fill="#231f20">0.3375</text>
<line x1="1590.06" y1="1254.81" x2="1625.76" y2="1254.81" stroke="#1a1a1a" stroke-width="2.9"/>
<text transform="translate(1586.78,1245.2) scale(1,1.05)" font-size="20.8" text-anchor="middle" fill="#231f20">0.0023</text>
<line x1="1590.06" y1="1286.24" x2="1652.16" y2="1286.24" stroke="#1a1a1a" stroke-width="2.9"/>
<text transform="translate(1630.41,1277.89) scale(1,1.05)" font-size="20.8" text-anchor="middle" fill="#231f20">0.1957</text>
<line x1="1637.08" y1="1320.19" x2="1673.28" y2="1320.19" stroke="#1a1a1a" stroke-width="2.9"/>
<text transform="translate(1670.02,1312.6) scale(1,1.05)" font-size="20.8" text-anchor="middle" fill="#231f20">0.0001</text>
</g>
<g>
<line x1="642.35" y1="1660.71" x2="642.35" y2="1848.64" stroke="#000" stroke-width="2.5"/>
<line x1="633.85" y1="1847.39" x2="898.1" y2="1847.39" stroke="#000" stroke-width="2.5"/>
<line x1="633.85" y1="1661.96" x2="642.35" y2="1661.96" stroke="#000" stroke-width="2.5"/>
<text transform="translate(629.15,1670.76) scale(1,1.05)" font-size="25" text-anchor="end" fill="#231f20">80</text>
<line x1="633.85" y1="1708.05" x2="642.35" y2="1708.05" stroke="#000" stroke-width="2.5"/>
<text transform="translate(629.15,1716.85) scale(1,1.05)" font-size="25" text-anchor="end" fill="#231f20">60</text>
<line x1="633.85" y1="1755" x2="642.35" y2="1755" stroke="#000" stroke-width="2.5"/>
<text transform="translate(629.15,1763.8) scale(1,1.05)" font-size="25" text-anchor="end" fill="#231f20">40</text>
<line x1="633.85" y1="1801.09" x2="642.35" y2="1801.09" stroke="#000" stroke-width="2.5"/>
<text transform="translate(629.15,1809.89) scale(1,1.05)" font-size="25" text-anchor="end" fill="#231f20">20</text>
<text transform="translate(629.15,1856.19) scale(1,1.05)" font-size="25" text-anchor="end" fill="#231f20">0</text>
<line x1="770.01" y1="1847.39" x2="770.01" y2="1855.61" stroke="#000" stroke-width="2.5"/>
<text transform="translate(770.01,1883.09) scale(1,1.05)" font-size="25" text-anchor="middle" fill="#231f20">+ OVA</text>
<text transform="translate(582.41,1743.1) rotate(-90) scale(1,1.05)" font-size="25" text-anchor="middle" fill="#231f20"><tspan font-size="24" font-family="Liberation Serif, serif">Δ</tspan><tspan dx="3.5">CD107a (%)</tspan></text>
<line x1="678.48" y1="1616.52" x2="856.99" y2="1616.52" stroke="#1a1a1a" stroke-width="2.9"/>
<text transform="translate(775.52,1611.11) scale(1,1.05)" font-size="20.8" text-anchor="middle" fill="#231f20">0.0005</text>
<line x1="678.48" y1="1648.98" x2="797.92" y2="1648.98" stroke="#1a1a1a" stroke-width="2.9"/>
<text transform="translate(744.8,1639.67) scale(1,1.05)" font-size="20.8" text-anchor="middle" fill="#231f20">0.7588</text>
<line x1="678.48" y1="1681.87" x2="738.63" y2="1681.87" stroke="#1a1a1a" stroke-width="2.9"/>
<text transform="translate(715.48,1672.78) scale(1,1.05)" font-size="20.8" text-anchor="middle" fill="#231f20">0.0018</text>
<line x1="744.47" y1="1681.87" x2="856.99" y2="1681.87" stroke="#1a1a1a" stroke-width="2.9"/>
<text transform="translate(807.76,1672.78) scale(1,1.05)" font-size="20.8" text-anchor="middle" fill="#231f20">0.2568</text>
<line x1="681.73" y1="1788.97" x2="681.73" y2="1802.6" stroke="#000000" stroke-width="2.2"/>
<line x1="671.23" y1="1788.97" x2="692.23" y2="1788.97" stroke="#000000" stroke-width="2.2"/>
<line x1="671.23" y1="1802.6" x2="692.23" y2="1802.6" stroke="#000000" stroke-width="2.2"/>
<line x1="662.25" y1="1795.68" x2="701.2" y2="1795.68" stroke="#000000" stroke-width="2.2"/>
<circle cx="667.23" cy="1790.7" r="6" fill="#000000"/>
<circle cx="695.79" cy="1790.7" r="6" fill="#000000"/>
<circle cx="681.73" cy="1795.46" r="6" fill="#000000"/>
<circle cx="681.73" cy="1806.93" r="6" fill="#000000"/>
<line x1="740.58" y1="1717.78" x2="740.58" y2="1758.25" stroke="#dd6e1b" stroke-width="2.2"/>
<line x1="730.08" y1="1717.78" x2="751.08" y2="1717.78" stroke="#dd6e1b" stroke-width="2.2"/>
<line x1="730.08" y1="1758.25" x2="751.08" y2="1758.25" stroke="#dd6e1b" stroke-width="2.2"/>
<line x1="721.11" y1="1737.69" x2="760.7" y2="1737.69" stroke="#dd6e1b" stroke-width="2.2"/>
<rect x="719.66" y="1721.1" width="13.7" height="13.7" fill="#dd6e1b" rx="1.6"/>
<rect x="747.79" y="1712.45" width="13.7" height="13.7" fill="#dd6e1b" rx="1.6"/>
<rect x="747.79" y="1731.92" width="13.7" height="13.7" fill="#dd6e1b" rx="1.6"/>
<rect x="733.73" y="1758.97" width="13.7" height="13.7" fill="#dd6e1b" rx="1.6"/>
<line x1="800.08" y1="1783.13" x2="800.08" y2="1803.25" stroke="#efc163" stroke-width="2.2"/>
<line x1="789.58" y1="1783.13" x2="810.58" y2="1783.13" stroke="#efc163" stroke-width="2.2"/>
<line x1="789.58" y1="1803.25" x2="810.58" y2="1803.25" stroke="#efc163" stroke-width="2.2"/>
<line x1="780.18" y1="1792.87" x2="819.12" y2="1792.87" stroke="#efc163" stroke-width="2.2"/>
<polygon points="780.32,1793.51 791.72,1793.51 786.02,1782.71" fill="#efc163" stroke="#efc163" stroke-width="1.6" stroke-linejoin="round"/>
<polygon points="808.01,1789.61 819.41,1789.61 813.71,1778.81" fill="#efc163" stroke="#efc163" stroke-width="1.6" stroke-linejoin="round"/>
<polygon points="808.01,1803.67 819.41,1803.67 813.71,1792.87" fill="#efc163" stroke="#efc163" stroke-width="1.6" stroke-linejoin="round"/>
<polygon points="780.32,1811.25 791.72,1811.25 786.02,1800.45" fill="#efc163" stroke="#efc163" stroke-width="1.6" stroke-linejoin="round"/>
<line x1="858.5" y1="1698.74" x2="858.5" y2="1740.94" stroke="#2388c5" stroke-width="2.2"/>
<line x1="848" y1="1698.74" x2="869" y2="1698.74" stroke="#2388c5" stroke-width="2.2"/>
<line x1="848" y1="1740.94" x2="869" y2="1740.94" stroke="#2388c5" stroke-width="2.2"/>
<line x1="839.68" y1="1719.73" x2="878.63" y2="1719.73" stroke="#2388c5" stroke-width="2.2"/>
<polygon points="852.8,1689.45 864.2,1689.45 858.5,1700.25" fill="#2388c5" stroke="#2388c5" stroke-width="1.6" stroke-linejoin="round"/>
<polygon points="838.95,1711.3 850.35,1711.3 844.65,1722.1" fill="#2388c5" stroke="#2388c5" stroke-width="1.6" stroke-linejoin="round"/>
<polygon points="867.08,1714.33 878.48,1714.33 872.78,1725.13" fill="#2388c5" stroke="#2388c5" stroke-width="1.6" stroke-linejoin="round"/>
<polygon points="852.8,1741.16 864.2,1741.16 858.5,1751.96" fill="#2388c5" stroke="#2388c5" stroke-width="1.6" stroke-linejoin="round"/>
</g>
</svg>
</body></html>
